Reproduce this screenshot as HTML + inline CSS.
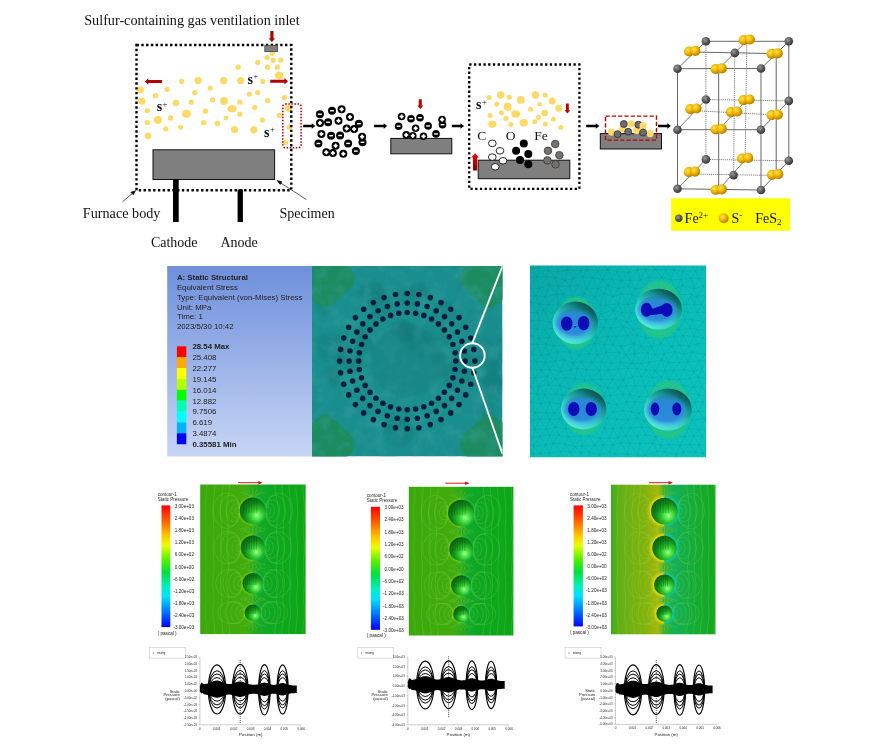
<!DOCTYPE html>
<html><head><meta charset="utf-8"><title>Figure</title>
<style>
html,body{margin:0;padding:0;background:#fff;}
body{width:876px;height:749px;overflow:hidden;position:relative;}
svg{position:absolute;left:0;top:0;display:block;}
.se{font-family:"Liberation Serif",serif;fill:#111;}
.sa{font-family:"Liberation Sans",sans-serif;fill:#222;}
</style></head><body>
<svg width="876" height="749" viewBox="0 0 876 749">
<defs>
<marker id="m" viewBox="0 0 10 10" refX="9" refY="5" markerWidth="7" markerHeight="7" orient="auto"><path d="M0,1.5 L10,5 L0,8.5 z" fill="#111"/></marker>
<radialGradient id="gy" cx="0.38" cy="0.35" r="0.7"><stop offset="0" stop-color="#ffe65a"/><stop offset="0.45" stop-color="#f5b800"/><stop offset="1" stop-color="#a87400"/></radialGradient>
<radialGradient id="gg" cx="0.38" cy="0.35" r="0.7"><stop offset="0" stop-color="#9a9a9a"/><stop offset="0.5" stop-color="#5e5e5e"/><stop offset="1" stop-color="#2e2e2e"/></radialGradient>
<linearGradient id="rup" x1="0" y1="0" x2="0" y2="1"><stop offset="0" stop-color="#ff0000"/><stop offset="1" stop-color="#8a0000"/></linearGradient>
<linearGradient id="pan" x1="0" y1="0" x2="0" y2="1"><stop offset="0" stop-color="#6f8fdc"/><stop offset="1" stop-color="#c7d5f4"/></linearGradient>
<linearGradient id="rb" x1="0" y1="0" x2="0" y2="1">
<stop offset="0" stop-color="#ff0000"/><stop offset="0.12" stop-color="#ff5a00"/><stop offset="0.25" stop-color="#ffc800"/><stop offset="0.33" stop-color="#e6ff00"/><stop offset="0.45" stop-color="#50f000"/><stop offset="0.55" stop-color="#00e040"/><stop offset="0.67" stop-color="#00f0c0"/><stop offset="0.75" stop-color="#00e0ff"/><stop offset="0.88" stop-color="#0070ff"/><stop offset="1" stop-color="#0000ff"/></linearGradient>
<filter id="b1" x="-5%" y="-5%" width="110%" height="110%"><feGaussianBlur stdDeviation="0.45"/></filter>
<filter id="b2" x="-5%" y="-5%" width="110%" height="110%"><feGaussianBlur stdDeviation="0.6"/></filter>
<filter id="b4" x="-30%" y="-30%" width="160%" height="160%"><feGaussianBlur stdDeviation="0.9"/></filter>
<filter id="b3" x="-20%" y="-20%" width="140%" height="140%"><feGaussianBlur stdDeviation="1.2"/></filter>
</defs>
<rect width="876" height="749" fill="#fff"/>

<g id="furnace">
<text class="se" x="84.2" y="25" font-size="14.2" textLength="215.4" lengthAdjust="spacingAndGlyphs">Sulfur-containing gas ventilation inlet</text>
<ellipse cx="140.2" cy="90" rx="3.6" ry="3.6" fill="#FFD966"/>
<ellipse cx="141.8" cy="101.2" rx="3.6" ry="3.6" fill="#FFD966"/>
<ellipse cx="167" cy="89.4" rx="2.6" ry="2.6" fill="#FFD966"/>
<ellipse cx="155.6" cy="95.7" rx="2.6" ry="2.6" fill="#FFD966"/>
<ellipse cx="181.7" cy="81.4" rx="2.6" ry="2.6" fill="#FFD966"/>
<ellipse cx="198.1" cy="80.6" rx="3.6" ry="3.6" fill="#FFD966"/>
<ellipse cx="223.6" cy="80.6" rx="3.6" ry="3.6" fill="#FFD966"/>
<ellipse cx="210.3" cy="88" rx="2.6" ry="2.6" fill="#FFD966"/>
<ellipse cx="194.9" cy="92.7" rx="2.6" ry="2.6" fill="#FFD966"/>
<ellipse cx="175.9" cy="103" rx="3.2" ry="3.2" fill="#FFD966"/>
<ellipse cx="191.3" cy="102.2" rx="2.6" ry="2.6" fill="#FFD966"/>
<ellipse cx="212.6" cy="99.8" rx="2.6" ry="2.6" fill="#FFD966"/>
<ellipse cx="224" cy="101" rx="4" ry="4" fill="#FFD966"/>
<ellipse cx="147.4" cy="110.7" rx="2.7" ry="2.4" fill="#FFD966"/>
<ellipse cx="186.5" cy="113.8" rx="4.5" ry="4" fill="#FFD966"/>
<ellipse cx="205.5" cy="111.2" rx="2.6" ry="2.6" fill="#FFD966"/>
<ellipse cx="230" cy="108.9" rx="2.6" ry="2.6" fill="#FFD966"/>
<ellipse cx="147.4" cy="122.5" rx="2.6" ry="2.6" fill="#FFD966"/>
<ellipse cx="157.9" cy="120.1" rx="4" ry="4" fill="#FFD966"/>
<ellipse cx="170.5" cy="117.9" rx="2.6" ry="2.6" fill="#FFD966"/>
<ellipse cx="165.7" cy="128.9" rx="2.6" ry="2.6" fill="#FFD966"/>
<ellipse cx="180.4" cy="127.2" rx="2.5" ry="2.5" fill="#FFD966"/>
<ellipse cx="203.7" cy="122.5" rx="2.6" ry="2.6" fill="#FFD966"/>
<ellipse cx="217.4" cy="123.5" rx="2.8" ry="2.8" fill="#FFD966"/>
<ellipse cx="225.9" cy="117.9" rx="2.4" ry="2.4" fill="#FFD966"/>
<ellipse cx="148" cy="135.8" rx="3.4" ry="3.4" fill="#FFD966"/>
<ellipse cx="272.3" cy="53.3" rx="2.6" ry="2.6" fill="#FFD966"/>
<ellipse cx="267" cy="57.5" rx="2.6" ry="2.6" fill="#FFD966"/>
<ellipse cx="273.2" cy="60.2" rx="2.6" ry="2.6" fill="#FFD966"/>
<ellipse cx="280.7" cy="60.1" rx="2.6" ry="2.6" fill="#FFD966"/>
<ellipse cx="257.7" cy="62.4" rx="2.6" ry="2.6" fill="#FFD966"/>
<ellipse cx="238.2" cy="67.2" rx="2.6" ry="2.6" fill="#FFD966"/>
<ellipse cx="267.6" cy="67.2" rx="2.6" ry="2.6" fill="#FFD966"/>
<ellipse cx="277.3" cy="67.2" rx="2.6" ry="2.6" fill="#FFD966"/>
<ellipse cx="279.2" cy="75.6" rx="4.4" ry="3.8" fill="#FFD966"/>
<ellipse cx="240.7" cy="80.7" rx="3.6" ry="3.6" fill="#FFD966"/>
<ellipse cx="262.8" cy="81.4" rx="2.6" ry="2.6" fill="#FFD966"/>
<ellipse cx="249.4" cy="94" rx="2.6" ry="2.6" fill="#FFD966"/>
<ellipse cx="257.7" cy="92.7" rx="2.6" ry="2.6" fill="#FFD966"/>
<ellipse cx="284.4" cy="97.5" rx="2.6" ry="2.6" fill="#FFD966"/>
<ellipse cx="267.6" cy="100.5" rx="2.6" ry="2.6" fill="#FFD966"/>
<ellipse cx="239.9" cy="102.2" rx="2.6" ry="2.6" fill="#FFD966"/>
<ellipse cx="232.3" cy="108.7" rx="4.5" ry="3.8" fill="#FFD966"/>
<ellipse cx="254.7" cy="107.6" rx="2.6" ry="2.6" fill="#FFD966"/>
<ellipse cx="288.6" cy="108.3" rx="3.6" ry="3.6" fill="#FFD966"/>
<ellipse cx="239.9" cy="114.1" rx="2.6" ry="2.6" fill="#FFD966"/>
<ellipse cx="279.5" cy="115.3" rx="2.6" ry="2.6" fill="#FFD966"/>
<ellipse cx="262.4" cy="120.1" rx="2.6" ry="2.6" fill="#FFD966"/>
<ellipse cx="234.5" cy="129.6" rx="3.6" ry="3.6" fill="#FFD966"/>
<ellipse cx="253.7" cy="129.8" rx="3.6" ry="3.6" fill="#FFD966"/>
<ellipse cx="289.5" cy="127.2" rx="2.6" ry="2.6" fill="#FFD966"/>
<ellipse cx="285.7" cy="142.5" rx="2.6" ry="2.6" fill="#FFD966"/>
<rect x="136.5" y="45" width="154.8" height="145.3" fill="none" stroke="#000" stroke-width="2.4" stroke-dasharray="2.4 2.39"/>
<rect x="264.8" y="45.4" width="12.8" height="6.2" fill="#808080" stroke="#444" stroke-width="0.8"/>
<polygon points="270.3,31.0 270.3,38.4 268.7,38.4 271.9,42.0 275.1,38.4 273.5,38.4 273.5,31.0" fill="#B00000"/>
<polygon points="162.0,80.0 148.4,80.0 148.4,78.3 144.8,81.5 148.4,84.7 148.4,83.0 162.0,83.0" fill="#B00000"/>
<polygon points="270.3,82.8 284.4,82.8 284.4,84.5 288.0,81.3 284.4,78.1 284.4,79.8 270.3,79.8" fill="#B00000"/>
<text class="se" x="159.4" y="111.4" font-size="14" font-weight="bold" text-anchor="middle">s</text>
<text class="se" x="165.0" y="106.9" font-size="8.5" text-anchor="middle">+</text>
<text class="se" x="250.2" y="83.8" font-size="14" font-weight="bold" text-anchor="middle">s</text>
<text class="se" x="255.79999999999998" y="79.3" font-size="8.5" text-anchor="middle">+</text>
<text class="se" x="266.7" y="136.6" font-size="14" font-weight="bold" text-anchor="middle">s</text>
<text class="se" x="272.3" y="132.1" font-size="8.5" text-anchor="middle">+</text>
<rect x="153" y="149.8" width="121.6" height="29.7" fill="#7F7F7F" stroke="#111" stroke-width="1"/>
<rect x="173" y="179.5" width="5.7" height="42.5" fill="#000"/>
<rect x="237.6" y="189.5" width="5.3" height="32.5" fill="#000"/>
<rect x="282.8" y="104" width="18.3" height="43.7" rx="2.5" fill="none" stroke="#C00000" stroke-width="1.6" stroke-dasharray="1.5 1.55"/>
<line x1="122.6" y1="201.7" x2="133" y2="192.9" stroke="#111" stroke-width="0.7"/><polygon points="136.2,190.2 133.3,195.2 130.4,191.9" fill="#111"/>
<line x1="306.3" y1="199.5" x2="280" y2="182.5" stroke="#111" stroke-width="0.7"/><polygon points="276.3,180.1 282.4,181.6 280.2,185.1" fill="#111"/>
<text class="se" x="82.8" y="217.7" font-size="14.2">Furnace body</text>
<text class="se" x="279.5" y="218" font-size="14">Specimen</text>
<text class="se" x="150.9" y="247.4" font-size="14">Cathode</text>
<text class="se" x="220.5" y="247.4" font-size="14">Anode</text>
</g>
<polygon points="303.2,127.2 311.8,127.2 311.8,128.8 315.4,126.0 311.8,123.2 311.8,124.8 303.2,124.8" fill="#000"/>
<polygon points="374.1,127.2 383.7,127.2 383.7,128.8 387.3,126.0 383.7,123.2 383.7,124.8 374.1,124.8" fill="#000"/>
<polygon points="451.8,127.2 460.5,127.2 460.5,128.8 464.1,126.0 460.5,123.2 460.5,124.8 451.8,124.8" fill="#000"/>
<polygon points="586.2,127.2 595.8,127.2 595.8,128.8 599.4,126.0 595.8,123.2 595.8,124.8 586.2,124.8" fill="#000"/>
<polygon points="657.9,127.2 667.3,127.2 667.3,128.8 670.9,126.0 667.3,123.2 667.3,124.8 657.9,124.8" fill="#000"/>
<g id="cluster">
<circle cx="319.9" cy="114.2" r="4" fill="#000"/><rect x="318.0" y="113.5" width="3.8" height="1.4" fill="#fff"/>
<circle cx="332" cy="110.7" r="4" fill="#000"/><rect x="330.1" y="110.0" width="3.8" height="1.4" fill="#fff"/>
<circle cx="328.1" cy="122.3" r="4" fill="#000"/><rect x="326.2" y="121.6" width="3.8" height="1.4" fill="#fff"/>
<circle cx="358.9" cy="123.7" r="4" fill="#000"/><rect x="357.0" y="123.0" width="3.8" height="1.4" fill="#fff"/>
<circle cx="331.1" cy="135.7" r="4" fill="#000"/><rect x="329.2" y="135.0" width="3.8" height="1.4" fill="#fff"/>
<circle cx="340.1" cy="135.5" r="4" fill="#000"/><rect x="338.2" y="134.8" width="3.8" height="1.4" fill="#fff"/>
<circle cx="318.4" cy="143.5" r="4" fill="#000"/><rect x="316.5" y="142.8" width="3.8" height="1.4" fill="#fff"/>
<circle cx="348.1" cy="143.4" r="4" fill="#000"/><rect x="346.2" y="142.7" width="3.8" height="1.4" fill="#fff"/>
<circle cx="362.5" cy="142.3" r="4" fill="#000"/><rect x="360.6" y="141.6" width="3.8" height="1.4" fill="#fff"/>
<circle cx="355.9" cy="151.1" r="4" fill="#000"/><rect x="354.0" y="150.4" width="3.8" height="1.4" fill="#fff"/>
<circle cx="341.6" cy="109.3" r="4" fill="#000"/><circle cx="341.6" cy="109.3" r="1.5" fill="#fff"/><rect x="339.5" y="108.5" width="4.2" height="1.5" fill="#fff"/><rect x="340.9" y="107.2" width="1.5" height="4.2" fill="#fff"/>
<circle cx="350" cy="117" r="4" fill="#000"/><circle cx="350" cy="117" r="1.5" fill="#fff"/><rect x="347.9" y="116.2" width="4.2" height="1.5" fill="#fff"/><rect x="349.2" y="114.9" width="1.5" height="4.2" fill="#fff"/>
<circle cx="320" cy="122.9" r="4" fill="#000"/><circle cx="320" cy="122.9" r="1.5" fill="#fff"/><rect x="317.9" y="122.2" width="4.2" height="1.5" fill="#fff"/><rect x="319.2" y="120.8" width="1.5" height="4.2" fill="#fff"/>
<circle cx="338.5" cy="120.7" r="4" fill="#000"/><circle cx="338.5" cy="120.7" r="1.5" fill="#fff"/><rect x="336.4" y="120.0" width="4.2" height="1.5" fill="#fff"/><rect x="337.8" y="118.6" width="1.5" height="4.2" fill="#fff"/>
<circle cx="346.7" cy="128.5" r="4" fill="#000"/><circle cx="346.7" cy="128.5" r="1.5" fill="#fff"/><rect x="344.6" y="127.8" width="4.2" height="1.5" fill="#fff"/><rect x="345.9" y="126.4" width="1.5" height="4.2" fill="#fff"/>
<circle cx="354.1" cy="129.1" r="4" fill="#000"/><circle cx="354.1" cy="129.1" r="1.5" fill="#fff"/><rect x="352.0" y="128.3" width="4.2" height="1.5" fill="#fff"/><rect x="353.4" y="127.0" width="1.5" height="4.2" fill="#fff"/>
<circle cx="321.4" cy="133.9" r="4" fill="#000"/><circle cx="321.4" cy="133.9" r="1.5" fill="#fff"/><rect x="319.3" y="133.2" width="4.2" height="1.5" fill="#fff"/><rect x="320.6" y="131.8" width="1.5" height="4.2" fill="#fff"/>
<circle cx="362.1" cy="136.7" r="4" fill="#000"/><circle cx="362.1" cy="136.7" r="1.5" fill="#fff"/><rect x="360.0" y="135.9" width="4.2" height="1.5" fill="#fff"/><rect x="361.4" y="134.6" width="1.5" height="4.2" fill="#fff"/>
<circle cx="335.6" cy="145.7" r="4" fill="#000"/><circle cx="335.6" cy="145.7" r="1.5" fill="#fff"/><rect x="333.5" y="144.9" width="4.2" height="1.5" fill="#fff"/><rect x="334.9" y="143.6" width="1.5" height="4.2" fill="#fff"/>
<circle cx="326.3" cy="152.3" r="4" fill="#000"/><circle cx="326.3" cy="152.3" r="1.5" fill="#fff"/><rect x="324.2" y="151.6" width="4.2" height="1.5" fill="#fff"/><rect x="325.6" y="150.2" width="1.5" height="4.2" fill="#fff"/>
<circle cx="332.9" cy="153.1" r="4" fill="#000"/><circle cx="332.9" cy="153.1" r="1.5" fill="#fff"/><rect x="330.8" y="152.3" width="4.2" height="1.5" fill="#fff"/><rect x="332.1" y="151.0" width="1.5" height="4.2" fill="#fff"/>
<circle cx="343.3" cy="153.8" r="4" fill="#000"/><circle cx="343.3" cy="153.8" r="1.5" fill="#fff"/><rect x="341.2" y="153.1" width="4.2" height="1.5" fill="#fff"/><rect x="342.6" y="151.7" width="1.5" height="4.2" fill="#fff"/>
</g>
<g id="deposit">
<rect x="390.8" y="138.4" width="61" height="15.4" fill="#7F7F7F" stroke="#111" stroke-width="1"/>
<polygon points="418.8,99.2 418.8,105.4 417.2,105.4 420.3,109.0 423.4,105.4 421.8,105.4 421.8,99.2" fill="#C00000"/>
<circle cx="411" cy="118.7" r="3.8" fill="#000"/><rect x="409.1" y="118.0" width="3.8" height="1.4" fill="#fff"/>
<circle cx="420" cy="117.7" r="3.8" fill="#000"/><rect x="418.1" y="117.0" width="3.8" height="1.4" fill="#fff"/>
<circle cx="398.6" cy="126.2" r="3.8" fill="#000"/><rect x="396.7" y="125.5" width="3.8" height="1.4" fill="#fff"/>
<circle cx="428.1" cy="125.9" r="3.8" fill="#000"/><rect x="426.2" y="125.2" width="3.8" height="1.4" fill="#fff"/>
<circle cx="442.5" cy="124.7" r="3.8" fill="#000"/><rect x="440.6" y="124.0" width="3.8" height="1.4" fill="#fff"/>
<circle cx="436" cy="133.9" r="3.8" fill="#000"/><rect x="434.1" y="133.2" width="3.8" height="1.4" fill="#fff"/>
<circle cx="401.6" cy="116.5" r="3.8" fill="#000"/><circle cx="401.6" cy="116.5" r="1.5" fill="#fff"/><rect x="399.5" y="115.8" width="4.2" height="1.5" fill="#fff"/><rect x="400.9" y="114.4" width="1.5" height="4.2" fill="#fff"/>
<circle cx="442.1" cy="119.5" r="3.8" fill="#000"/><circle cx="442.1" cy="119.5" r="1.5" fill="#fff"/><rect x="440.0" y="118.8" width="4.2" height="1.5" fill="#fff"/><rect x="441.4" y="117.4" width="1.5" height="4.2" fill="#fff"/>
<circle cx="415.6" cy="128.3" r="3.8" fill="#000"/><circle cx="415.6" cy="128.3" r="1.5" fill="#fff"/><rect x="413.5" y="127.6" width="4.2" height="1.5" fill="#fff"/><rect x="414.9" y="126.2" width="1.5" height="4.2" fill="#fff"/>
<circle cx="406.2" cy="134.9" r="3.8" fill="#000"/><circle cx="406.2" cy="134.9" r="1.5" fill="#fff"/><rect x="404.1" y="134.2" width="4.2" height="1.5" fill="#fff"/><rect x="405.4" y="132.8" width="1.5" height="4.2" fill="#fff"/>
<circle cx="412.8" cy="135.7" r="3.8" fill="#000"/><circle cx="412.8" cy="135.7" r="1.5" fill="#fff"/><rect x="410.7" y="134.9" width="4.2" height="1.5" fill="#fff"/><rect x="412.1" y="133.6" width="1.5" height="4.2" fill="#fff"/>
<circle cx="423.5" cy="136.3" r="3.8" fill="#000"/><circle cx="423.5" cy="136.3" r="1.5" fill="#fff"/><rect x="421.4" y="135.6" width="4.2" height="1.5" fill="#fff"/><rect x="422.8" y="134.2" width="1.5" height="4.2" fill="#fff"/>
</g>
<g id="box2">
<rect x="469.2" y="64.5" width="110.2" height="124.4" fill="none" stroke="#000" stroke-width="2.3" stroke-dasharray="2.3 2.44"/>
<ellipse cx="489" cy="97.6" rx="2.5" ry="2.5" fill="#FFD966"/>
<ellipse cx="500.6" cy="95" rx="3.7" ry="3.7" fill="#FFD966"/>
<ellipse cx="509.3" cy="97.2" rx="2.5" ry="2.5" fill="#FFD966"/>
<ellipse cx="520.9" cy="99.9" rx="3.9" ry="3.9" fill="#FFD966"/>
<ellipse cx="535.5" cy="95" rx="3.7" ry="3.7" fill="#FFD966"/>
<ellipse cx="545.3" cy="95.2" rx="2.5" ry="2.5" fill="#FFD966"/>
<ellipse cx="552.3" cy="101" rx="3.5" ry="3.5" fill="#FFD966"/>
<ellipse cx="558.7" cy="108.2" rx="3.5" ry="3.5" fill="#FFD966"/>
<ellipse cx="496.8" cy="103.9" rx="2.5" ry="2.5" fill="#FFD966"/>
<ellipse cx="507.6" cy="106.8" rx="4" ry="4" fill="#FFD966"/>
<ellipse cx="539.7" cy="104.3" rx="2.3" ry="2.3" fill="#FFD966"/>
<ellipse cx="530.6" cy="109.2" rx="2.5" ry="2.5" fill="#FFD966"/>
<ellipse cx="544.7" cy="113" rx="3.3" ry="3.3" fill="#FFD966"/>
<ellipse cx="490" cy="115.4" rx="2.5" ry="2.5" fill="#FFD966"/>
<ellipse cx="501.4" cy="112.7" rx="2.5" ry="2.5" fill="#FFD966"/>
<ellipse cx="515.7" cy="114" rx="4.4" ry="3.7" fill="#FFD966"/>
<ellipse cx="506" cy="118.5" rx="2.5" ry="2.5" fill="#FFD966"/>
<ellipse cx="538.4" cy="117.3" rx="2.5" ry="2.5" fill="#FFD966"/>
<ellipse cx="553.4" cy="119.2" rx="2.5" ry="2.5" fill="#FFD966"/>
<ellipse cx="492.3" cy="124.1" rx="4.2" ry="3.7" fill="#FFD966"/>
<ellipse cx="510.9" cy="124.6" rx="2.5" ry="2.5" fill="#FFD966"/>
<ellipse cx="523.8" cy="122.7" rx="4.2" ry="3.7" fill="#FFD966"/>
<ellipse cx="534.7" cy="121.7" rx="2.5" ry="2.5" fill="#FFD966"/>
<ellipse cx="545.3" cy="124.1" rx="2.5" ry="2.5" fill="#FFD966"/>
<ellipse cx="560.8" cy="127.5" rx="2.5" ry="2.5" fill="#FFD966"/>
<text class="se" x="478.8" y="109" font-size="14" font-weight="bold" text-anchor="middle">s</text>
<text class="se" x="484.40000000000003" y="104.5" font-size="8.5" text-anchor="middle">+</text>
<text class="se" x="477.2" y="139.6" font-size="13.5">C</text>
<text class="se" x="505.8" y="139.6" font-size="13.5">O</text>
<text class="se" x="534.3" y="139.6" font-size="13.5">Fe</text>
<rect x="478.2" y="160.2" width="91.6" height="18.5" fill="#7F7F7F" stroke="#111" stroke-width="1"/>
<ellipse cx="492.3" cy="143.4" rx="3.9" ry="3.3" fill="#fff" stroke="#111" stroke-width="0.9"/>
<ellipse cx="500" cy="150.8" rx="3.9" ry="3.3" fill="#fff" stroke="#111" stroke-width="0.9"/>
<ellipse cx="492.3" cy="157.1" rx="3.9" ry="3.3" fill="#fff" stroke="#111" stroke-width="0.9"/>
<ellipse cx="503" cy="160.8" rx="3.9" ry="3.3" fill="#fff" stroke="#111" stroke-width="0.9"/>
<ellipse cx="495.2" cy="166.8" rx="3.9" ry="3.3" fill="#fff" stroke="#111" stroke-width="0.9"/>
<circle cx="523.8" cy="143.4" r="4" fill="#000"/>
<circle cx="516.1" cy="150.8" r="4" fill="#000"/>
<circle cx="528.3" cy="154.1" r="4" fill="#000"/>
<circle cx="520" cy="160.1" r="4" fill="#000"/>
<circle cx="528.3" cy="164.3" r="4" fill="#000"/>
<circle cx="555.2" cy="144" r="3.8" fill="#767171" stroke="#3a3a3a" stroke-width="0.8"/>
<circle cx="548" cy="150.8" r="3.8" fill="#767171" stroke="#3a3a3a" stroke-width="0.8"/>
<circle cx="559.4" cy="155.2" r="3.8" fill="#767171" stroke="#3a3a3a" stroke-width="0.8"/>
<circle cx="547.4" cy="160.4" r="3.8" fill="#767171" stroke="#3a3a3a" stroke-width="0.8"/>
<circle cx="555.6" cy="164.3" r="3.8" fill="#767171" stroke="#3a3a3a" stroke-width="0.8"/>
<polygon points="477.2,170.6 477.2,157.4 479.0,157.4 475.1,153.2 471.2,157.4 473.0,157.4 473.0,170.6" fill="url(#rup)"/>
<polygon points="566.0,103.4 566.0,110.2 564.5,110.2 567.4,113.6 570.3,110.2 568.8,110.2 568.8,103.4" fill="#C00000"/>
</g>
<g id="small">
<rect x="600.3" y="133.6" width="61.2" height="15.4" fill="#7F7F7F" stroke="#111" stroke-width="1"/>
<circle cx="611.7" cy="132.2" r="3.6" fill="#FFD966"/>
<circle cx="622.7" cy="128.8" r="3.6" fill="#FFD966"/>
<circle cx="636.6" cy="130.7" r="3.6" fill="#FFD966"/>
<circle cx="650.1" cy="133.6" r="3.6" fill="#FFD966"/>
<circle cx="623.9" cy="124" r="3.5" fill="#6e6a6a" stroke="#2e2e2e" stroke-width="0.8"/>
<circle cx="617.5" cy="134.2" r="3.5" fill="#6e6a6a" stroke="#2e2e2e" stroke-width="0.8"/>
<circle cx="628.2" cy="131.8" r="3.5" fill="#6e6a6a" stroke="#2e2e2e" stroke-width="0.8"/>
<circle cx="631.2" cy="123.8" r="3.6" fill="#FFD966"/>
<circle cx="638.4" cy="124.7" r="3.5" fill="#6e6a6a" stroke="#2e2e2e" stroke-width="0.8"/>
<circle cx="643.1" cy="125.9" r="3.6" fill="#FFD966"/>
<circle cx="643.1" cy="132.5" r="3.5" fill="#6e6a6a" stroke="#2e2e2e" stroke-width="0.8"/>
<rect x="605.5" y="116.1" width="51" height="24" fill="none" stroke="#C00000" stroke-width="1.4" stroke-dasharray="4.2 2.1"/>
</g>
<g id="crystal">
<line x1="705.9" y1="41.3" x2="705.9" y2="159.4" stroke="#222" stroke-width="0.6" stroke-dasharray="1.2 0.9"/>
<line x1="734.8" y1="52.9" x2="733.6" y2="175.1" stroke="#222" stroke-width="0.6" stroke-dasharray="1.2 0.9"/>
<line x1="746.8" y1="41" x2="745.1" y2="160" stroke="#222" stroke-width="0.6" stroke-dasharray="1.2 0.9"/>
<line x1="705.9" y1="99.5" x2="788.8" y2="100.9" stroke="#222" stroke-width="0.6" stroke-dasharray="1.2 0.9"/>
<line x1="693.4" y1="110.6" x2="774.7" y2="114.9" stroke="#222" stroke-width="0.6" stroke-dasharray="1.2 0.9"/>
<line x1="705.9" y1="159.4" x2="788.8" y2="160.8" stroke="#222" stroke-width="0.6" stroke-dasharray="1.2 0.9"/>
<line x1="692" y1="174" x2="775.1" y2="175.5" stroke="#222" stroke-width="0.6" stroke-dasharray="1.2 0.9"/>
<line x1="677.5" y1="68.7" x2="761" y2="68.5" stroke="#666" stroke-width="1.0"/>
<line x1="761" y1="68.5" x2="788.8" y2="41.3" stroke="#666" stroke-width="1.0"/>
<line x1="677.5" y1="68.7" x2="705.9" y2="41.3" stroke="#666" stroke-width="0.9"/>
<line x1="718.7" y1="68.7" x2="746.8" y2="41" stroke="#666" stroke-width="0.9"/>
<line x1="677.5" y1="129.7" x2="760.9" y2="129.7" stroke="#666" stroke-width="1.0"/>
<line x1="760.9" y1="129.7" x2="788.8" y2="100.9" stroke="#666" stroke-width="1.0"/>
<line x1="677.5" y1="129.7" x2="705.9" y2="99.5" stroke="#666" stroke-width="0.9"/>
<line x1="718.7" y1="129.5" x2="746.5" y2="100.3" stroke="#666" stroke-width="0.9"/>
<line x1="677.5" y1="188.8" x2="761" y2="190" stroke="#666" stroke-width="1.0"/>
<line x1="761" y1="190" x2="788.8" y2="160.8" stroke="#666" stroke-width="1.0"/>
<line x1="677.5" y1="188.8" x2="705.9" y2="159.4" stroke="#666" stroke-width="0.9"/>
<line x1="718.7" y1="189.7" x2="745.1" y2="160" stroke="#666" stroke-width="0.9"/>
<line x1="705.9" y1="41.3" x2="788.8" y2="41.3" stroke="#666" stroke-width="1.0"/>
<line x1="692.2" y1="52" x2="774.7" y2="53.6" stroke="#666" stroke-width="1.0"/>
<line x1="677.5" y1="68.7" x2="677.5" y2="188.8" stroke="#666" stroke-width="1.0"/>
<line x1="761" y1="68.5" x2="761" y2="190" stroke="#666" stroke-width="1.0"/>
<line x1="788.8" y1="41.3" x2="788.8" y2="160.8" stroke="#666" stroke-width="1.0"/>
<line x1="718.7" y1="68.7" x2="718.7" y2="189.7" stroke="#666" stroke-width="1.0"/>
<line x1="776.2" y1="53.6" x2="776.2" y2="175.5" stroke="#666" stroke-width="1.0"/>
<circle cx="705.9" cy="159.4" r="4.3" fill="url(#gg)"/>
<circle cx="788.8" cy="160.8" r="4.3" fill="url(#gg)"/>
<circle cx="742.0" cy="158.5" r="5.1" fill="url(#gy)"/><circle cx="748.2" cy="157.89999999999998" r="5.1" fill="url(#gy)"/>
<circle cx="688.9" cy="172.20000000000002" r="5.1" fill="url(#gy)"/><circle cx="695.1" cy="171.6" r="5.1" fill="url(#gy)"/>
<circle cx="733.6" cy="175.1" r="4.3" fill="url(#gg)"/>
<circle cx="772.0" cy="174.8" r="5.1" fill="url(#gy)"/><circle cx="778.2" cy="174.2" r="5.1" fill="url(#gy)"/>
<circle cx="677.5" cy="188.8" r="4.3" fill="url(#gg)"/>
<circle cx="761" cy="190" r="4.3" fill="url(#gg)"/>
<circle cx="715.6" cy="190.0" r="5.1" fill="url(#gy)"/><circle cx="721.8000000000001" cy="189.39999999999998" r="5.1" fill="url(#gy)"/>
<circle cx="705.9" cy="99.5" r="4.3" fill="url(#gg)"/>
<circle cx="788.8" cy="100.9" r="4.3" fill="url(#gg)"/>
<circle cx="743.4" cy="100.1" r="5.1" fill="url(#gy)"/><circle cx="749.6" cy="99.5" r="5.1" fill="url(#gy)"/>
<circle cx="690.3" cy="109.1" r="5.1" fill="url(#gy)"/><circle cx="696.5" cy="108.5" r="5.1" fill="url(#gy)"/>
<circle cx="730.9" cy="112.1" r="5.1" fill="url(#gy)"/><circle cx="737.1" cy="111.5" r="5.1" fill="url(#gy)"/>
<circle cx="771.6" cy="115.2" r="5.1" fill="url(#gy)"/><circle cx="777.8000000000001" cy="114.60000000000001" r="5.1" fill="url(#gy)"/>
<circle cx="677.5" cy="129.7" r="4.3" fill="url(#gg)"/>
<circle cx="760.9" cy="129.7" r="4.3" fill="url(#gg)"/>
<circle cx="715.6" cy="129.5" r="5.1" fill="url(#gy)"/><circle cx="721.8000000000001" cy="128.89999999999998" r="5.1" fill="url(#gy)"/>
<circle cx="705.9" cy="41.3" r="4.3" fill="url(#gg)"/>
<circle cx="788.8" cy="41.3" r="4.3" fill="url(#gg)"/>
<circle cx="743.6999999999999" cy="40.099999999999994" r="5.1" fill="url(#gy)"/><circle cx="749.9" cy="39.5" r="5.1" fill="url(#gy)"/>
<circle cx="689.1" cy="51.5" r="5.1" fill="url(#gy)"/><circle cx="695.3000000000001" cy="50.900000000000006" r="5.1" fill="url(#gy)"/>
<circle cx="734.8" cy="52.9" r="4.3" fill="url(#gg)"/>
<circle cx="771.6" cy="53.9" r="5.1" fill="url(#gy)"/><circle cx="777.8000000000001" cy="53.300000000000004" r="5.1" fill="url(#gy)"/>
<circle cx="677.5" cy="68.7" r="4.3" fill="url(#gg)"/>
<circle cx="761" cy="68.5" r="4.3" fill="url(#gg)"/>
<circle cx="715.6" cy="69.0" r="5.1" fill="url(#gy)"/><circle cx="721.8000000000001" cy="68.4" r="5.1" fill="url(#gy)"/>
<rect x="671.1" y="198.3" width="119" height="32.5" fill="#FFFF00"/>
<circle cx="678.8" cy="218.3" r="3.7" fill="url(#gg)"/>
<circle cx="723.7" cy="218.3" r="5" fill="url(#gy)"/>
<text class="se" x="684.6" y="222.8" font-size="14">Fe<tspan font-size="9" dy="-5.2">2+</tspan></text>
<text class="se" x="731.4" y="222.8" font-size="14">S<tspan font-size="9" dy="-5.2">-</tspan></text>
<text class="se" x="755.3" y="222.8" font-size="14">FeS<tspan font-size="9" dy="2.6">2</tspan></text>
</g>
<g id="ansys" filter="url(#b1)">
<rect x="167.2" y="266" width="145" height="190.5" fill="url(#pan)"/>
<text class="sa" x="176.9" y="280.30" font-size="7.85" font-weight="bold" fill="#0a0a14">A: Static Structural</text>
<text class="sa" x="176.9" y="290.05" font-size="7.85" fill="#0a0a14">Equivalent Stress</text>
<text class="sa" x="176.9" y="299.80" font-size="7.85" fill="#0a0a14">Type: Equivalent (von-Mises) Stress</text>
<text class="sa" x="176.9" y="309.55" font-size="7.85" fill="#0a0a14">Unit: MPa</text>
<text class="sa" x="176.9" y="319.30" font-size="7.85" fill="#0a0a14">Time: 1</text>
<text class="sa" x="176.9" y="329.05" font-size="7.85" fill="#0a0a14">2023/5/30 10:42</text>
<rect x="176.9" y="346.30" width="9.4" height="10.95" fill="#FF0000"/>
<rect x="176.9" y="357.17" width="9.4" height="10.95" fill="#FFA800"/>
<rect x="176.9" y="368.04" width="9.4" height="10.95" fill="#FFFF00"/>
<rect x="176.9" y="378.91" width="9.4" height="10.95" fill="#B2FF00"/>
<rect x="176.9" y="389.78" width="9.4" height="10.95" fill="#00FF00"/>
<rect x="176.9" y="400.65" width="9.4" height="10.95" fill="#00FFB2"/>
<rect x="176.9" y="411.52" width="9.4" height="10.95" fill="#00FFFF"/>
<rect x="176.9" y="422.39" width="9.4" height="10.95" fill="#00B2FF"/>
<rect x="176.9" y="433.26" width="9.4" height="10.95" fill="#0000FF"/>
<text class="sa" x="192.4" y="349.20" font-size="7.85" font-weight="bold" fill="#0a0a14">28.54 Max</text>
<text class="sa" x="192.4" y="360.07" font-size="7.85" fill="#0a0a14">25.408</text>
<text class="sa" x="192.4" y="370.94" font-size="7.85" fill="#0a0a14">22.277</text>
<text class="sa" x="192.4" y="381.81" font-size="7.85" fill="#0a0a14">19.145</text>
<text class="sa" x="192.4" y="392.68" font-size="7.85" fill="#0a0a14">16.014</text>
<text class="sa" x="192.4" y="403.55" font-size="7.85" fill="#0a0a14">12.882</text>
<text class="sa" x="192.4" y="414.42" font-size="7.85" fill="#0a0a14">9.7506</text>
<text class="sa" x="192.4" y="425.29" font-size="7.85" fill="#0a0a14">6.619</text>
<text class="sa" x="192.4" y="436.16" font-size="7.85" fill="#0a0a14">3.4874</text>
<text class="sa" x="192.4" y="447.03" font-size="7.85" font-weight="bold" fill="#0a0a14">0.35581 Min</text>
</g>
<g id="teal">
<clipPath id="ct"><rect x="312" y="266" width="190.5" height="190.5"/></clipPath>
<g clip-path="url(#ct)">
<rect x="312" y="266" width="190.5" height="190.5" fill="#1a8e8e"/>
<circle cx="373.5" cy="294.7" r="12.5" fill="#137a7a" opacity="0.35" filter="url(#b3)"/>
<circle cx="468.0" cy="283.9" r="11.8" fill="#127676" opacity="0.35" filter="url(#b3)"/>
<circle cx="352.8" cy="282.3" r="10.2" fill="#1a9090" opacity="0.35" filter="url(#b3)"/>
<circle cx="329.2" cy="346.7" r="14.3" fill="#137a7a" opacity="0.35" filter="url(#b3)"/>
<circle cx="492.0" cy="385.8" r="11.8" fill="#137a7a" opacity="0.35" filter="url(#b3)"/>
<circle cx="421.6" cy="341.4" r="15.8" fill="#137a7a" opacity="0.35" filter="url(#b3)"/>
<circle cx="417.8" cy="291.3" r="10.2" fill="#127676" opacity="0.35" filter="url(#b3)"/>
<circle cx="334.4" cy="324.6" r="14.2" fill="#1a9090" opacity="0.35" filter="url(#b3)"/>
<circle cx="331.6" cy="374.5" r="7.9" fill="#137a7a" opacity="0.35" filter="url(#b3)"/>
<circle cx="416.1" cy="277.9" r="6.6" fill="#1a9090" opacity="0.35" filter="url(#b3)"/>
<circle cx="406.3" cy="367.0" r="13.8" fill="#1b8e8e" opacity="0.35" filter="url(#b3)"/>
<circle cx="423.3" cy="352.1" r="9.0" fill="#1a9090" opacity="0.35" filter="url(#b3)"/>
<circle cx="444.8" cy="312.4" r="11.7" fill="#127676" opacity="0.35" filter="url(#b3)"/>
<circle cx="406.1" cy="331.3" r="10.5" fill="#127676" opacity="0.35" filter="url(#b3)"/>
<circle cx="498.2" cy="288.4" r="10.2" fill="#157e7e" opacity="0.35" filter="url(#b3)"/>
<circle cx="340.9" cy="358.9" r="6.4" fill="#137a7a" opacity="0.35" filter="url(#b3)"/>
<circle cx="457.3" cy="374.9" r="14.8" fill="#157e7e" opacity="0.35" filter="url(#b3)"/>
<circle cx="376.6" cy="332.5" r="11.0" fill="#1b8e8e" opacity="0.35" filter="url(#b3)"/>
<circle cx="325.1" cy="283.8" r="8.7" fill="#137a7a" opacity="0.35" filter="url(#b3)"/>
<circle cx="323.5" cy="399.3" r="12.5" fill="#1b8e8e" opacity="0.35" filter="url(#b3)"/>
<circle cx="366.1" cy="339.3" r="12.7" fill="#137a7a" opacity="0.35" filter="url(#b3)"/>
<circle cx="490.7" cy="333.5" r="12.1" fill="#1b8e8e" opacity="0.35" filter="url(#b3)"/>
<circle cx="323.2" cy="412.0" r="7.3" fill="#1a9090" opacity="0.35" filter="url(#b3)"/>
<circle cx="387.6" cy="440.2" r="11.0" fill="#1a9090" opacity="0.35" filter="url(#b3)"/>
<circle cx="397.3" cy="370.4" r="14.8" fill="#1b8e8e" opacity="0.35" filter="url(#b3)"/>
<circle cx="476.2" cy="318.9" r="10.2" fill="#157e7e" opacity="0.35" filter="url(#b3)"/>
<circle cx="441.7" cy="338.3" r="8.3" fill="#137a7a" opacity="0.35" filter="url(#b3)"/>
<circle cx="345.5" cy="310.1" r="8.3" fill="#1b8e8e" opacity="0.35" filter="url(#b3)"/>
<circle cx="469.9" cy="300.6" r="8.8" fill="#1a9090" opacity="0.35" filter="url(#b3)"/>
<circle cx="391.6" cy="336.2" r="11.7" fill="#1a9090" opacity="0.35" filter="url(#b3)"/>
<circle cx="443.2" cy="363.9" r="12.2" fill="#137a7a" opacity="0.35" filter="url(#b3)"/>
<circle cx="398.8" cy="431.5" r="15.5" fill="#127676" opacity="0.35" filter="url(#b3)"/>
<circle cx="386.6" cy="341.8" r="7.0" fill="#1b8e8e" opacity="0.35" filter="url(#b3)"/>
<circle cx="323.8" cy="278.8" r="8.1" fill="#1a9090" opacity="0.35" filter="url(#b3)"/>
<circle cx="332.9" cy="380.1" r="7.0" fill="#127676" opacity="0.35" filter="url(#b3)"/>
<circle cx="340.7" cy="285.3" r="9.6" fill="#137a7a" opacity="0.35" filter="url(#b3)"/>
<circle cx="325.4" cy="305.5" r="9.8" fill="#157e7e" opacity="0.35" filter="url(#b3)"/>
<circle cx="493.5" cy="380.4" r="10.7" fill="#137a7a" opacity="0.35" filter="url(#b3)"/>
<circle cx="473.3" cy="454.7" r="10.7" fill="#1b8e8e" opacity="0.35" filter="url(#b3)"/>
<circle cx="371.3" cy="293.4" r="13.5" fill="#157e7e" opacity="0.35" filter="url(#b3)"/>
<circle cx="402.9" cy="397.5" r="11.2" fill="#1a9090" opacity="0.35" filter="url(#b3)"/>
<circle cx="492.7" cy="366.4" r="7.5" fill="#127676" opacity="0.35" filter="url(#b3)"/>
<circle cx="485.7" cy="410.0" r="9.0" fill="#137a7a" opacity="0.35" filter="url(#b3)"/>
<circle cx="444.3" cy="315.6" r="9.7" fill="#1a9090" opacity="0.35" filter="url(#b3)"/>
<circle cx="379.6" cy="308.3" r="11.4" fill="#127676" opacity="0.35" filter="url(#b3)"/>
<circle cx="374.6" cy="308.4" r="14.1" fill="#1a9090" opacity="0.35" filter="url(#b3)"/>
<circle cx="465.2" cy="421.5" r="13.4" fill="#1a9090" opacity="0.35" filter="url(#b3)"/>
<circle cx="350.0" cy="359.6" r="13.3" fill="#137a7a" opacity="0.35" filter="url(#b3)"/>
<circle cx="462.1" cy="355.7" r="7.9" fill="#127676" opacity="0.35" filter="url(#b3)"/>
<circle cx="493.7" cy="351.0" r="15.4" fill="#157e7e" opacity="0.35" filter="url(#b3)"/>
<circle cx="493.5" cy="335.3" r="8.2" fill="#1a9090" opacity="0.35" filter="url(#b3)"/>
<circle cx="401.3" cy="330.2" r="10.8" fill="#127676" opacity="0.35" filter="url(#b3)"/>
<circle cx="471.7" cy="357.1" r="12.5" fill="#137a7a" opacity="0.35" filter="url(#b3)"/>
<circle cx="470.6" cy="288.8" r="9.9" fill="#1a9090" opacity="0.35" filter="url(#b3)"/>
<circle cx="402.8" cy="299.9" r="13.9" fill="#157e7e" opacity="0.35" filter="url(#b3)"/>
<circle cx="328.5" cy="445.8" r="13.2" fill="#1b8e8e" opacity="0.35" filter="url(#b3)"/>
<circle cx="388.3" cy="445.9" r="13.2" fill="#1a9090" opacity="0.35" filter="url(#b3)"/>
<circle cx="500.7" cy="271.2" r="11.9" fill="#1b8e8e" opacity="0.35" filter="url(#b3)"/>
<circle cx="465.2" cy="293.8" r="14.3" fill="#1b8e8e" opacity="0.35" filter="url(#b3)"/>
<circle cx="436.9" cy="332.6" r="11.5" fill="#1a9090" opacity="0.35" filter="url(#b3)"/>
<filter id="noise" x="0" y="0" width="100%" height="100%"><feTurbulence type="fractalNoise" baseFrequency="0.07" numOctaves="3" seed="4"/><feColorMatrix type="matrix" values="0 0 0 0 0.05  0 0 0 0 0.36  0 0 0 0 0.37  0 0 0 2.4 -1.0"/></filter>
<g filter="url(#b2)">
<path d="M0,0 L35,0 Q42,3 42.5,12 Q42,18 38,22.5 L17,41.2 Q13,43.6 9,41 L0,33.5 Z" fill="#1d8c60" transform="translate(312,266)"/>
<path d="M0,0 L35,0 Q42,3 42.5,12 Q42,18 38,22.5 L17,41.2 Q13,43.6 9,41 L0,33.5 Z" fill="#1d8c60" transform="translate(502.5,266) scale(-1,1)"/>
<path d="M0,0 L35,0 Q42,3 42.5,12 Q42,18 38,22.5 L17,41.2 Q13,43.6 9,41 L0,33.5 Z" fill="#1d8c60" transform="translate(312,456.5) scale(1,-1)"/>
<path d="M0,0 L35,0 Q42,3 42.5,12 Q42,18 38,22.5 L17,41.2 Q13,43.6 9,41 L0,33.5 Z" fill="#1d8c60" transform="translate(502.5,456.5) scale(-1,-1)"/>
</g>
<rect x="312" y="266" width="190.5" height="190.5" filter="url(#noise)" opacity="0.42"/>
<circle cx="407.2" cy="361.1" r="36" fill="#137b7b" opacity="0.35" filter="url(#b3)"/>
<g filter="url(#b1)">
<circle cx="455.8" cy="361.1" r="2.8" fill="#031c24" opacity="0.92"/><circle cx="455.8" cy="361.1" r="1.25" fill="#0c0c78"/>
<circle cx="455.1" cy="369.5" r="2.8" fill="#031c24" opacity="0.92"/><circle cx="455.1" cy="369.5" r="1.25" fill="#0c0c78"/>
<circle cx="452.9" cy="377.7" r="2.8" fill="#031c24" opacity="0.92"/><circle cx="452.9" cy="377.7" r="1.25" fill="#0c0c78"/>
<circle cx="449.3" cy="385.4" r="2.8" fill="#031c24" opacity="0.92"/><circle cx="449.3" cy="385.4" r="1.25" fill="#0c0c78"/>
<circle cx="444.4" cy="392.3" r="2.8" fill="#031c24" opacity="0.92"/><circle cx="444.4" cy="392.3" r="1.25" fill="#0c0c78"/>
<circle cx="438.4" cy="398.3" r="2.8" fill="#031c24" opacity="0.92"/><circle cx="438.4" cy="398.3" r="1.25" fill="#0c0c78"/>
<circle cx="431.5" cy="403.2" r="2.8" fill="#031c24" opacity="0.92"/><circle cx="431.5" cy="403.2" r="1.25" fill="#0c0c78"/>
<circle cx="423.8" cy="406.8" r="2.8" fill="#031c24" opacity="0.92"/><circle cx="423.8" cy="406.8" r="1.25" fill="#0c0c78"/>
<circle cx="415.6" cy="409.0" r="2.8" fill="#031c24" opacity="0.92"/><circle cx="415.6" cy="409.0" r="1.25" fill="#0c0c78"/>
<circle cx="407.2" cy="409.7" r="2.8" fill="#031c24" opacity="0.92"/><circle cx="407.2" cy="409.7" r="1.25" fill="#0c0c78"/>
<circle cx="398.8" cy="409.0" r="2.8" fill="#031c24" opacity="0.92"/><circle cx="398.8" cy="409.0" r="1.25" fill="#0c0c78"/>
<circle cx="390.6" cy="406.8" r="2.8" fill="#031c24" opacity="0.92"/><circle cx="390.6" cy="406.8" r="1.25" fill="#0c0c78"/>
<circle cx="382.9" cy="403.2" r="2.8" fill="#031c24" opacity="0.92"/><circle cx="382.9" cy="403.2" r="1.25" fill="#0c0c78"/>
<circle cx="376.0" cy="398.3" r="2.8" fill="#031c24" opacity="0.92"/><circle cx="376.0" cy="398.3" r="1.25" fill="#0c0c78"/>
<circle cx="370.0" cy="392.3" r="2.8" fill="#031c24" opacity="0.92"/><circle cx="370.0" cy="392.3" r="1.25" fill="#0c0c78"/>
<circle cx="365.1" cy="385.4" r="2.8" fill="#031c24" opacity="0.92"/><circle cx="365.1" cy="385.4" r="1.25" fill="#0c0c78"/>
<circle cx="361.5" cy="377.7" r="2.8" fill="#031c24" opacity="0.92"/><circle cx="361.5" cy="377.7" r="1.25" fill="#0c0c78"/>
<circle cx="359.3" cy="369.5" r="2.8" fill="#031c24" opacity="0.92"/><circle cx="359.3" cy="369.5" r="1.25" fill="#0c0c78"/>
<circle cx="358.6" cy="361.1" r="2.8" fill="#031c24" opacity="0.92"/><circle cx="358.6" cy="361.1" r="1.25" fill="#0c0c78"/>
<circle cx="359.3" cy="352.7" r="2.8" fill="#031c24" opacity="0.92"/><circle cx="359.3" cy="352.7" r="1.25" fill="#0c0c78"/>
<circle cx="361.5" cy="344.5" r="2.8" fill="#031c24" opacity="0.92"/><circle cx="361.5" cy="344.5" r="1.25" fill="#0c0c78"/>
<circle cx="365.1" cy="336.8" r="2.8" fill="#031c24" opacity="0.92"/><circle cx="365.1" cy="336.8" r="1.25" fill="#0c0c78"/>
<circle cx="370.0" cy="329.9" r="2.8" fill="#031c24" opacity="0.92"/><circle cx="370.0" cy="329.9" r="1.25" fill="#0c0c78"/>
<circle cx="376.0" cy="323.9" r="2.8" fill="#031c24" opacity="0.92"/><circle cx="376.0" cy="323.9" r="1.25" fill="#0c0c78"/>
<circle cx="382.9" cy="319.0" r="2.8" fill="#031c24" opacity="0.92"/><circle cx="382.9" cy="319.0" r="1.25" fill="#0c0c78"/>
<circle cx="390.6" cy="315.4" r="2.8" fill="#031c24" opacity="0.92"/><circle cx="390.6" cy="315.4" r="1.25" fill="#0c0c78"/>
<circle cx="398.8" cy="313.2" r="2.8" fill="#031c24" opacity="0.92"/><circle cx="398.8" cy="313.2" r="1.25" fill="#0c0c78"/>
<circle cx="407.2" cy="312.5" r="2.8" fill="#031c24" opacity="0.92"/><circle cx="407.2" cy="312.5" r="1.25" fill="#0c0c78"/>
<circle cx="415.6" cy="313.2" r="2.8" fill="#031c24" opacity="0.92"/><circle cx="415.6" cy="313.2" r="1.25" fill="#0c0c78"/>
<circle cx="423.8" cy="315.4" r="2.8" fill="#031c24" opacity="0.92"/><circle cx="423.8" cy="315.4" r="1.25" fill="#0c0c78"/>
<circle cx="431.5" cy="319.0" r="2.8" fill="#031c24" opacity="0.92"/><circle cx="431.5" cy="319.0" r="1.25" fill="#0c0c78"/>
<circle cx="438.4" cy="323.9" r="2.8" fill="#031c24" opacity="0.92"/><circle cx="438.4" cy="323.9" r="1.25" fill="#0c0c78"/>
<circle cx="444.4" cy="329.9" r="2.8" fill="#031c24" opacity="0.92"/><circle cx="444.4" cy="329.9" r="1.25" fill="#0c0c78"/>
<circle cx="449.3" cy="336.8" r="2.8" fill="#031c24" opacity="0.92"/><circle cx="449.3" cy="336.8" r="1.25" fill="#0c0c78"/>
<circle cx="452.9" cy="344.5" r="2.8" fill="#031c24" opacity="0.92"/><circle cx="452.9" cy="344.5" r="1.25" fill="#0c0c78"/>
<circle cx="455.1" cy="352.7" r="2.8" fill="#031c24" opacity="0.92"/><circle cx="455.1" cy="352.7" r="1.25" fill="#0c0c78"/>
<circle cx="465.3" cy="361.1" r="2.8" fill="#031c24" opacity="0.92"/><circle cx="465.3" cy="361.1" r="1.25" fill="#0c0c78"/>
<circle cx="464.4" cy="371.2" r="2.8" fill="#031c24" opacity="0.92"/><circle cx="464.4" cy="371.2" r="1.25" fill="#0c0c78"/>
<circle cx="461.8" cy="381.0" r="2.8" fill="#031c24" opacity="0.92"/><circle cx="461.8" cy="381.0" r="1.25" fill="#0c0c78"/>
<circle cx="457.5" cy="390.2" r="2.8" fill="#031c24" opacity="0.92"/><circle cx="457.5" cy="390.2" r="1.25" fill="#0c0c78"/>
<circle cx="451.7" cy="398.4" r="2.8" fill="#031c24" opacity="0.92"/><circle cx="451.7" cy="398.4" r="1.25" fill="#0c0c78"/>
<circle cx="444.5" cy="405.6" r="2.8" fill="#031c24" opacity="0.92"/><circle cx="444.5" cy="405.6" r="1.25" fill="#0c0c78"/>
<circle cx="436.2" cy="411.4" r="2.8" fill="#031c24" opacity="0.92"/><circle cx="436.2" cy="411.4" r="1.25" fill="#0c0c78"/>
<circle cx="427.1" cy="415.7" r="2.8" fill="#031c24" opacity="0.92"/><circle cx="427.1" cy="415.7" r="1.25" fill="#0c0c78"/>
<circle cx="417.3" cy="418.3" r="2.8" fill="#031c24" opacity="0.92"/><circle cx="417.3" cy="418.3" r="1.25" fill="#0c0c78"/>
<circle cx="407.2" cy="419.2" r="2.8" fill="#031c24" opacity="0.92"/><circle cx="407.2" cy="419.2" r="1.25" fill="#0c0c78"/>
<circle cx="397.1" cy="418.3" r="2.8" fill="#031c24" opacity="0.92"/><circle cx="397.1" cy="418.3" r="1.25" fill="#0c0c78"/>
<circle cx="387.3" cy="415.7" r="2.8" fill="#031c24" opacity="0.92"/><circle cx="387.3" cy="415.7" r="1.25" fill="#0c0c78"/>
<circle cx="378.1" cy="411.4" r="2.8" fill="#031c24" opacity="0.92"/><circle cx="378.1" cy="411.4" r="1.25" fill="#0c0c78"/>
<circle cx="369.9" cy="405.6" r="2.8" fill="#031c24" opacity="0.92"/><circle cx="369.9" cy="405.6" r="1.25" fill="#0c0c78"/>
<circle cx="362.7" cy="398.4" r="2.8" fill="#031c24" opacity="0.92"/><circle cx="362.7" cy="398.4" r="1.25" fill="#0c0c78"/>
<circle cx="356.9" cy="390.2" r="2.8" fill="#031c24" opacity="0.92"/><circle cx="356.9" cy="390.2" r="1.25" fill="#0c0c78"/>
<circle cx="352.6" cy="381.0" r="2.8" fill="#031c24" opacity="0.92"/><circle cx="352.6" cy="381.0" r="1.25" fill="#0c0c78"/>
<circle cx="350.0" cy="371.2" r="2.8" fill="#031c24" opacity="0.92"/><circle cx="350.0" cy="371.2" r="1.25" fill="#0c0c78"/>
<circle cx="349.1" cy="361.1" r="2.8" fill="#031c24" opacity="0.92"/><circle cx="349.1" cy="361.1" r="1.25" fill="#0c0c78"/>
<circle cx="350.0" cy="351.0" r="2.8" fill="#031c24" opacity="0.92"/><circle cx="350.0" cy="351.0" r="1.25" fill="#0c0c78"/>
<circle cx="352.6" cy="341.2" r="2.8" fill="#031c24" opacity="0.92"/><circle cx="352.6" cy="341.2" r="1.25" fill="#0c0c78"/>
<circle cx="356.9" cy="332.1" r="2.8" fill="#031c24" opacity="0.92"/><circle cx="356.9" cy="332.1" r="1.25" fill="#0c0c78"/>
<circle cx="362.7" cy="323.8" r="2.8" fill="#031c24" opacity="0.92"/><circle cx="362.7" cy="323.8" r="1.25" fill="#0c0c78"/>
<circle cx="369.9" cy="316.6" r="2.8" fill="#031c24" opacity="0.92"/><circle cx="369.9" cy="316.6" r="1.25" fill="#0c0c78"/>
<circle cx="378.1" cy="310.8" r="2.8" fill="#031c24" opacity="0.92"/><circle cx="378.1" cy="310.8" r="1.25" fill="#0c0c78"/>
<circle cx="387.3" cy="306.5" r="2.8" fill="#031c24" opacity="0.92"/><circle cx="387.3" cy="306.5" r="1.25" fill="#0c0c78"/>
<circle cx="397.1" cy="303.9" r="2.8" fill="#031c24" opacity="0.92"/><circle cx="397.1" cy="303.9" r="1.25" fill="#0c0c78"/>
<circle cx="407.2" cy="303.0" r="2.8" fill="#031c24" opacity="0.92"/><circle cx="407.2" cy="303.0" r="1.25" fill="#0c0c78"/>
<circle cx="417.3" cy="303.9" r="2.8" fill="#031c24" opacity="0.92"/><circle cx="417.3" cy="303.9" r="1.25" fill="#0c0c78"/>
<circle cx="427.1" cy="306.5" r="2.8" fill="#031c24" opacity="0.92"/><circle cx="427.1" cy="306.5" r="1.25" fill="#0c0c78"/>
<circle cx="436.2" cy="310.8" r="2.8" fill="#031c24" opacity="0.92"/><circle cx="436.2" cy="310.8" r="1.25" fill="#0c0c78"/>
<circle cx="444.5" cy="316.6" r="2.8" fill="#031c24" opacity="0.92"/><circle cx="444.5" cy="316.6" r="1.25" fill="#0c0c78"/>
<circle cx="451.7" cy="323.8" r="2.8" fill="#031c24" opacity="0.92"/><circle cx="451.7" cy="323.8" r="1.25" fill="#0c0c78"/>
<circle cx="457.5" cy="332.1" r="2.8" fill="#031c24" opacity="0.92"/><circle cx="457.5" cy="332.1" r="1.25" fill="#0c0c78"/>
<circle cx="461.8" cy="341.2" r="2.8" fill="#031c24" opacity="0.92"/><circle cx="461.8" cy="341.2" r="1.25" fill="#0c0c78"/>
<circle cx="464.4" cy="351.0" r="2.8" fill="#031c24" opacity="0.92"/><circle cx="464.4" cy="351.0" r="1.25" fill="#0c0c78"/>
<circle cx="474.8" cy="361.1" r="2.8" fill="#031c24" opacity="0.92"/><circle cx="474.8" cy="361.1" r="1.25" fill="#0c0c78"/>
<circle cx="473.8" cy="372.8" r="2.8" fill="#031c24" opacity="0.92"/><circle cx="473.8" cy="372.8" r="1.25" fill="#0c0c78"/>
<circle cx="470.7" cy="384.2" r="2.8" fill="#031c24" opacity="0.92"/><circle cx="470.7" cy="384.2" r="1.25" fill="#0c0c78"/>
<circle cx="465.7" cy="394.9" r="2.8" fill="#031c24" opacity="0.92"/><circle cx="465.7" cy="394.9" r="1.25" fill="#0c0c78"/>
<circle cx="459.0" cy="404.6" r="2.8" fill="#031c24" opacity="0.92"/><circle cx="459.0" cy="404.6" r="1.25" fill="#0c0c78"/>
<circle cx="450.7" cy="412.9" r="2.8" fill="#031c24" opacity="0.92"/><circle cx="450.7" cy="412.9" r="1.25" fill="#0c0c78"/>
<circle cx="441.0" cy="419.6" r="2.8" fill="#031c24" opacity="0.92"/><circle cx="441.0" cy="419.6" r="1.25" fill="#0c0c78"/>
<circle cx="430.3" cy="424.6" r="2.8" fill="#031c24" opacity="0.92"/><circle cx="430.3" cy="424.6" r="1.25" fill="#0c0c78"/>
<circle cx="418.9" cy="427.7" r="2.8" fill="#031c24" opacity="0.92"/><circle cx="418.9" cy="427.7" r="1.25" fill="#0c0c78"/>
<circle cx="407.2" cy="428.7" r="2.8" fill="#031c24" opacity="0.92"/><circle cx="407.2" cy="428.7" r="1.25" fill="#0c0c78"/>
<circle cx="395.5" cy="427.7" r="2.8" fill="#031c24" opacity="0.92"/><circle cx="395.5" cy="427.7" r="1.25" fill="#0c0c78"/>
<circle cx="384.1" cy="424.6" r="2.8" fill="#031c24" opacity="0.92"/><circle cx="384.1" cy="424.6" r="1.25" fill="#0c0c78"/>
<circle cx="373.4" cy="419.6" r="2.8" fill="#031c24" opacity="0.92"/><circle cx="373.4" cy="419.6" r="1.25" fill="#0c0c78"/>
<circle cx="363.7" cy="412.9" r="2.8" fill="#031c24" opacity="0.92"/><circle cx="363.7" cy="412.9" r="1.25" fill="#0c0c78"/>
<circle cx="355.4" cy="404.6" r="2.8" fill="#031c24" opacity="0.92"/><circle cx="355.4" cy="404.6" r="1.25" fill="#0c0c78"/>
<circle cx="348.7" cy="394.9" r="2.8" fill="#031c24" opacity="0.92"/><circle cx="348.7" cy="394.9" r="1.25" fill="#0c0c78"/>
<circle cx="343.7" cy="384.2" r="2.8" fill="#031c24" opacity="0.92"/><circle cx="343.7" cy="384.2" r="1.25" fill="#0c0c78"/>
<circle cx="340.6" cy="372.8" r="2.8" fill="#031c24" opacity="0.92"/><circle cx="340.6" cy="372.8" r="1.25" fill="#0c0c78"/>
<circle cx="339.6" cy="361.1" r="2.8" fill="#031c24" opacity="0.92"/><circle cx="339.6" cy="361.1" r="1.25" fill="#0c0c78"/>
<circle cx="340.6" cy="349.4" r="2.8" fill="#031c24" opacity="0.92"/><circle cx="340.6" cy="349.4" r="1.25" fill="#0c0c78"/>
<circle cx="343.7" cy="338.0" r="2.8" fill="#031c24" opacity="0.92"/><circle cx="343.7" cy="338.0" r="1.25" fill="#0c0c78"/>
<circle cx="348.7" cy="327.3" r="2.8" fill="#031c24" opacity="0.92"/><circle cx="348.7" cy="327.3" r="1.25" fill="#0c0c78"/>
<circle cx="355.4" cy="317.6" r="2.8" fill="#031c24" opacity="0.92"/><circle cx="355.4" cy="317.6" r="1.25" fill="#0c0c78"/>
<circle cx="363.7" cy="309.3" r="2.8" fill="#031c24" opacity="0.92"/><circle cx="363.7" cy="309.3" r="1.25" fill="#0c0c78"/>
<circle cx="373.4" cy="302.6" r="2.8" fill="#031c24" opacity="0.92"/><circle cx="373.4" cy="302.6" r="1.25" fill="#0c0c78"/>
<circle cx="384.1" cy="297.6" r="2.8" fill="#031c24" opacity="0.92"/><circle cx="384.1" cy="297.6" r="1.25" fill="#0c0c78"/>
<circle cx="395.5" cy="294.5" r="2.8" fill="#031c24" opacity="0.92"/><circle cx="395.5" cy="294.5" r="1.25" fill="#0c0c78"/>
<circle cx="407.2" cy="293.5" r="2.8" fill="#031c24" opacity="0.92"/><circle cx="407.2" cy="293.5" r="1.25" fill="#0c0c78"/>
<circle cx="418.9" cy="294.5" r="2.8" fill="#031c24" opacity="0.92"/><circle cx="418.9" cy="294.5" r="1.25" fill="#0c0c78"/>
<circle cx="430.3" cy="297.6" r="2.8" fill="#031c24" opacity="0.92"/><circle cx="430.3" cy="297.6" r="1.25" fill="#0c0c78"/>
<circle cx="441.0" cy="302.6" r="2.8" fill="#031c24" opacity="0.92"/><circle cx="441.0" cy="302.6" r="1.25" fill="#0c0c78"/>
<circle cx="450.7" cy="309.3" r="2.8" fill="#031c24" opacity="0.92"/><circle cx="450.7" cy="309.3" r="1.25" fill="#0c0c78"/>
<circle cx="459.0" cy="317.6" r="2.8" fill="#031c24" opacity="0.92"/><circle cx="459.0" cy="317.6" r="1.25" fill="#0c0c78"/>
<circle cx="465.7" cy="327.3" r="2.8" fill="#031c24" opacity="0.92"/><circle cx="465.7" cy="327.3" r="1.25" fill="#0c0c78"/>
<circle cx="470.7" cy="338.0" r="2.8" fill="#031c24" opacity="0.92"/><circle cx="470.7" cy="338.0" r="1.25" fill="#0c0c78"/>
<circle cx="473.8" cy="349.4" r="2.8" fill="#031c24" opacity="0.92"/><circle cx="473.8" cy="349.4" r="1.25" fill="#0c0c78"/>
</g>
<g filter="url(#b1)" stroke="#fff" fill="none">
<circle cx="472.4" cy="355.5" r="12.3" stroke-width="1.9"/>
<line x1="472.3" y1="343.2" x2="502.4" y2="266.4" stroke-width="1.8"/>
<line x1="472.4" y1="367.8" x2="502.4" y2="453.6" stroke-width="1.8"/>
</g>
</g></g>
<g id="zoomimg">
<clipPath id="cz"><rect x="530" y="265.3" width="176" height="192.2"/></clipPath>
<linearGradient id="zbg" x1="0" y1="0" x2="1" y2="1"><stop offset="0" stop-color="#0aa6a6"/><stop offset="0.3" stop-color="#09b6b2"/><stop offset="0.6" stop-color="#0abfba"/><stop offset="1" stop-color="#0cc2bc"/></linearGradient>
<radialGradient id="hole" cx="0.42" cy="0.6" r="0.62"><stop offset="0" stop-color="#2f9ad8"/><stop offset="0.55" stop-color="#2a9fd0"/><stop offset="0.75" stop-color="#2ad0d0"/><stop offset="0.9" stop-color="#138a8a"/><stop offset="1" stop-color="#0b5f5f"/></radialGradient>
<linearGradient id="rim" x1="0.15" y1="0.95" x2="0.8" y2="0.05"><stop offset="0" stop-color="#5aece0"/><stop offset="0.42" stop-color="#30ccc8"/><stop offset="0.72" stop-color="#159292"/><stop offset="1" stop-color="#064448"/></linearGradient>
<g clip-path="url(#cz)">
<rect x="530" y="265.3" width="176" height="192.2" fill="url(#zbg)"/>
<g stroke="#067078" stroke-width="0.45" opacity="0.3" fill="none">
<path d="M524.0,263.3 L536.6,260.3 L546.2,260.5 L556.8,260.7 L566.0,260.0 L572.8,262.0 L584.7,261.3 L593.4,263.4 L601.0,263.0 L614.1,262.7 L623.3,262.1 L633.0,263.6 L639.6,260.5 L650.8,263.6 L661.6,262.5 L671.2,260.5 L678.1,262.5 L687.6,260.2 L699.6,262.1 L708.3,263.2 M524.0,263.3 L532.4,268.5 M536.6,260.3 L532.4,268.5 M536.6,260.3 L539.1,268.4 M546.2,260.5 L539.1,268.4 M546.2,260.5 L548.3,270.1 M556.8,260.7 L548.3,270.1 M556.8,260.7 L557.6,272.0 M566.0,260.0 L557.6,272.0 M566.0,260.0 L567.4,269.6 M572.8,262.0 L567.4,269.6 M572.8,262.0 L580.8,270.8 M584.7,261.3 L580.8,270.8 M584.7,261.3 L587.1,269.4 M593.4,263.4 L587.1,269.4 M593.4,263.4 L598.0,271.6 M601.0,263.0 L598.0,271.6 M601.0,263.0 L607.6,269.3 M614.1,262.7 L607.6,269.3 M614.1,262.7 L617.3,271.9 M623.3,262.1 L617.3,271.9 M623.3,262.1 L628.6,272.1 M633.0,263.6 L628.6,272.1 M633.0,263.6 L638.0,269.1 M639.6,260.5 L638.0,269.1 M639.6,260.5 L645.8,270.0 M650.8,263.6 L645.8,270.0 M650.8,263.6 L655.1,269.5 M661.6,262.5 L655.1,269.5 M661.6,262.5 L665.9,270.0 M671.2,260.5 L665.9,270.0 M671.2,260.5 L673.6,269.5 M678.1,262.5 L673.6,269.5 M678.1,262.5 L682.8,271.5 M687.6,260.2 L682.8,271.5 M687.6,260.2 L695.8,270.9 M699.6,262.1 L695.8,270.9 M699.6,262.1 L703.0,269.3 M708.3,263.2 L703.0,269.3 M532.4,268.5 L539.1,268.4 L548.3,270.1 L557.6,272.0 L567.4,269.6 L580.8,270.8 L587.1,269.4 L598.0,271.6 L607.6,269.3 L617.3,271.9 L628.6,272.1 L638.0,269.1 L645.8,270.0 L655.1,269.5 L665.9,270.0 L673.6,269.5 L682.8,271.5 L695.8,270.9 L703.0,269.3 M532.4,268.5 L524.5,278.5 M532.4,268.5 L536.6,276.9 M539.1,268.4 L536.6,276.9 M539.1,268.4 L546.8,277.2 M548.3,270.1 L546.8,277.2 M548.3,270.1 L555.5,277.5 M557.6,272.0 L555.5,277.5 M557.6,272.0 L565.3,280.7 M567.4,269.6 L565.3,280.7 M567.4,269.6 L573.6,278.3 M580.8,270.8 L573.6,278.3 M580.8,270.8 L583.0,276.9 M587.1,269.4 L583.0,276.9 M587.1,269.4 L592.6,277.9 M598.0,271.6 L592.6,277.9 M598.0,271.6 L602.6,279.5 M607.6,269.3 L602.6,279.5 M607.6,269.3 L611.9,278.7 M617.3,271.9 L611.9,278.7 M617.3,271.9 L621.1,280.6 M628.6,272.1 L621.1,280.6 M628.6,272.1 L630.0,280.4 M638.0,269.1 L630.0,280.4 M638.0,269.1 L640.1,280.2 M645.8,270.0 L640.1,280.2 M645.8,270.0 L649.1,277.7 M655.1,269.5 L649.1,277.7 M655.1,269.5 L662.1,277.3 M665.9,270.0 L662.1,277.3 M665.9,270.0 L671.1,280.0 M673.6,269.5 L671.1,280.0 M673.6,269.5 L681.1,279.4 M682.8,271.5 L681.1,279.4 M682.8,271.5 L691.1,278.2 M695.8,270.9 L691.1,278.2 M695.8,270.9 L699.0,278.7 M703.0,269.3 L699.0,278.7 M703.0,269.3 L708.4,277.9 M524.5,278.5 L536.6,276.9 L546.8,277.2 L555.5,277.5 L565.3,280.7 L573.6,278.3 L583.0,276.9 L592.6,277.9 L602.6,279.5 L611.9,278.7 L621.1,280.6 L630.0,280.4 L640.1,280.2 L649.1,277.7 L662.1,277.3 L671.1,280.0 L681.1,279.4 L691.1,278.2 L699.0,278.7 L708.4,277.9 M524.5,278.5 L529.9,288.2 M536.6,276.9 L529.9,288.2 M536.6,276.9 L539.1,288.6 M546.8,277.2 L539.1,288.6 M546.8,277.2 L549.0,284.9 M555.5,277.5 L549.0,284.9 M555.5,277.5 L557.9,285.9 M565.3,280.7 L557.9,285.9 M565.3,280.7 L569.7,285.8 M573.6,278.3 L569.7,285.8 M573.6,278.3 L577.8,285.4 M583.0,276.9 L577.8,285.4 M583.0,276.9 L586.3,289.0 M592.6,277.9 L586.3,289.0 M592.6,277.9 L597.7,288.7 M602.6,279.5 L597.7,288.7 M602.6,279.5 L608.1,285.0 M611.9,278.7 L608.1,285.0 M611.9,278.7 L618.1,288.8 M621.1,280.6 L618.1,288.8 M621.1,280.6 L628.8,285.9 M630.0,280.4 L628.8,285.9 M630.0,280.4 L635.1,288.8 M640.1,280.2 L635.1,288.8 M640.1,280.2 L646.5,287.1 M649.1,277.7 L646.5,287.1 M649.1,277.7 L654.4,286.7 M662.1,277.3 L654.4,286.7 M662.1,277.3 L665.9,286.0 M671.1,280.0 L665.9,286.0 M671.1,280.0 L676.1,289.0 M681.1,279.4 L676.1,289.0 M681.1,279.4 L682.5,284.9 M691.1,278.2 L682.5,284.9 M691.1,278.2 L694.0,288.9 M699.0,278.7 L694.0,288.9 M699.0,278.7 L703.7,285.9 M708.4,277.9 L703.7,285.9 M529.9,288.2 L539.1,288.6 L549.0,284.9 L557.9,285.9 L569.7,285.8 L577.8,285.4 L586.3,289.0 L597.7,288.7 L608.1,285.0 L618.1,288.8 L628.8,285.9 L635.1,288.8 L646.5,287.1 L654.4,286.7 L665.9,286.0 L676.1,289.0 L682.5,284.9 L694.0,288.9 L703.7,285.9 M529.9,288.2 L525.8,295.9 M529.9,288.2 L536.2,295.9 M539.1,288.6 L536.2,295.9 M539.1,288.6 L545.4,296.9 M549.0,284.9 L545.4,296.9 M549.0,284.9 L556.8,294.4 M557.9,285.9 L556.8,294.4 M557.9,285.9 L563.2,294.1 M569.7,285.8 L563.2,294.1 M569.7,285.8 L572.7,296.9 M577.8,285.4 L572.7,296.9 M577.8,285.4 L584.6,293.7 M586.3,289.0 L584.6,293.7 M586.3,289.0 L595.3,297.3 M597.7,288.7 L595.3,297.3 M597.7,288.7 L604.2,293.2 M608.1,285.0 L604.2,293.2 M608.1,285.0 L612.9,296.8 M618.1,288.8 L612.9,296.8 M618.1,288.8 L621.7,293.4 M628.8,285.9 L621.7,293.4 M628.8,285.9 L632.3,294.8 M635.1,288.8 L632.3,294.8 M635.1,288.8 L641.2,297.2 M646.5,287.1 L641.2,297.2 M646.5,287.1 L651.2,296.1 M654.4,286.7 L651.2,296.1 M654.4,286.7 L658.5,293.9 M665.9,286.0 L658.5,293.9 M665.9,286.0 L669.0,293.2 M676.1,289.0 L669.0,293.2 M676.1,289.0 L679.0,294.5 M682.5,284.9 L679.0,294.5 M682.5,284.9 L691.2,294.5 M694.0,288.9 L691.2,294.5 M694.0,288.9 L696.8,296.9 M703.7,285.9 L696.8,296.9 M703.7,285.9 L707.2,293.9 M525.8,295.9 L536.2,295.9 L545.4,296.9 L556.8,294.4 L563.2,294.1 L572.7,296.9 L584.6,293.7 L595.3,297.3 L604.2,293.2 L612.9,296.8 L621.7,293.4 L632.3,294.8 L641.2,297.2 L651.2,296.1 L658.5,293.9 L669.0,293.2 L679.0,294.5 L691.2,294.5 L696.8,296.9 L707.2,293.9 M525.8,295.9 L530.1,301.8 M536.2,295.9 L530.1,301.8 M536.2,295.9 L539.5,304.2 M545.4,296.9 L539.5,304.2 M545.4,296.9 L548.9,304.7 M556.8,294.4 L548.9,304.7 M556.8,294.4 L557.9,304.9 M563.2,294.1 L557.9,304.9 M563.2,294.1 L567.7,303.9 M572.7,296.9 L567.7,303.9 M572.7,296.9 L578.4,302.7 M584.6,293.7 L578.4,302.7 M584.6,293.7 L588.9,301.8 M595.3,297.3 L588.9,301.8 M595.3,297.3 L599.9,305.1 M604.2,293.2 L599.9,305.1 M604.2,293.2 L606.2,305.2 M612.9,296.8 L606.2,305.2 M612.9,296.8 L618.4,304.0 M621.7,293.4 L618.4,304.0 M621.7,293.4 L627.9,304.5 M632.3,294.8 L627.9,304.5 M632.3,294.8 L636.4,302.7 M641.2,297.2 L636.4,302.7 M641.2,297.2 L646.5,302.1 M651.2,296.1 L646.5,302.1 M651.2,296.1 L657.0,304.5 M658.5,293.9 L657.0,304.5 M658.5,293.9 L665.3,303.3 M669.0,293.2 L665.3,303.3 M669.0,293.2 L675.6,303.6 M679.0,294.5 L675.6,303.6 M679.0,294.5 L686.1,304.6 M691.2,294.5 L686.1,304.6 M691.2,294.5 L694.3,304.9 M696.8,296.9 L694.3,304.9 M696.8,296.9 L701.6,304.4 M707.2,293.9 L701.6,304.4 M530.1,301.8 L539.5,304.2 L548.9,304.7 L557.9,304.9 L567.7,303.9 L578.4,302.7 L588.9,301.8 L599.9,305.1 L606.2,305.2 L618.4,304.0 L627.9,304.5 L636.4,302.7 L646.5,302.1 L657.0,304.5 L665.3,303.3 L675.6,303.6 L686.1,304.6 L694.3,304.9 L701.6,304.4 M530.1,301.8 L527.3,312.8 M530.1,301.8 L537.5,312.5 M539.5,304.2 L537.5,312.5 M539.5,304.2 L543.5,310.0 M548.9,304.7 L543.5,310.0 M548.9,304.7 L555.4,313.8 M557.9,304.9 L555.4,313.8 M557.9,304.9 L563.9,311.7 M567.7,303.9 L563.9,311.7 M567.7,303.9 L572.1,309.9 M578.4,302.7 L572.1,309.9 M578.4,302.7 L583.7,310.8 M588.9,301.8 L583.7,310.8 M588.9,301.8 L592.2,311.7 M599.9,305.1 L592.2,311.7 M599.9,305.1 L601.0,313.7 M606.2,305.2 L601.0,313.7 M606.2,305.2 L614.1,310.2 M618.4,304.0 L614.1,310.2 M618.4,304.0 L622.1,312.9 M627.9,304.5 L622.1,312.9 M627.9,304.5 L631.5,313.2 M636.4,302.7 L631.5,313.2 M636.4,302.7 L642.7,310.8 M646.5,302.1 L642.7,310.8 M646.5,302.1 L651.9,310.8 M657.0,304.5 L651.9,310.8 M657.0,304.5 L661.0,311.7 M665.3,303.3 L661.0,311.7 M665.3,303.3 L671.5,310.1 M675.6,303.6 L671.5,310.1 M675.6,303.6 L681.3,311.0 M686.1,304.6 L681.3,311.0 M686.1,304.6 L687.3,312.4 M694.3,304.9 L687.3,312.4 M694.3,304.9 L697.5,312.3 M701.6,304.4 L697.5,312.3 M701.6,304.4 L707.7,312.5 M527.3,312.8 L537.5,312.5 L543.5,310.0 L555.4,313.8 L563.9,311.7 L572.1,309.9 L583.7,310.8 L592.2,311.7 L601.0,313.7 L614.1,310.2 L622.1,312.9 L631.5,313.2 L642.7,310.8 L651.9,310.8 L661.0,311.7 L671.5,310.1 L681.3,311.0 L687.3,312.4 L697.5,312.3 L707.7,312.5 M527.3,312.8 L531.6,320.7 M537.5,312.5 L531.6,320.7 M537.5,312.5 L538.9,320.1 M543.5,310.0 L538.9,320.1 M543.5,310.0 L549.9,322.2 M555.4,313.8 L549.9,322.2 M555.4,313.8 L557.9,319.0 M563.9,311.7 L557.9,319.0 M563.9,311.7 L569.2,321.1 M572.1,309.9 L569.2,321.1 M572.1,309.9 L577.9,320.1 M583.7,310.8 L577.9,320.1 M583.7,310.8 L589.5,322.3 M592.2,311.7 L589.5,322.3 M592.2,311.7 L598.2,319.4 M601.0,313.7 L598.2,319.4 M601.0,313.7 L605.9,320.1 M614.1,310.2 L605.9,320.1 M614.1,310.2 L616.3,318.4 M622.1,312.9 L616.3,318.4 M622.1,312.9 L626.8,322.3 M631.5,313.2 L626.8,322.3 M631.5,313.2 L638.5,319.7 M642.7,310.8 L638.5,319.7 M642.7,310.8 L647.7,322.0 M651.9,310.8 L647.7,322.0 M651.9,310.8 L653.8,318.5 M661.0,311.7 L653.8,318.5 M661.0,311.7 L666.2,319.2 M671.5,310.1 L666.2,319.2 M671.5,310.1 L674.2,320.6 M681.3,311.0 L674.2,320.6 M681.3,311.0 L685.0,319.3 M687.3,312.4 L685.0,319.3 M687.3,312.4 L692.4,319.6 M697.5,312.3 L692.4,319.6 M697.5,312.3 L703.6,321.8 M707.7,312.5 L703.6,321.8 M531.6,320.7 L538.9,320.1 L549.9,322.2 L557.9,319.0 L569.2,321.1 L577.9,320.1 L589.5,322.3 L598.2,319.4 L605.9,320.1 L616.3,318.4 L626.8,322.3 L638.5,319.7 L647.7,322.0 L653.8,318.5 L666.2,319.2 L674.2,320.6 L685.0,319.3 L692.4,319.6 L703.6,321.8 M531.6,320.7 L525.6,327.1 M531.6,320.7 L537.5,329.3 M538.9,320.1 L537.5,329.3 M538.9,320.1 L544.8,329.5 M549.9,322.2 L544.8,329.5 M549.9,322.2 L554.4,328.0 M557.9,319.0 L554.4,328.0 M557.9,319.0 L562.8,327.8 M569.2,321.1 L562.8,327.8 M569.2,321.1 L573.3,327.8 M577.9,320.1 L573.3,327.8 M577.9,320.1 L583.2,330.4 M589.5,322.3 L583.2,330.4 M589.5,322.3 L591.9,326.5 M598.2,319.4 L591.9,326.5 M598.2,319.4 L603.8,327.5 M605.9,320.1 L603.8,327.5 M605.9,320.1 L610.6,328.0 M616.3,318.4 L610.6,328.0 M616.3,318.4 L623.6,326.7 M626.8,322.3 L623.6,326.7 M626.8,322.3 L633.4,329.6 M638.5,319.7 L633.4,329.6 M638.5,319.7 L642.7,327.6 M647.7,322.0 L642.7,327.6 M647.7,322.0 L648.9,329.2 M653.8,318.5 L648.9,329.2 M653.8,318.5 L661.0,327.0 M666.2,319.2 L661.0,327.0 M666.2,319.2 L672.0,328.2 M674.2,320.6 L672.0,328.2 M674.2,320.6 L678.8,329.7 M685.0,319.3 L678.8,329.7 M685.0,319.3 L690.4,328.2 M692.4,319.6 L690.4,328.2 M692.4,319.6 L696.8,329.6 M703.6,321.8 L696.8,329.6 M703.6,321.8 L708.0,330.1 M525.6,327.1 L537.5,329.3 L544.8,329.5 L554.4,328.0 L562.8,327.8 L573.3,327.8 L583.2,330.4 L591.9,326.5 L603.8,327.5 L610.6,328.0 L623.6,326.7 L633.4,329.6 L642.7,327.6 L648.9,329.2 L661.0,327.0 L672.0,328.2 L678.8,329.7 L690.4,328.2 L696.8,329.6 L708.0,330.1 M525.6,327.1 L531.0,335.6 M537.5,329.3 L531.0,335.6 M537.5,329.3 L538.6,338.6 M544.8,329.5 L538.6,338.6 M544.8,329.5 L549.6,337.3 M554.4,328.0 L549.6,337.3 M554.4,328.0 L558.1,338.4 M562.8,327.8 L558.1,338.4 M562.8,327.8 L569.1,338.6 M573.3,327.8 L569.1,338.6 M573.3,327.8 L579.0,335.4 M583.2,330.4 L579.0,335.4 M583.2,330.4 L588.0,335.9 M591.9,326.5 L588.0,335.9 M591.9,326.5 L597.0,337.8 M603.8,327.5 L597.0,337.8 M603.8,327.5 L608.2,336.4 M610.6,328.0 L608.2,336.4 M610.6,328.0 L616.1,336.8 M623.6,326.7 L616.1,336.8 M623.6,326.7 L627.5,335.2 M633.4,329.6 L627.5,335.2 M633.4,329.6 L637.0,335.0 M642.7,327.6 L637.0,335.0 M642.7,327.6 L646.0,338.1 M648.9,329.2 L646.0,338.1 M648.9,329.2 L655.8,336.6 M661.0,327.0 L655.8,336.6 M661.0,327.0 L664.5,337.9 M672.0,328.2 L664.5,337.9 M672.0,328.2 L674.5,337.0 M678.8,329.7 L674.5,337.0 M678.8,329.7 L683.3,335.5 M690.4,328.2 L683.3,335.5 M690.4,328.2 L694.2,336.1 M696.8,329.6 L694.2,336.1 M696.8,329.6 L703.0,338.1 M708.0,330.1 L703.0,338.1 M531.0,335.6 L538.6,338.6 L549.6,337.3 L558.1,338.4 L569.1,338.6 L579.0,335.4 L588.0,335.9 L597.0,337.8 L608.2,336.4 L616.1,336.8 L627.5,335.2 L637.0,335.0 L646.0,338.1 L655.8,336.6 L664.5,337.9 L674.5,337.0 L683.3,335.5 L694.2,336.1 L703.0,338.1 M531.0,335.6 L524.7,343.1 M531.0,335.6 L537.2,344.6 M538.6,338.6 L537.2,344.6 M538.6,338.6 L546.2,343.9 M549.6,337.3 L546.2,343.9 M549.6,337.3 L553.8,346.2 M558.1,338.4 L553.8,346.2 M558.1,338.4 L564.4,345.4 M569.1,338.6 L564.4,345.4 M569.1,338.6 L573.4,345.9 M579.0,335.4 L573.4,345.9 M579.0,335.4 L583.7,346.4 M588.0,335.9 L583.7,346.4 M588.0,335.9 L594.7,343.4 M597.0,337.8 L594.7,343.4 M597.0,337.8 L604.5,344.7 M608.2,336.4 L604.5,344.7 M608.2,336.4 L613.0,344.8 M616.1,336.8 L613.0,344.8 M616.1,336.8 L621.2,346.5 M627.5,335.2 L621.2,346.5 M627.5,335.2 L633.6,343.6 M637.0,335.0 L633.6,343.6 M637.0,335.0 L640.9,346.2 M646.0,338.1 L640.9,346.2 M646.0,338.1 L652.1,347.1 M655.8,336.6 L652.1,347.1 M655.8,336.6 L660.4,343.3 M664.5,337.9 L660.4,343.3 M664.5,337.9 L671.8,346.9 M674.5,337.0 L671.8,346.9 M674.5,337.0 L679.7,345.0 M683.3,335.5 L679.7,345.0 M683.3,335.5 L689.0,346.3 M694.2,336.1 L689.0,346.3 M694.2,336.1 L697.6,343.7 M703.0,338.1 L697.6,343.7 M703.0,338.1 L710.4,343.5 M524.7,343.1 L537.2,344.6 L546.2,343.9 L553.8,346.2 L564.4,345.4 L573.4,345.9 L583.7,346.4 L594.7,343.4 L604.5,344.7 L613.0,344.8 L621.2,346.5 L633.6,343.6 L640.9,346.2 L652.1,347.1 L660.4,343.3 L671.8,346.9 L679.7,345.0 L689.0,346.3 L697.6,343.7 L710.4,343.5 M524.7,343.1 L532.2,354.3 M537.2,344.6 L532.2,354.3 M537.2,344.6 L541.9,355.1 M546.2,343.9 L541.9,355.1 M546.2,343.9 L548.3,354.6 M553.8,346.2 L548.3,354.6 M553.8,346.2 L557.5,351.9 M564.4,345.4 L557.5,351.9 M564.4,345.4 L569.5,351.5 M573.4,345.9 L569.5,351.5 M573.4,345.9 L579.7,355.4 M583.7,346.4 L579.7,355.4 M583.7,346.4 L588.9,353.6 M594.7,343.4 L588.9,353.6 M594.7,343.4 L597.7,354.6 M604.5,344.7 L597.7,354.6 M604.5,344.7 L605.9,352.6 M613.0,344.8 L605.9,352.6 M613.0,344.8 L619.1,352.2 M621.2,346.5 L619.1,352.2 M621.2,346.5 L625.8,354.7 M633.6,343.6 L625.8,354.7 M633.6,343.6 L634.3,353.6 M640.9,346.2 L634.3,353.6 M640.9,346.2 L648.1,352.5 M652.1,347.1 L648.1,352.5 M652.1,347.1 L654.8,354.9 M660.4,343.3 L654.8,354.9 M660.4,343.3 L664.1,353.6 M671.8,346.9 L664.1,353.6 M671.8,346.9 L675.0,351.5 M679.7,345.0 L675.0,351.5 M679.7,345.0 L684.0,354.1 M689.0,346.3 L684.0,354.1 M689.0,346.3 L692.1,352.2 M697.6,343.7 L692.1,352.2 M697.6,343.7 L705.2,354.1 M710.4,343.5 L705.2,354.1 M532.2,354.3 L541.9,355.1 L548.3,354.6 L557.5,351.9 L569.5,351.5 L579.7,355.4 L588.9,353.6 L597.7,354.6 L605.9,352.6 L619.1,352.2 L625.8,354.7 L634.3,353.6 L648.1,352.5 L654.8,354.9 L664.1,353.6 L675.0,351.5 L684.0,354.1 L692.1,352.2 L705.2,354.1 M532.2,354.3 L524.2,360.6 M532.2,354.3 L535.3,361.2 M541.9,355.1 L535.3,361.2 M541.9,355.1 L545.2,362.6 M548.3,354.6 L545.2,362.6 M548.3,354.6 L555.7,361.2 M557.5,351.9 L555.7,361.2 M557.5,351.9 L564.0,359.7 M569.5,351.5 L564.0,359.7 M569.5,351.5 L573.1,363.2 M579.7,355.4 L573.1,363.2 M579.7,355.4 L581.8,361.7 M588.9,353.6 L581.8,361.7 M588.9,353.6 L591.9,362.9 M597.7,354.6 L591.9,362.9 M597.7,354.6 L601.5,361.6 M605.9,352.6 L601.5,361.6 M605.9,352.6 L611.4,363.4 M619.1,352.2 L611.4,363.4 M619.1,352.2 L620.4,362.3 M625.8,354.7 L620.4,362.3 M625.8,354.7 L632.1,363.4 M634.3,353.6 L632.1,363.4 M634.3,353.6 L641.1,363.5 M648.1,352.5 L641.1,363.5 M648.1,352.5 L648.9,362.2 M654.8,354.9 L648.9,362.2 M654.8,354.9 L662.2,359.9 M664.1,353.6 L662.2,359.9 M664.1,353.6 L668.0,362.2 M675.0,351.5 L668.0,362.2 M675.0,351.5 L679.2,362.6 M684.0,354.1 L679.2,362.6 M684.0,354.1 L687.9,361.6 M692.1,352.2 L687.9,361.6 M692.1,352.2 L699.7,361.0 M705.2,354.1 L699.7,361.0 M705.2,354.1 L706.8,360.0 M524.2,360.6 L535.3,361.2 L545.2,362.6 L555.7,361.2 L564.0,359.7 L573.1,363.2 L581.8,361.7 L591.9,362.9 L601.5,361.6 L611.4,363.4 L620.4,362.3 L632.1,363.4 L641.1,363.5 L648.9,362.2 L662.2,359.9 L668.0,362.2 L679.2,362.6 L687.9,361.6 L699.7,361.0 L706.8,360.0 M524.2,360.6 L529.4,368.8 M535.3,361.2 L529.4,368.8 M535.3,361.2 L541.0,370.2 M545.2,362.6 L541.0,370.2 M545.2,362.6 L549.9,369.3 M555.7,361.2 L549.9,369.3 M555.7,361.2 L560.5,371.5 M564.0,359.7 L560.5,371.5 M564.0,359.7 L571.2,369.8 M573.1,363.2 L571.2,369.8 M573.1,363.2 L577.2,368.3 M581.8,361.7 L577.2,368.3 M581.8,361.7 L586.6,369.7 M591.9,362.9 L586.6,369.7 M591.9,362.9 L599.6,370.3 M601.5,361.6 L599.6,370.3 M601.5,361.6 L608.7,369.6 M611.4,363.4 L608.7,369.6 M611.4,363.4 L618.3,369.3 M620.4,362.3 L618.3,369.3 M620.4,362.3 L628.1,368.3 M632.1,363.4 L628.1,368.3 M632.1,363.4 L637.3,368.8 M641.1,363.5 L637.3,368.8 M641.1,363.5 L646.2,369.9 M648.9,362.2 L646.2,369.9 M648.9,362.2 L654.9,371.1 M662.2,359.9 L654.9,371.1 M662.2,359.9 L665.1,370.6 M668.0,362.2 L665.1,370.6 M668.0,362.2 L673.7,370.6 M679.2,362.6 L673.7,370.6 M679.2,362.6 L684.0,369.6 M687.9,361.6 L684.0,369.6 M687.9,361.6 L693.8,371.4 M699.7,361.0 L693.8,371.4 M699.7,361.0 L701.8,368.8 M706.8,360.0 L701.8,368.8 M529.4,368.8 L541.0,370.2 L549.9,369.3 L560.5,371.5 L571.2,369.8 L577.2,368.3 L586.6,369.7 L599.6,370.3 L608.7,369.6 L618.3,369.3 L628.1,368.3 L637.3,368.8 L646.2,369.9 L654.9,371.1 L665.1,370.6 L673.7,370.6 L684.0,369.6 L693.8,371.4 L701.8,368.8 M529.4,368.8 L524.2,378.8 M529.4,368.8 L535.0,377.7 M541.0,370.2 L535.0,377.7 M541.0,370.2 L547.1,376.5 M549.9,369.3 L547.1,376.5 M549.9,369.3 L555.8,379.2 M560.5,371.5 L555.8,379.2 M560.5,371.5 L566.2,377.5 M571.2,369.8 L566.2,377.5 M571.2,369.8 L574.9,378.8 M577.2,368.3 L574.9,378.8 M577.2,368.3 L584.9,380.3 M586.6,369.7 L584.9,380.3 M586.6,369.7 L591.4,379.8 M599.6,370.3 L591.4,379.8 M599.6,370.3 L601.2,379.3 M608.7,369.6 L601.2,379.3 M608.7,369.6 L612.3,379.6 M618.3,369.3 L612.3,379.6 M618.3,369.3 L623.2,380.1 M628.1,368.3 L623.2,380.1 M628.1,368.3 L632.9,376.8 M637.3,368.8 L632.9,376.8 M637.3,368.8 L641.2,376.3 M646.2,369.9 L641.2,376.3 M646.2,369.9 L652.6,377.6 M654.9,371.1 L652.6,377.6 M654.9,371.1 L661.2,376.9 M665.1,370.6 L661.2,376.9 M665.1,370.6 L668.9,379.9 M673.7,370.6 L668.9,379.9 M673.7,370.6 L679.4,379.6 M684.0,369.6 L679.4,379.6 M684.0,369.6 L689.6,378.4 M693.8,371.4 L689.6,378.4 M693.8,371.4 L698.3,377.0 M701.8,368.8 L698.3,377.0 M701.8,368.8 L708.0,379.0 M524.2,378.8 L535.0,377.7 L547.1,376.5 L555.8,379.2 L566.2,377.5 L574.9,378.8 L584.9,380.3 L591.4,379.8 L601.2,379.3 L612.3,379.6 L623.2,380.1 L632.9,376.8 L641.2,376.3 L652.6,377.6 L661.2,376.9 L668.9,379.9 L679.4,379.6 L689.6,378.4 L698.3,377.0 L708.0,379.0 M524.2,378.8 L530.7,386.9 M535.0,377.7 L530.7,386.9 M535.0,377.7 L539.0,386.4 M547.1,376.5 L539.0,386.4 M547.1,376.5 L548.3,384.9 M555.8,379.2 L548.3,384.9 M555.8,379.2 L560.1,385.5 M566.2,377.5 L560.1,385.5 M566.2,377.5 L568.9,388.8 M574.9,378.8 L568.9,388.8 M574.9,378.8 L580.8,385.3 M584.9,380.3 L580.8,385.3 M584.9,380.3 L586.9,386.5 M591.4,379.8 L586.9,386.5 M591.4,379.8 L599.6,385.6 M601.2,379.3 L599.6,385.6 M601.2,379.3 L607.8,387.9 M612.3,379.6 L607.8,387.9 M612.3,379.6 L618.3,387.9 M623.2,380.1 L618.3,387.9 M623.2,380.1 L625.9,385.8 M632.9,376.8 L625.9,385.8 M632.9,376.8 L635.4,385.7 M641.2,376.3 L635.4,385.7 M641.2,376.3 L645.0,386.4 M652.6,377.6 L645.0,386.4 M652.6,377.6 L654.3,385.6 M661.2,376.9 L654.3,385.6 M661.2,376.9 L664.3,388.4 M668.9,379.9 L664.3,388.4 M668.9,379.9 L673.5,384.9 M679.4,379.6 L673.5,384.9 M679.4,379.6 L683.4,385.6 M689.6,378.4 L683.4,385.6 M689.6,378.4 L694.1,387.3 M698.3,377.0 L694.1,387.3 M698.3,377.0 L701.9,386.6 M708.0,379.0 L701.9,386.6 M530.7,386.9 L539.0,386.4 L548.3,384.9 L560.1,385.5 L568.9,388.8 L580.8,385.3 L586.9,386.5 L599.6,385.6 L607.8,387.9 L618.3,387.9 L625.9,385.8 L635.4,385.7 L645.0,386.4 L654.3,385.6 L664.3,388.4 L673.5,384.9 L683.4,385.6 L694.1,387.3 L701.9,386.6 M530.7,386.9 L524.1,392.9 M530.7,386.9 L537.2,393.9 M539.0,386.4 L537.2,393.9 M539.0,386.4 L545.0,394.5 M548.3,384.9 L545.0,394.5 M548.3,384.9 L556.4,393.9 M560.1,385.5 L556.4,393.9 M560.1,385.5 L562.5,395.4 M568.9,388.8 L562.5,395.4 M568.9,388.8 L575.4,393.7 M580.8,385.3 L575.4,393.7 M580.8,385.3 L581.8,395.1 M586.9,386.5 L581.8,395.1 M586.9,386.5 L591.8,395.5 M599.6,385.6 L591.8,395.5 M599.6,385.6 L604.0,395.7 M607.8,387.9 L604.0,395.7 M607.8,387.9 L610.3,395.6 M618.3,387.9 L610.3,395.6 M618.3,387.9 L622.9,394.4 M625.9,385.8 L622.9,394.4 M625.9,385.8 L629.7,394.3 M635.4,385.7 L629.7,394.3 M635.4,385.7 L639.3,397.1 M645.0,386.4 L639.3,397.1 M645.0,386.4 L648.9,396.0 M654.3,385.6 L648.9,396.0 M654.3,385.6 L662.1,396.3 M664.3,388.4 L662.1,396.3 M664.3,388.4 L671.3,394.6 M673.5,384.9 L671.3,394.6 M673.5,384.9 L679.1,395.5 M683.4,385.6 L679.1,395.5 M683.4,385.6 L687.4,393.0 M694.1,387.3 L687.4,393.0 M694.1,387.3 L698.8,394.9 M701.9,386.6 L698.8,394.9 M701.9,386.6 L708.0,396.3 M524.1,392.9 L537.2,393.9 L545.0,394.5 L556.4,393.9 L562.5,395.4 L575.4,393.7 L581.8,395.1 L591.8,395.5 L604.0,395.7 L610.3,395.6 L622.9,394.4 L629.7,394.3 L639.3,397.1 L648.9,396.0 L662.1,396.3 L671.3,394.6 L679.1,395.5 L687.4,393.0 L698.8,394.9 L708.0,396.3 M524.1,392.9 L531.5,401.9 M537.2,393.9 L531.5,401.9 M537.2,393.9 L540.5,404.0 M545.0,394.5 L540.5,404.0 M545.0,394.5 L549.6,402.4 M556.4,393.9 L549.6,402.4 M556.4,393.9 L561.7,404.0 M562.5,395.4 L561.7,404.0 M562.5,395.4 L568.9,401.4 M575.4,393.7 L568.9,401.4 M575.4,393.7 L579.8,404.9 M581.8,395.1 L579.8,404.9 M581.8,395.1 L588.0,401.3 M591.8,395.5 L588.0,401.3 M591.8,395.5 L599.1,404.6 M604.0,395.7 L599.1,404.6 M604.0,395.7 L608.2,402.9 M610.3,395.6 L608.2,402.9 M610.3,395.6 L616.8,405.2 M622.9,394.4 L616.8,405.2 M622.9,394.4 L626.5,401.9 M629.7,394.3 L626.5,401.9 M629.7,394.3 L634.8,401.6 M639.3,397.1 L634.8,401.6 M639.3,397.1 L646.3,402.8 M648.9,396.0 L646.3,402.8 M648.9,396.0 L656.7,401.8 M662.1,396.3 L656.7,401.8 M662.1,396.3 L663.3,401.8 M671.3,394.6 L663.3,401.8 M671.3,394.6 L676.1,402.9 M679.1,395.5 L676.1,402.9 M679.1,395.5 L684.7,405.1 M687.4,393.0 L684.7,405.1 M687.4,393.0 L695.0,402.0 M698.8,394.9 L695.0,402.0 M698.8,394.9 L703.0,401.9 M708.0,396.3 L703.0,401.9 M531.5,401.9 L540.5,404.0 L549.6,402.4 L561.7,404.0 L568.9,401.4 L579.8,404.9 L588.0,401.3 L599.1,404.6 L608.2,402.9 L616.8,405.2 L626.5,401.9 L634.8,401.6 L646.3,402.8 L656.7,401.8 L663.3,401.8 L676.1,402.9 L684.7,405.1 L695.0,402.0 L703.0,401.9 M531.5,401.9 L524.6,409.8 M531.5,401.9 L535.1,412.7 M540.5,404.0 L535.1,412.7 M540.5,404.0 L546.4,412.9 M549.6,402.4 L546.4,412.9 M549.6,402.4 L554.0,413.1 M561.7,404.0 L554.0,413.1 M561.7,404.0 L562.5,413.4 M568.9,401.4 L562.5,413.4 M568.9,401.4 L573.2,412.1 M579.8,404.9 L573.2,412.1 M579.8,404.9 L584.2,409.9 M588.0,401.3 L584.2,409.9 M588.0,401.3 L594.1,412.4 M599.1,404.6 L594.1,412.4 M599.1,404.6 L604.4,412.2 M608.2,402.9 L604.4,412.2 M608.2,402.9 L613.9,412.2 M616.8,405.2 L613.9,412.2 M616.8,405.2 L622.5,410.4 M626.5,401.9 L622.5,410.4 M626.5,401.9 L631.5,411.9 M634.8,401.6 L631.5,411.9 M634.8,401.6 L639.3,413.5 M646.3,402.8 L639.3,413.5 M646.3,402.8 L649.4,411.1 M656.7,401.8 L649.4,411.1 M656.7,401.8 L658.9,413.6 M663.3,401.8 L658.9,413.6 M663.3,401.8 L671.3,410.4 M676.1,402.9 L671.3,410.4 M676.1,402.9 L681.2,413.1 M684.7,405.1 L681.2,413.1 M684.7,405.1 L689.9,412.3 M695.0,402.0 L689.9,412.3 M695.0,402.0 L698.1,411.2 M703.0,401.9 L698.1,411.2 M703.0,401.9 L708.2,413.1 M524.6,409.8 L535.1,412.7 L546.4,412.9 L554.0,413.1 L562.5,413.4 L573.2,412.1 L584.2,409.9 L594.1,412.4 L604.4,412.2 L613.9,412.2 L622.5,410.4 L631.5,411.9 L639.3,413.5 L649.4,411.1 L658.9,413.6 L671.3,410.4 L681.2,413.1 L689.9,412.3 L698.1,411.2 L708.2,413.1 M524.6,409.8 L532.0,420.6 M535.1,412.7 L532.0,420.6 M535.1,412.7 L539.6,418.9 M546.4,412.9 L539.6,418.9 M546.4,412.9 L549.5,419.4 M554.0,413.1 L549.5,419.4 M554.0,413.1 L559.6,418.6 M562.5,413.4 L559.6,418.6 M562.5,413.4 L567.1,422.0 M573.2,412.1 L567.1,422.0 M573.2,412.1 L578.7,419.7 M584.2,409.9 L578.7,419.7 M584.2,409.9 L588.9,421.3 M594.1,412.4 L588.9,421.3 M594.1,412.4 L599.4,421.3 M604.4,412.2 L599.4,421.3 M604.4,412.2 L607.2,418.1 M613.9,412.2 L607.2,418.1 M613.9,412.2 L616.6,419.4 M622.5,410.4 L616.6,419.4 M622.5,410.4 L628.1,420.0 M631.5,411.9 L628.1,420.0 M631.5,411.9 L637.1,418.0 M639.3,413.5 L637.1,418.0 M639.3,413.5 L644.4,421.7 M649.4,411.1 L644.4,421.7 M649.4,411.1 L654.8,420.9 M658.9,413.6 L654.8,420.9 M658.9,413.6 L663.4,421.0 M671.3,410.4 L663.4,421.0 M671.3,410.4 L676.5,420.6 M681.2,413.1 L676.5,420.6 M681.2,413.1 L685.6,418.0 M689.9,412.3 L685.6,418.0 M689.9,412.3 L692.2,420.4 M698.1,411.2 L692.2,420.4 M698.1,411.2 L704.4,418.3 M708.2,413.1 L704.4,418.3 M532.0,420.6 L539.6,418.9 L549.5,419.4 L559.6,418.6 L567.1,422.0 L578.7,419.7 L588.9,421.3 L599.4,421.3 L607.2,418.1 L616.6,419.4 L628.1,420.0 L637.1,418.0 L644.4,421.7 L654.8,420.9 L663.4,421.0 L676.5,420.6 L685.6,418.0 L692.2,420.4 L704.4,418.3 M532.0,420.6 L524.5,429.9 M532.0,420.6 L534.7,429.6 M539.6,418.9 L534.7,429.6 M539.6,418.9 L546.4,429.1 M549.5,419.4 L546.4,429.1 M549.5,419.4 L555.7,427.1 M559.6,418.6 L555.7,427.1 M559.6,418.6 L565.8,428.7 M567.1,422.0 L565.8,428.7 M567.1,422.0 L573.0,427.5 M578.7,419.7 L573.0,427.5 M578.7,419.7 L584.1,430.0 M588.9,421.3 L584.1,430.0 M588.9,421.3 L593.0,427.2 M599.4,421.3 L593.0,427.2 M599.4,421.3 L604.8,428.2 M607.2,418.1 L604.8,428.2 M607.2,418.1 L612.8,428.8 M616.6,419.4 L612.8,428.8 M616.6,419.4 L620.9,427.7 M628.1,420.0 L620.9,427.7 M628.1,420.0 L630.3,427.9 M637.1,418.0 L630.3,427.9 M637.1,418.0 L641.8,427.3 M644.4,421.7 L641.8,427.3 M644.4,421.7 L650.1,427.8 M654.8,420.9 L650.1,427.8 M654.8,420.9 L661.6,427.3 M663.4,421.0 L661.6,427.3 M663.4,421.0 L671.1,426.4 M676.5,420.6 L671.1,426.4 M676.5,420.6 L681.1,430.2 M685.6,418.0 L681.1,430.2 M685.6,418.0 L689.0,428.4 M692.2,420.4 L689.0,428.4 M692.2,420.4 L699.6,429.9 M704.4,418.3 L699.6,429.9 M704.4,418.3 L707.4,428.4 M524.5,429.9 L534.7,429.6 L546.4,429.1 L555.7,427.1 L565.8,428.7 L573.0,427.5 L584.1,430.0 L593.0,427.2 L604.8,428.2 L612.8,428.8 L620.9,427.7 L630.3,427.9 L641.8,427.3 L650.1,427.8 L661.6,427.3 L671.1,426.4 L681.1,430.2 L689.0,428.4 L699.6,429.9 L707.4,428.4 M524.5,429.9 L532.3,437.6 M534.7,429.6 L532.3,437.6 M534.7,429.6 L539.9,436.1 M546.4,429.1 L539.9,436.1 M546.4,429.1 L549.4,435.1 M555.7,427.1 L549.4,435.1 M555.7,427.1 L558.9,434.8 M565.8,428.7 L558.9,434.8 M565.8,428.7 L568.1,437.1 M573.0,427.5 L568.1,437.1 M573.0,427.5 L580.7,435.7 M584.1,430.0 L580.7,435.7 M584.1,430.0 L588.5,435.8 M593.0,427.2 L588.5,435.8 M593.0,427.2 L600.0,438.1 M604.8,428.2 L600.0,438.1 M604.8,428.2 L609.4,438.2 M612.8,428.8 L609.4,438.2 M612.8,428.8 L618.2,437.6 M620.9,427.7 L618.2,437.6 M620.9,427.7 L625.6,435.7 M630.3,427.9 L625.6,435.7 M630.3,427.9 L636.9,436.2 M641.8,427.3 L636.9,436.2 M641.8,427.3 L645.4,434.7 M650.1,427.8 L645.4,434.7 M650.1,427.8 L655.6,437.1 M661.6,427.3 L655.6,437.1 M661.6,427.3 L663.3,434.7 M671.1,426.4 L663.3,434.7 M671.1,426.4 L675.1,435.8 M681.1,430.2 L675.1,435.8 M681.1,430.2 L684.5,436.7 M689.0,428.4 L684.5,436.7 M689.0,428.4 L693.6,435.8 M699.6,429.9 L693.6,435.8 M699.6,429.9 L702.1,436.0 M707.4,428.4 L702.1,436.0 M532.3,437.6 L539.9,436.1 L549.4,435.1 L558.9,434.8 L568.1,437.1 L580.7,435.7 L588.5,435.8 L600.0,438.1 L609.4,438.2 L618.2,437.6 L625.6,435.7 L636.9,436.2 L645.4,434.7 L655.6,437.1 L663.3,434.7 L675.1,435.8 L684.5,436.7 L693.6,435.8 L702.1,436.0 M532.3,437.6 L527.4,443.5 M532.3,437.6 L533.6,446.2 M539.9,436.1 L533.6,446.2 M539.9,436.1 L546.1,444.7 M549.4,435.1 L546.1,444.7 M549.4,435.1 L553.0,443.4 M558.9,434.8 L553.0,443.4 M558.9,434.8 L565.1,443.9 M568.1,437.1 L565.1,443.9 M568.1,437.1 L575.3,446.9 M580.7,435.7 L575.3,446.9 M580.7,435.7 L581.7,446.2 M588.5,435.8 L581.7,446.2 M588.5,435.8 L594.8,445.3 M600.0,438.1 L594.8,445.3 M600.0,438.1 L603.1,445.3 M609.4,438.2 L603.1,445.3 M609.4,438.2 L612.5,444.9 M618.2,437.6 L612.5,444.9 M618.2,437.6 L620.6,442.8 M625.6,435.7 L620.6,442.8 M625.6,435.7 L629.8,442.9 M636.9,436.2 L629.8,442.9 M636.9,436.2 L639.9,443.5 M645.4,434.7 L639.9,443.5 M645.4,434.7 L652.5,443.2 M655.6,437.1 L652.5,443.2 M655.6,437.1 L660.9,445.6 M663.3,434.7 L660.9,445.6 M663.3,434.7 L668.7,444.5 M675.1,435.8 L668.7,444.5 M675.1,435.8 L679.7,445.5 M684.5,436.7 L679.7,445.5 M684.5,436.7 L689.8,444.5 M693.6,435.8 L689.8,444.5 M693.6,435.8 L699.3,444.9 M702.1,436.0 L699.3,444.9 M702.1,436.0 L706.6,445.4 M527.4,443.5 L533.6,446.2 L546.1,444.7 L553.0,443.4 L565.1,443.9 L575.3,446.9 L581.7,446.2 L594.8,445.3 L603.1,445.3 L612.5,444.9 L620.6,442.8 L629.8,442.9 L639.9,443.5 L652.5,443.2 L660.9,445.6 L668.7,444.5 L679.7,445.5 L689.8,444.5 L699.3,444.9 L706.6,445.4 M527.4,443.5 L532.9,454.2 M533.6,446.2 L532.9,454.2 M533.6,446.2 L540.3,453.4 M546.1,444.7 L540.3,453.4 M546.1,444.7 L549.5,452.9 M553.0,443.4 L549.5,452.9 M553.0,443.4 L561.3,451.5 M565.1,443.9 L561.3,451.5 M565.1,443.9 L569.9,451.8 M575.3,446.9 L569.9,451.8 M575.3,446.9 L580.9,452.2 M581.7,446.2 L580.9,452.2 M581.7,446.2 L589.0,451.6 M594.8,445.3 L589.0,451.6 M594.8,445.3 L599.6,455.0 M603.1,445.3 L599.6,455.0 M603.1,445.3 L609.5,452.2 M612.5,444.9 L609.5,452.2 M612.5,444.9 L615.3,453.8 M620.6,442.8 L615.3,453.8 M620.6,442.8 L627.6,454.0 M629.8,442.9 L627.6,454.0 M629.8,442.9 L638.2,455.2 M639.9,443.5 L638.2,455.2 M639.9,443.5 L645.1,455.0 M652.5,443.2 L645.1,455.0 M652.5,443.2 L657.3,451.5 M660.9,445.6 L657.3,451.5 M660.9,445.6 L665.2,451.8 M668.7,444.5 L665.2,451.8 M668.7,444.5 L676.5,454.6 M679.7,445.5 L676.5,454.6 M679.7,445.5 L683.2,451.8 M689.8,444.5 L683.2,451.8 M689.8,444.5 L695.7,451.9 M699.3,444.9 L695.7,451.9 M699.3,444.9 L703.1,453.6 M706.6,445.4 L703.1,453.6 M532.9,454.2 L540.3,453.4 L549.5,452.9 L561.3,451.5 L569.9,451.8 L580.9,452.2 L589.0,451.6 L599.6,455.0 L609.5,452.2 L615.3,453.8 L627.6,454.0 L638.2,455.2 L645.1,455.0 L657.3,451.5 L665.2,451.8 L676.5,454.6 L683.2,451.8 L695.7,451.9 L703.1,453.6 M532.9,454.2 L525.5,463.0 M532.9,454.2 L537.4,463.5 M540.3,453.4 L537.4,463.5 M540.3,453.4 L546.6,461.7 M549.5,452.9 L546.6,461.7 M549.5,452.9 L554.7,461.7 M561.3,451.5 L554.7,461.7 M561.3,451.5 L562.3,459.5 M569.9,451.8 L562.3,459.5 M569.9,451.8 L575.9,460.4 M580.9,452.2 L575.9,460.4 M580.9,452.2 L585.2,462.7 M589.0,451.6 L585.2,462.7 M589.0,451.6 L592.7,461.9 M599.6,455.0 L592.7,461.9 M599.6,455.0 L603.1,460.1 M609.5,452.2 L603.1,460.1 M609.5,452.2 L610.4,459.9 M615.3,453.8 L610.4,459.9 M615.3,453.8 L622.5,460.1 M627.6,454.0 L622.5,460.1 M627.6,454.0 L633.6,462.4 M638.2,455.2 L633.6,462.4 M638.2,455.2 L639.2,460.0 M645.1,455.0 L639.2,460.0 M645.1,455.0 L651.4,459.6 M657.3,451.5 L651.4,459.6 M657.3,451.5 L658.6,459.6 M665.2,451.8 L658.6,459.6 M665.2,451.8 L671.5,462.6 M676.5,454.6 L671.5,462.6 M676.5,454.6 L678.3,463.4 M683.2,451.8 L678.3,463.4 M683.2,451.8 L689.3,462.2 M695.7,451.9 L689.3,462.2 M695.7,451.9 L700.4,462.6 M703.1,453.6 L700.4,462.6 M703.1,453.6 L709.3,461.0 M525.5,463.0 L537.4,463.5 L546.6,461.7 L554.7,461.7 L562.3,459.5 L575.9,460.4 L585.2,462.7 L592.7,461.9 L603.1,460.1 L610.4,459.9 L622.5,460.1 L633.6,462.4 L639.2,460.0 L651.4,459.6 L658.6,459.6 L671.5,462.6 L678.3,463.4 L689.3,462.2 L700.4,462.6 L709.3,461.0"/>
</g>
<linearGradient id="floor" x1="0.7" y1="0" x2="0.3" y2="1"><stop offset="0" stop-color="#1a8098"/><stop offset="0.3" stop-color="#2a94c4"/><stop offset="0.7" stop-color="#3aaae0"/><stop offset="1" stop-color="#48cce0"/></linearGradient>
<g filter="url(#b1)">
<ellipse cx="576.1" cy="323.1" rx="19.5" ry="26.4" fill="#24c688" opacity="0.9" filter="url(#b4)"/>
<ellipse cx="575.3" cy="322.8" rx="22.7" ry="21.2" fill="url(#rim)"/>
<ellipse cx="573.7" cy="324.2" rx="18.7" ry="15.2" fill="url(#floor)" filter="url(#b4)"/>
<ellipse cx="573.9" cy="323.7" rx="16.1" ry="12.2" fill="#2c88d8" opacity="0.9" filter="url(#b4)"/>
<ellipse cx="566.7" cy="323.6" rx="5.8" ry="7.2" fill="#0a0ab8"/><ellipse cx="583.6" cy="323.2" rx="5.8" ry="7.2" fill="#0a0ab8"/><ellipse cx="575.0" cy="326.8" rx="1.3" ry="0.7" fill="#0a0ab8"/>
<ellipse cx="659.3" cy="309.5" rx="22.3" ry="29" fill="#24c688" opacity="0.9" filter="url(#b4)"/>
<ellipse cx="658.5" cy="309.2" rx="23.5" ry="20.4" fill="url(#rim)"/>
<ellipse cx="656.9" cy="310.6" rx="19.5" ry="14.4" fill="url(#floor)" filter="url(#b4)"/>
<ellipse cx="657.1" cy="310.1" rx="16.9" ry="11.4" fill="#2c88d8" opacity="0.9" filter="url(#b4)"/>
<ellipse cx="646.5" cy="309.7" rx="5.6" ry="7" fill="#0a0ab8"/><ellipse cx="666.7" cy="309.9" rx="5.8" ry="7" fill="#0a0ab8"/><path d="M650.5,308.2 L653.5,308.6 L663.5,304.8 L664.5,313.4 L650.5,315.2Z" fill="#0a0ab8"/>
<ellipse cx="584.4" cy="409.3" rx="20.3" ry="25.8" fill="#24c688" opacity="0.9" filter="url(#b4)"/>
<ellipse cx="583.6" cy="409" rx="22.7" ry="20.4" fill="url(#rim)"/>
<ellipse cx="582.0" cy="410.4" rx="18.7" ry="14.4" fill="url(#floor)" filter="url(#b4)"/>
<ellipse cx="582.2" cy="409.9" rx="16.1" ry="11.4" fill="#2c88d8" opacity="0.9" filter="url(#b4)"/>
<ellipse cx="573.8" cy="409.0" rx="5.7" ry="7" fill="#0a0ab8"/><ellipse cx="591.2" cy="409.0" rx="5.7" ry="7" fill="#0a0ab8"/>
<ellipse cx="668.7" cy="409.8" rx="22.3" ry="29.2" fill="#24c688" opacity="0.9" filter="url(#b4)"/>
<ellipse cx="667.9" cy="409.5" rx="23.9" ry="21.1" fill="url(#rim)"/>
<ellipse cx="666.3" cy="410.9" rx="19.9" ry="15.1" fill="url(#floor)" filter="url(#b4)"/>
<ellipse cx="666.5" cy="410.4" rx="17.3" ry="12.1" fill="#2c88d8" opacity="0.9" filter="url(#b4)"/>
<ellipse cx="655.0" cy="409.0" rx="4.3" ry="6.4" fill="#0a0ab8"/><ellipse cx="676.8" cy="409.0" rx="4.5" ry="6.4" fill="#0a0ab8"/>
</g>
</g></g>
<g id="p1" filter="url(#b2)">
<linearGradient id="gb1" x1="0" y1="0" x2="1" y2="0"><stop offset="0" stop-color="#3aa80e"/><stop offset="0.42" stop-color="#42ac10"/><stop offset="0.5" stop-color="#2caa18"/><stop offset="0.58" stop-color="#12a828"/><stop offset="1" stop-color="#0ca616"/></linearGradient>
<clipPath id="cp1"><rect x="200.2" y="484.5" width="105.4" height="149.6"/></clipPath>
<rect x="200.2" y="484.5" width="105.4" height="149.6" fill="url(#gb1)"/>
<g clip-path="url(#cp1)" fill="none" stroke="#a0e860" stroke-width="0.45" opacity="0.42">
<path d="M206.8,484.5 L206.5,490.7 L206.0,497.0 L205.5,503.2 L205.2,509.4 L205.3,515.7 L205.7,521.9 L206.1,528.1 L205.9,534.4 L205.5,540.6 L205.2,546.8 L205.4,553.1 L205.9,559.3 L206.2,565.5 L206.0,571.8 L205.4,578.0 L205.2,584.2 L205.6,590.5 L206.2,596.7 L206.0,602.9 L205.3,609.2 L205.3,615.4 L206.1,621.6 L206.6,627.9 L206.8,634.1"/>
<path d="M214.8,484.5 L214.4,490.7 L213.9,497.0 L213.2,503.2 L212.8,509.4 L213.0,515.7 L213.5,521.9 L213.9,528.1 L213.7,534.4 L213.2,540.6 L212.8,546.8 L213.1,553.1 L213.7,559.3 L214.1,565.5 L213.9,571.8 L213.2,578.0 L212.8,584.2 L213.3,590.5 L214.0,596.7 L213.9,602.9 L213.0,609.2 L213.0,615.4 L213.9,621.6 L214.6,627.9 L214.8,634.1"/>
<path d="M222.8,484.5 L222.3,490.7 L221.6,497.0 L220.8,503.2 L220.3,509.4 L220.5,515.7 L221.2,521.9 L221.7,528.1 L221.5,534.4 L220.8,540.6 L220.3,546.8 L220.6,553.1 L221.4,559.3 L221.9,565.5 L221.6,571.8 L220.7,578.0 L220.3,584.2 L221.0,590.5 L221.8,596.7 L221.6,602.9 L220.6,609.2 L220.5,615.4 L221.7,621.6 L222.6,627.9 L222.8,634.1"/>
<path d="M229.8,484.5 L229.2,490.7 L228.3,497.0 L227.2,503.2 L226.6,509.4 L226.8,515.7 L227.7,521.9 L228.3,528.1 L228.0,534.4 L227.1,540.6 L226.5,546.8 L227.0,553.1 L228.0,559.3 L228.7,565.5 L228.2,571.8 L227.1,578.0 L226.5,584.2 L227.4,590.5 L228.5,596.7 L228.3,602.9 L226.9,609.2 L226.8,615.4 L228.4,621.6 L229.5,627.9 L229.8,634.1"/>
<path d="M274.8,484.5 L275.5,490.7 L276.4,497.0 L277.5,503.2 L278.2,509.4 L277.9,515.7 L277.0,521.9 L276.4,528.1 L276.6,534.4 L277.6,540.6 L278.2,546.8 L277.8,553.1 L276.7,559.3 L276.0,565.5 L276.4,571.8 L277.6,578.0 L278.2,584.2 L277.3,590.5 L276.2,596.7 L276.4,602.9 L277.8,609.2 L278.0,615.4 L276.3,621.6 L275.1,627.9 L274.8,634.1"/>
<path d="M281.8,484.5 L282.3,490.7 L283.0,497.0 L283.9,503.2 L284.4,509.4 L284.2,515.7 L283.5,521.9 L283.0,528.1 L283.2,534.4 L283.9,540.6 L284.4,546.8 L284.1,553.1 L283.2,559.3 L282.7,565.5 L283.0,571.8 L284.0,578.0 L284.4,584.2 L283.7,590.5 L282.8,596.7 L283.0,602.9 L284.1,609.2 L284.2,615.4 L282.9,621.6 L282.0,627.9 L281.8,634.1"/>
<path d="M288.8,484.5 L289.2,490.7 L289.8,497.0 L290.5,503.2 L290.9,509.4 L290.7,515.7 L290.1,521.9 L289.8,528.1 L289.9,534.4 L290.5,540.6 L290.9,546.8 L290.6,553.1 L289.9,559.3 L289.5,565.5 L289.8,571.8 L290.5,578.0 L290.9,584.2 L290.3,590.5 L289.6,596.7 L289.8,602.9 L290.7,609.2 L290.7,615.4 L289.7,621.6 L289.0,627.9 L288.8,634.1"/>
<path d="M295.8,484.5 L296.1,490.7 L296.6,497.0 L297.2,503.2 L297.5,509.4 L297.4,515.7 L296.9,521.9 L296.6,528.1 L296.7,534.4 L297.2,540.6 L297.5,546.8 L297.3,553.1 L296.8,559.3 L296.4,565.5 L296.6,571.8 L297.3,578.0 L297.5,584.2 L297.1,590.5 L296.5,596.7 L296.6,602.9 L297.4,609.2 L297.4,615.4 L296.6,621.6 L296.0,627.9 L295.8,634.1"/>
<path d="M302.8,484.5 L303.1,490.7 L303.5,497.0 L304.0,503.2 L304.3,509.4 L304.2,515.7 L303.8,521.9 L303.5,528.1 L303.6,534.4 L304.0,540.6 L304.3,546.8 L304.1,553.1 L303.6,559.3 L303.3,565.5 L303.5,571.8 L304.1,578.0 L304.3,584.2 L303.9,590.5 L303.4,596.7 L303.5,602.9 L304.1,609.2 L304.2,615.4 L303.5,621.6 L302.9,627.9 L302.8,634.1"/>
<ellipse cx="237.6" cy="510.7" rx="2.5" ry="3.9"/><ellipse cx="268.0" cy="510.7" rx="2.5" ry="3.9"/>
<ellipse cx="235.6" cy="510.7" rx="4.5" ry="7.0"/><ellipse cx="270.0" cy="510.7" rx="4.5" ry="7.0"/>
<ellipse cx="233.1" cy="510.7" rx="7" ry="10.8"/><ellipse cx="272.5" cy="510.7" rx="7" ry="10.8"/>
<ellipse cx="230.1" cy="510.7" rx="10" ry="15.5"/><ellipse cx="275.5" cy="510.7" rx="10" ry="15.5"/>
<ellipse cx="226.6" cy="510.7" rx="13.5" ry="17.7"/><ellipse cx="279.0" cy="510.7" rx="13.5" ry="17.7"/>
<path d="M250.4,497.6 Q248.0,493.6 240.2,492.5"/>
<path d="M250.4,523.8 Q248.0,527.8 240.2,528.9"/>
<path d="M251.2,497.6 Q249.6,493.6 244.4,491.2"/>
<path d="M251.2,523.8 Q249.6,527.8 244.4,530.2"/>
<path d="M252.0,497.6 Q251.2,493.6 248.6,489.9"/>
<path d="M252.0,523.8 Q251.2,527.8 248.6,531.5"/>
<path d="M252.8,497.6 Q252.8,493.6 252.8,488.6"/>
<path d="M252.8,523.8 Q252.8,527.8 252.8,532.8"/>
<path d="M253.6,497.6 Q254.4,493.6 257.0,489.9"/>
<path d="M253.6,523.8 Q254.4,527.8 257.0,531.5"/>
<path d="M254.4,497.6 Q256.0,493.6 261.2,491.2"/>
<path d="M254.4,523.8 Q256.0,527.8 261.2,530.2"/>
<path d="M255.2,497.6 Q257.6,493.6 265.4,492.5"/>
<path d="M255.2,523.8 Q257.6,527.8 265.4,528.9"/>
<ellipse cx="238.6" cy="547.6" rx="2.5" ry="3.9"/><ellipse cx="267.0" cy="547.6" rx="2.5" ry="3.9"/>
<ellipse cx="236.6" cy="547.6" rx="4.5" ry="7.0"/><ellipse cx="269.0" cy="547.6" rx="4.5" ry="7.0"/>
<ellipse cx="234.1" cy="547.6" rx="7" ry="10.8"/><ellipse cx="271.5" cy="547.6" rx="7" ry="10.8"/>
<ellipse cx="231.1" cy="547.6" rx="10" ry="15.5"/><ellipse cx="274.5" cy="547.6" rx="10" ry="15.5"/>
<ellipse cx="227.6" cy="547.6" rx="13.5" ry="16.3"/><ellipse cx="278.0" cy="547.6" rx="13.5" ry="16.3"/>
<path d="M250.4,535.5 Q248.0,531.5 240.2,530.4"/>
<path d="M250.4,559.7 Q248.0,563.7 240.2,564.8"/>
<path d="M251.2,535.5 Q249.6,531.5 244.4,529.1"/>
<path d="M251.2,559.7 Q249.6,563.7 244.4,566.1"/>
<path d="M252.0,535.5 Q251.2,531.5 248.6,527.8"/>
<path d="M252.0,559.7 Q251.2,563.7 248.6,567.4"/>
<path d="M252.8,535.5 Q252.8,531.5 252.8,526.5"/>
<path d="M252.8,559.7 Q252.8,563.7 252.8,568.7"/>
<path d="M253.6,535.5 Q254.4,531.5 257.0,527.8"/>
<path d="M253.6,559.7 Q254.4,563.7 257.0,567.4"/>
<path d="M254.4,535.5 Q256.0,531.5 261.2,529.1"/>
<path d="M254.4,559.7 Q256.0,563.7 261.2,566.1"/>
<path d="M255.2,535.5 Q257.6,531.5 265.4,530.4"/>
<path d="M255.2,559.7 Q257.6,563.7 265.4,564.8"/>
<ellipse cx="240.2" cy="583.5" rx="2.5" ry="3.9"/><ellipse cx="265.4" cy="583.5" rx="2.5" ry="3.9"/>
<ellipse cx="238.2" cy="583.5" rx="4.5" ry="7.0"/><ellipse cx="267.4" cy="583.5" rx="4.5" ry="7.0"/>
<ellipse cx="235.7" cy="583.5" rx="7" ry="10.8"/><ellipse cx="269.9" cy="583.5" rx="7" ry="10.8"/>
<ellipse cx="232.7" cy="583.5" rx="10" ry="14.0"/><ellipse cx="272.9" cy="583.5" rx="10" ry="14.0"/>
<ellipse cx="229.2" cy="583.5" rx="13.5" ry="14.0"/><ellipse cx="276.4" cy="583.5" rx="13.5" ry="14.0"/>
<path d="M250.4,573.1 Q248.0,569.1 240.2,568.0"/>
<path d="M250.4,593.9 Q248.0,597.9 240.2,599.0"/>
<path d="M251.2,573.1 Q249.6,569.1 244.4,566.7"/>
<path d="M251.2,593.9 Q249.6,597.9 244.4,600.3"/>
<path d="M252.0,573.1 Q251.2,569.1 248.6,565.4"/>
<path d="M252.0,593.9 Q251.2,597.9 248.6,601.6"/>
<path d="M252.8,573.1 Q252.8,569.1 252.8,564.1"/>
<path d="M252.8,593.9 Q252.8,597.9 252.8,602.9"/>
<path d="M253.6,573.1 Q254.4,569.1 257.0,565.4"/>
<path d="M253.6,593.9 Q254.4,597.9 257.0,601.6"/>
<path d="M254.4,573.1 Q256.0,569.1 261.2,566.7"/>
<path d="M254.4,593.9 Q256.0,597.9 261.2,600.3"/>
<path d="M255.2,573.1 Q257.6,569.1 265.4,568.0"/>
<path d="M255.2,593.9 Q257.6,597.9 265.4,599.0"/>
<ellipse cx="242.3" cy="612.7" rx="2.5" ry="3.9"/><ellipse cx="263.3" cy="612.7" rx="2.5" ry="3.9"/>
<ellipse cx="240.3" cy="612.7" rx="4.5" ry="7.0"/><ellipse cx="265.3" cy="612.7" rx="4.5" ry="7.0"/>
<ellipse cx="237.8" cy="612.7" rx="7" ry="10.8"/><ellipse cx="267.8" cy="612.7" rx="7" ry="10.8"/>
<ellipse cx="234.8" cy="612.7" rx="10" ry="11.1"/><ellipse cx="270.8" cy="612.7" rx="10" ry="11.1"/>
<ellipse cx="231.3" cy="612.7" rx="13.5" ry="11.1"/><ellipse cx="274.3" cy="612.7" rx="13.5" ry="11.1"/>
<path d="M250.4,604.5 Q248.0,600.5 240.2,599.4"/>
<path d="M250.4,620.9 Q248.0,624.9 240.2,626.0"/>
<path d="M251.2,604.5 Q249.6,600.5 244.4,598.1"/>
<path d="M251.2,620.9 Q249.6,624.9 244.4,627.3"/>
<path d="M252.0,604.5 Q251.2,600.5 248.6,596.8"/>
<path d="M252.0,620.9 Q251.2,624.9 248.6,628.6"/>
<path d="M252.8,604.5 Q252.8,600.5 252.8,595.5"/>
<path d="M252.8,620.9 Q252.8,624.9 252.8,629.9"/>
<path d="M253.6,604.5 Q254.4,600.5 257.0,596.8"/>
<path d="M253.6,620.9 Q254.4,624.9 257.0,628.6"/>
<path d="M254.4,604.5 Q256.0,600.5 261.2,598.1"/>
<path d="M254.4,620.9 Q256.0,624.9 261.2,627.3"/>
<path d="M255.2,604.5 Q257.6,600.5 265.4,599.4"/>
<path d="M255.2,620.9 Q257.6,624.9 265.4,626.0"/>
</g>
<radialGradient id="sp1" cx="0.65" cy="0.68" r="0.82"><stop offset="0" stop-color="#b4ffac"/><stop offset="0.12" stop-color="#64f05a"/><stop offset="0.32" stop-color="#2cc42c"/><stop offset="0.58" stop-color="#128a1a"/><stop offset="1" stop-color="#04540c"/></radialGradient>
<clipPath id="cl1510"><rect x="235.7" y="494.6" width="17.1" height="32.2"/></clipPath><clipPath id="cr1510"><rect x="252.8" y="494.6" width="17.1" height="32.2"/></clipPath>
<circle cx="252.8" cy="510.7" r="14.3" fill="#98e010" opacity="0.55" clip-path="url(#cl1510)" filter="url(#b4)"/>
<circle cx="252.8" cy="510.7" r="14.3" fill="#18c868" opacity="0.55" clip-path="url(#cr1510)" filter="url(#b4)"/>
<circle cx="252.8" cy="510.7" r="13.1" fill="url(#sp1)"/>
<clipPath id="cs1510"><circle cx="252.8" cy="510.7" r="12.7"/></clipPath><g clip-path="url(#cs1510)" stroke="#04480c" stroke-width="1.1" opacity="0.28"><line x1="243.6" y1="497.6" x2="243.6" y2="512.7"/><line x1="246.3" y1="497.6" x2="246.3" y2="512.7"/><line x1="248.9" y1="497.6" x2="248.9" y2="512.7"/><line x1="251.5" y1="497.6" x2="251.5" y2="512.7"/><line x1="254.1" y1="497.6" x2="254.1" y2="512.7"/><line x1="256.7" y1="497.6" x2="256.7" y2="512.7"/></g>
<clipPath id="cl1547"><rect x="236.7" y="532.5" width="16.1" height="30.2"/></clipPath><clipPath id="cr1547"><rect x="252.8" y="532.5" width="16.1" height="30.2"/></clipPath>
<circle cx="252.8" cy="547.6" r="13.3" fill="#98e010" opacity="0.55" clip-path="url(#cl1547)" filter="url(#b4)"/>
<circle cx="252.8" cy="547.6" r="13.3" fill="#18c868" opacity="0.55" clip-path="url(#cr1547)" filter="url(#b4)"/>
<circle cx="252.8" cy="547.6" r="12.1" fill="url(#sp1)"/>
<clipPath id="cs1547"><circle cx="252.8" cy="547.6" r="11.7"/></clipPath><g clip-path="url(#cs1547)" stroke="#04480c" stroke-width="1.1" opacity="0.28"><line x1="244.3" y1="535.5" x2="244.3" y2="549.4"/><line x1="246.8" y1="535.5" x2="246.8" y2="549.4"/><line x1="249.2" y1="535.5" x2="249.2" y2="549.4"/><line x1="251.6" y1="535.5" x2="251.6" y2="549.4"/><line x1="254.0" y1="535.5" x2="254.0" y2="549.4"/><line x1="256.4" y1="535.5" x2="256.4" y2="549.4"/></g>
<clipPath id="cl1583"><rect x="238.4" y="570.1" width="14.4" height="26.8"/></clipPath><clipPath id="cr1583"><rect x="252.8" y="570.1" width="14.4" height="26.8"/></clipPath>
<circle cx="252.8" cy="583.5" r="11.6" fill="#98e010" opacity="0.55" clip-path="url(#cl1583)" filter="url(#b4)"/>
<circle cx="252.8" cy="583.5" r="11.6" fill="#18c868" opacity="0.55" clip-path="url(#cr1583)" filter="url(#b4)"/>
<circle cx="252.8" cy="583.5" r="10.4" fill="url(#sp1)"/>
<clipPath id="cs1583"><circle cx="252.8" cy="583.5" r="10.0"/></clipPath><g clip-path="url(#cs1583)" stroke="#04480c" stroke-width="1.1" opacity="0.28"><line x1="245.5" y1="573.1" x2="245.5" y2="585.1"/><line x1="247.6" y1="573.1" x2="247.6" y2="585.1"/><line x1="249.7" y1="573.1" x2="249.7" y2="585.1"/><line x1="251.8" y1="573.1" x2="251.8" y2="585.1"/><line x1="253.8" y1="573.1" x2="253.8" y2="585.1"/><line x1="255.9" y1="573.1" x2="255.9" y2="585.1"/></g>
<clipPath id="cl1612"><rect x="240.6" y="601.5" width="12.2" height="22.4"/></clipPath><clipPath id="cr1612"><rect x="252.8" y="601.5" width="12.2" height="22.4"/></clipPath>
<circle cx="252.8" cy="612.7" r="9.4" fill="#98e010" opacity="0.55" clip-path="url(#cl1612)" filter="url(#b4)"/>
<circle cx="252.8" cy="612.7" r="9.4" fill="#18c868" opacity="0.55" clip-path="url(#cr1612)" filter="url(#b4)"/>
<circle cx="252.8" cy="612.7" r="8.2" fill="url(#sp1)"/>
<clipPath id="cs1612"><circle cx="252.8" cy="612.7" r="7.8"/></clipPath><g clip-path="url(#cs1612)" stroke="#04480c" stroke-width="1.1" opacity="0.28"><line x1="247.1" y1="604.5" x2="247.1" y2="613.9"/><line x1="248.7" y1="604.5" x2="248.7" y2="613.9"/><line x1="250.3" y1="604.5" x2="250.3" y2="613.9"/><line x1="252.0" y1="604.5" x2="252.0" y2="613.9"/><line x1="253.6" y1="604.5" x2="253.6" y2="613.9"/><line x1="255.3" y1="604.5" x2="255.3" y2="613.9"/></g>
<line x1="238.2" y1="482.7" x2="260.8" y2="482.7" stroke="#d01818" stroke-width="1"/><polygon points="262.8,482.7 258.3,481.0 258.3,484.4" fill="#d01818"/>
<rect x="161.5" y="505.4" width="8.8" height="121.7" fill="url(#rb)"/>
<text class="sa" x="157.7" y="495.7" font-size="4.5" fill="#444">contour-1</text>
<text class="sa" x="157.7" y="500.5" font-size="4.5" fill="#444">Static Pressure</text>
<text class="sa" x="174.7" y="507.7" font-size="4.6" fill="#333">3.00e+03</text>
<text class="sa" x="174.7" y="519.9" font-size="4.6" fill="#333">2.40e+03</text>
<text class="sa" x="174.7" y="532.0" font-size="4.6" fill="#333">1.80e+03</text>
<text class="sa" x="174.7" y="544.2" font-size="4.6" fill="#333">1.20e+03</text>
<text class="sa" x="174.7" y="556.4" font-size="4.6" fill="#333">6.00e+02</text>
<text class="sa" x="174.7" y="568.5" font-size="4.6" fill="#333">0.00e+00</text>
<text class="sa" x="173.4" y="580.7" font-size="4.6" fill="#333">-6.00e+02</text>
<text class="sa" x="173.4" y="592.9" font-size="4.6" fill="#333">-1.20e+03</text>
<text class="sa" x="173.4" y="605.1" font-size="4.6" fill="#333">-1.80e+03</text>
<text class="sa" x="173.4" y="617.2" font-size="4.6" fill="#333">-2.40e+03</text>
<text class="sa" x="173.4" y="629.4" font-size="4.6" fill="#333">-3.00e+03</text>
<text class="sa" x="157.7" y="634.7" font-size="4.6" fill="#333">( pascal )</text>
<rect x="149.5" y="647.4" width="35.9" height="10.7" fill="#fff" stroke="#c8c8c8" stroke-width="0.6"/>
<circle cx="153.3" cy="653" r="0.5" fill="#333"/><text class="sa" x="157.1" y="654" font-size="2.9" fill="#333">mixing</text>
<path d="M199.9,657.1 L199.9,724.8 L301.2,724.8" fill="none" stroke="#999" stroke-width="0.5"/>
<text class="sa" x="196.9" y="658.1" font-size="2.9" text-anchor="end" fill="#333">2.50e+03</text>
<line x1="198.4" y1="657.1" x2="199.9" y2="657.1" stroke="#999" stroke-width="0.4"/>
<text class="sa" x="196.9" y="664.9" font-size="2.9" text-anchor="end" fill="#333">2.00e+03</text>
<line x1="198.4" y1="663.9" x2="199.9" y2="663.9" stroke="#999" stroke-width="0.4"/>
<text class="sa" x="196.9" y="671.6" font-size="2.9" text-anchor="end" fill="#333">1.50e+03</text>
<line x1="198.4" y1="670.6" x2="199.9" y2="670.6" stroke="#999" stroke-width="0.4"/>
<text class="sa" x="196.9" y="678.4" font-size="2.9" text-anchor="end" fill="#333">1.00e+03</text>
<line x1="198.4" y1="677.4" x2="199.9" y2="677.4" stroke="#999" stroke-width="0.4"/>
<text class="sa" x="196.9" y="685.2" font-size="2.9" text-anchor="end" fill="#333">5.00e+02</text>
<line x1="198.4" y1="684.2" x2="199.9" y2="684.2" stroke="#999" stroke-width="0.4"/>
<text class="sa" x="196.9" y="692.0" font-size="2.9" text-anchor="end" fill="#333">0.00e+00</text>
<line x1="198.4" y1="691.0" x2="199.9" y2="691.0" stroke="#999" stroke-width="0.4"/>
<text class="sa" x="196.9" y="698.7" font-size="2.9" text-anchor="end" fill="#333">-5.00e+02</text>
<line x1="198.4" y1="697.7" x2="199.9" y2="697.7" stroke="#999" stroke-width="0.4"/>
<text class="sa" x="196.9" y="705.5" font-size="2.9" text-anchor="end" fill="#333">-1.00e+03</text>
<line x1="198.4" y1="704.5" x2="199.9" y2="704.5" stroke="#999" stroke-width="0.4"/>
<text class="sa" x="196.9" y="712.3" font-size="2.9" text-anchor="end" fill="#333">-1.50e+03</text>
<line x1="198.4" y1="711.3" x2="199.9" y2="711.3" stroke="#999" stroke-width="0.4"/>
<text class="sa" x="196.9" y="719.0" font-size="2.9" text-anchor="end" fill="#333">-2.00e+03</text>
<line x1="198.4" y1="718.0" x2="199.9" y2="718.0" stroke="#999" stroke-width="0.4"/>
<text class="sa" x="196.9" y="725.8" font-size="2.9" text-anchor="end" fill="#333">-2.50e+03</text>
<line x1="198.4" y1="724.8" x2="199.9" y2="724.8" stroke="#999" stroke-width="0.4"/>
<text class="sa" x="199.9" y="729.8" font-size="3" text-anchor="middle" fill="#333">0</text>
<text class="sa" x="216.8" y="729.8" font-size="3" text-anchor="middle" fill="#333">0.001</text>
<text class="sa" x="233.7" y="729.8" font-size="3" text-anchor="middle" fill="#333">0.002</text>
<text class="sa" x="250.6" y="729.8" font-size="3" text-anchor="middle" fill="#333">0.003</text>
<text class="sa" x="267.4" y="729.8" font-size="3" text-anchor="middle" fill="#333">0.004</text>
<text class="sa" x="284.3" y="729.8" font-size="3" text-anchor="middle" fill="#333">0.005</text>
<text class="sa" x="301.2" y="729.8" font-size="3" text-anchor="middle" fill="#333">0.006</text>
<text class="sa" x="250.8" y="736.0" font-size="4.4" text-anchor="middle" fill="#222">Position (m)</text>
<text class="sa" x="179.9" y="692.5" font-size="4.1" text-anchor="end" fill="#222">Static</text>
<text class="sa" x="179.9" y="696.2" font-size="4.1" text-anchor="end" fill="#222">Pressure</text>
<text class="sa" x="179.9" y="699.9" font-size="4.1" text-anchor="end" fill="#222">(pascal)</text>
<path d="M199.9,686.2 L201.2,682.6 L202.6,683.2 L203.9,684.2 L205.3,684.0 L206.6,683.8 L208.0,683.4 L209.3,682.9 L210.7,682.4 L212.0,681.8 L213.4,681.3 L214.7,680.9 L216.1,680.6 L217.4,680.6 L218.8,680.8 L220.1,681.2 L221.4,681.7 L222.8,682.2 L224.1,682.8 L225.5,683.3 L226.8,683.7 L228.2,683.9 L229.5,684.0 L230.9,683.9 L232.2,683.6 L233.6,683.2 L234.9,682.7 L236.3,682.2 L237.6,681.8 L238.9,681.5 L240.3,681.4 L241.6,681.6 L243.0,681.9 L244.3,682.4 L245.7,682.9 L247.0,683.5 L248.4,684.0 L249.7,684.3 L251.1,684.6 L252.4,684.8 L253.8,684.8 L255.1,684.8 L256.5,684.6 L257.8,684.4 L259.1,683.9 L260.5,683.5 L261.8,683.0 L263.2,682.7 L264.5,682.6 L265.9,682.7 L267.2,683.1 L268.6,683.6 L269.9,684.1 L271.3,684.5 L272.6,684.8 L274.0,684.9 L275.3,684.8 L276.6,684.5 L278.0,684.1 L279.3,683.7 L280.7,683.3 L282.0,683.1 L283.4,683.1 L284.7,683.4 L286.1,683.8 L287.4,684.3 L288.8,684.7 L290.1,685.0 L291.5,685.2 L292.8,685.4 L294.2,685.4 L295.5,685.5 L296.8,685.5 L296.8,693.1 L295.5,693.1 L294.2,693.2 L292.8,693.2 L291.5,693.3 L290.1,693.6 L288.8,693.9 L287.4,694.3 L286.1,694.7 L284.7,695.1 L283.4,695.4 L282.0,695.4 L280.7,695.2 L279.3,694.9 L278.0,694.4 L276.6,694.1 L275.3,693.8 L274.0,693.7 L272.6,693.8 L271.3,694.0 L269.9,694.4 L268.6,694.9 L267.2,695.4 L265.9,695.7 L264.5,695.9 L263.2,695.8 L261.8,695.5 L260.5,695.0 L259.1,694.6 L257.8,694.2 L256.5,693.9 L255.1,693.8 L253.8,693.7 L252.4,693.8 L251.1,694.0 L249.7,694.2 L248.4,694.6 L247.0,695.0 L245.7,695.5 L244.3,696.1 L243.0,696.5 L241.6,696.8 L240.3,697.0 L238.9,696.9 L237.6,696.6 L236.3,696.2 L234.9,695.7 L233.6,695.3 L232.2,694.9 L230.9,694.7 L229.5,694.6 L228.2,694.6 L226.8,694.8 L225.5,695.2 L224.1,695.7 L222.8,696.2 L221.4,696.7 L220.1,697.2 L218.8,697.6 L217.4,697.8 L216.1,697.7 L214.7,697.5 L213.4,697.1 L212.0,696.6 L210.7,696.1 L209.3,695.6 L208.0,695.1 L206.6,694.8 L205.3,694.5 L203.9,694.3 L202.6,693.1 L201.2,693.5 L199.9,691.3Z" fill="#000"/>
<ellipse cx="217" cy="689.4" rx="8.7" ry="24.6" fill="none" stroke="#000" stroke-width="1.15"/>
<ellipse cx="217" cy="689.4" rx="8.3" ry="18.7" fill="none" stroke="#000" stroke-width="1.0"/>
<ellipse cx="217" cy="689.4" rx="8.1" ry="15.5" fill="none" stroke="#000" stroke-width="1.0"/>
<ellipse cx="217" cy="689.4" rx="7.8" ry="11.8" fill="none" stroke="#000" stroke-width="1.0"/>
<ellipse cx="240.2" cy="689.2" rx="7.8" ry="24.8" fill="none" stroke="#000" stroke-width="1.15"/>
<ellipse cx="240.2" cy="689.2" rx="7.4" ry="18.8" fill="none" stroke="#000" stroke-width="1.0"/>
<ellipse cx="240.2" cy="689.2" rx="7.2" ry="15.6" fill="none" stroke="#000" stroke-width="1.0"/>
<ellipse cx="240.2" cy="689.2" rx="7.0" ry="11.9" fill="none" stroke="#000" stroke-width="1.0"/>
<line x1="240.2" y1="660.0" x2="240.2" y2="723.0" stroke="#000" stroke-width="0.7" stroke-dasharray="1 1"/>
<ellipse cx="264.4" cy="689.8" rx="5.8" ry="25.2" fill="none" stroke="#000" stroke-width="1.15"/>
<ellipse cx="264.4" cy="689.8" rx="5.5" ry="19.2" fill="none" stroke="#000" stroke-width="1.0"/>
<ellipse cx="264.4" cy="689.8" rx="5.4" ry="15.9" fill="none" stroke="#000" stroke-width="1.0"/>
<ellipse cx="264.4" cy="689.8" rx="5.2" ry="12.1" fill="none" stroke="#000" stroke-width="1.0"/>
<ellipse cx="282.6" cy="689.4" rx="5.6" ry="24.6" fill="none" stroke="#000" stroke-width="1.15"/>
<ellipse cx="282.6" cy="689.4" rx="5.3" ry="18.7" fill="none" stroke="#000" stroke-width="1.0"/>
<ellipse cx="282.6" cy="689.4" rx="5.2" ry="15.5" fill="none" stroke="#000" stroke-width="1.0"/>
<ellipse cx="282.6" cy="689.4" rx="5.0" ry="11.8" fill="none" stroke="#000" stroke-width="1.0"/>
</g>
<g id="p2" filter="url(#b2)">
<linearGradient id="gb2" x1="0" y1="0" x2="1" y2="0"><stop offset="0" stop-color="#3aa80e"/><stop offset="0.42" stop-color="#42ac10"/><stop offset="0.5" stop-color="#2caa18"/><stop offset="0.58" stop-color="#12a828"/><stop offset="1" stop-color="#0ca616"/></linearGradient>
<clipPath id="cp2"><rect x="408.8" y="486.8" width="104.6" height="148.7"/></clipPath>
<rect x="408.8" y="486.8" width="104.6" height="148.7" fill="url(#gb2)"/>
<g clip-path="url(#cp2)" fill="none" stroke="#a0e860" stroke-width="0.45" opacity="0.42">
<path d="M415.2,486.8 L414.9,493.0 L414.4,499.2 L413.9,505.4 L413.6,511.6 L413.7,517.8 L414.1,524.0 L414.4,530.2 L414.3,536.4 L413.8,542.6 L413.6,548.8 L413.8,555.0 L414.4,561.1 L414.7,567.3 L414.5,573.5 L413.9,579.7 L413.6,585.9 L414.0,592.1 L414.5,598.3 L414.5,604.5 L413.7,610.7 L413.7,616.9 L414.5,623.1 L415.1,629.3 L415.2,635.5"/>
<path d="M423.2,486.8 L422.8,493.0 L422.3,499.2 L421.6,505.4 L421.2,511.6 L421.4,517.8 L421.9,524.0 L422.3,530.2 L422.1,536.4 L421.6,542.6 L421.2,548.8 L421.5,555.0 L422.2,561.1 L422.6,567.3 L422.3,573.5 L421.6,579.7 L421.2,585.9 L421.7,592.1 L422.4,598.3 L422.3,604.5 L421.4,610.7 L421.4,616.9 L422.4,623.1 L423.0,629.3 L423.2,635.5"/>
<path d="M431.2,486.8 L430.7,493.0 L430.0,499.2 L429.2,505.4 L428.7,511.6 L428.9,517.8 L429.6,524.0 L430.0,530.2 L429.8,536.4 L429.1,542.6 L428.7,548.8 L429.1,555.0 L429.9,561.1 L430.4,567.3 L430.1,573.5 L429.2,579.7 L428.7,585.9 L429.3,592.1 L430.2,598.3 L430.1,604.5 L429.0,610.7 L428.9,616.9 L430.2,623.1 L431.0,629.3 L431.2,635.5"/>
<path d="M438.2,486.8 L437.5,493.0 L436.7,499.2 L435.6,505.4 L435.0,511.6 L435.2,517.8 L436.1,524.0 L436.7,530.2 L436.4,536.4 L435.5,542.6 L434.9,548.8 L435.4,555.0 L436.5,561.1 L437.2,567.3 L436.8,573.5 L435.6,579.7 L434.9,585.9 L435.8,592.1 L436.9,598.3 L436.7,604.5 L435.3,610.7 L435.2,616.9 L436.8,623.1 L437.9,629.3 L438.2,635.5"/>
<path d="M483.2,486.8 L483.9,493.0 L484.8,499.2 L485.9,505.4 L486.6,511.6 L486.3,517.8 L485.4,524.0 L484.8,530.2 L485.1,536.4 L486.0,542.6 L486.6,548.8 L486.1,555.0 L485.0,561.1 L484.3,567.3 L484.7,573.5 L486.0,579.7 L486.6,585.9 L485.8,592.1 L484.6,598.3 L484.8,604.5 L486.3,610.7 L486.3,616.9 L484.6,623.1 L483.5,629.3 L483.2,635.5"/>
<path d="M490.2,486.8 L490.7,493.0 L491.4,499.2 L492.3,505.4 L492.8,511.6 L492.6,517.8 L491.9,524.0 L491.4,530.2 L491.6,536.4 L492.4,542.6 L492.8,548.8 L492.4,555.0 L491.5,561.1 L491.0,567.3 L491.3,573.5 L492.3,579.7 L492.8,585.9 L492.1,592.1 L491.2,598.3 L491.4,604.5 L492.5,610.7 L492.6,616.9 L491.3,623.1 L490.4,629.3 L490.2,635.5"/>
<path d="M497.2,486.8 L497.6,493.0 L498.2,499.2 L498.9,505.4 L499.3,511.6 L499.1,517.8 L498.6,524.0 L498.2,530.2 L498.4,536.4 L498.9,542.6 L499.3,548.8 L499.0,555.0 L498.3,561.1 L497.8,567.3 L498.1,573.5 L498.9,579.7 L499.3,585.9 L498.8,592.1 L498.0,598.3 L498.2,604.5 L499.1,610.7 L499.1,616.9 L498.1,623.1 L497.4,629.3 L497.2,635.5"/>
<path d="M504.2,486.8 L504.6,493.0 L505.0,499.2 L505.6,505.4 L505.9,511.6 L505.8,517.8 L505.3,524.0 L505.0,530.2 L505.2,536.4 L505.7,542.6 L506.0,548.8 L505.7,555.0 L505.1,561.1 L504.7,567.3 L505.0,573.5 L505.6,579.7 L505.9,585.9 L505.5,592.1 L504.9,598.3 L505.0,604.5 L505.8,610.7 L505.8,616.9 L504.9,623.1 L504.3,629.3 L504.2,635.5"/>
<path d="M511.2,486.8 L511.5,493.0 L511.9,499.2 L512.4,505.4 L512.7,511.6 L512.6,517.8 L512.2,524.0 L511.9,530.2 L512.0,536.4 L512.5,542.6 L512.7,548.8 L512.5,555.0 L512.0,561.1 L511.7,567.3 L511.9,573.5 L512.4,579.7 L512.7,585.9 L512.3,592.1 L511.8,598.3 L511.9,604.5 L512.5,610.7 L512.6,616.9 L511.8,623.1 L511.3,629.3 L511.2,635.5"/>
<ellipse cx="445.9" cy="512.9" rx="2.5" ry="3.9"/><ellipse cx="476.5" cy="512.9" rx="2.5" ry="3.9"/>
<ellipse cx="443.9" cy="512.9" rx="4.5" ry="7.0"/><ellipse cx="478.5" cy="512.9" rx="4.5" ry="7.0"/>
<ellipse cx="441.4" cy="512.9" rx="7" ry="10.8"/><ellipse cx="481.0" cy="512.9" rx="7" ry="10.8"/>
<ellipse cx="438.4" cy="512.9" rx="10" ry="15.5"/><ellipse cx="484.0" cy="512.9" rx="10" ry="15.5"/>
<ellipse cx="434.9" cy="512.9" rx="13.5" ry="17.8"/><ellipse cx="487.5" cy="512.9" rx="13.5" ry="17.8"/>
<path d="M458.8,499.7 Q456.4,495.7 448.6,494.6"/>
<path d="M458.8,526.1 Q456.4,530.1 448.6,531.2"/>
<path d="M459.6,499.7 Q458.0,495.7 452.8,493.3"/>
<path d="M459.6,526.1 Q458.0,530.1 452.8,532.5"/>
<path d="M460.4,499.7 Q459.6,495.7 457.0,492.0"/>
<path d="M460.4,526.1 Q459.6,530.1 457.0,533.8"/>
<path d="M461.2,499.7 Q461.2,495.7 461.2,490.7"/>
<path d="M461.2,526.1 Q461.2,530.1 461.2,535.1"/>
<path d="M462.0,499.7 Q462.8,495.7 465.4,492.0"/>
<path d="M462.0,526.1 Q462.8,530.1 465.4,533.8"/>
<path d="M462.8,499.7 Q464.4,495.7 469.6,493.3"/>
<path d="M462.8,526.1 Q464.4,530.1 469.6,532.5"/>
<path d="M463.6,499.7 Q466.0,495.7 473.8,494.6"/>
<path d="M463.6,526.1 Q466.0,530.1 473.8,531.2"/>
<ellipse cx="447.2" cy="549.2" rx="2.5" ry="3.9"/><ellipse cx="475.2" cy="549.2" rx="2.5" ry="3.9"/>
<ellipse cx="445.2" cy="549.2" rx="4.5" ry="7.0"/><ellipse cx="477.2" cy="549.2" rx="4.5" ry="7.0"/>
<ellipse cx="442.7" cy="549.2" rx="7" ry="10.8"/><ellipse cx="479.7" cy="549.2" rx="7" ry="10.8"/>
<ellipse cx="439.7" cy="549.2" rx="10" ry="15.5"/><ellipse cx="482.7" cy="549.2" rx="10" ry="15.5"/>
<ellipse cx="436.2" cy="549.2" rx="13.5" ry="16.1"/><ellipse cx="486.2" cy="549.2" rx="13.5" ry="16.1"/>
<path d="M458.8,537.3 Q456.4,533.3 448.6,532.2"/>
<path d="M458.8,561.1 Q456.4,565.1 448.6,566.2"/>
<path d="M459.6,537.3 Q458.0,533.3 452.8,530.9"/>
<path d="M459.6,561.1 Q458.0,565.1 452.8,567.5"/>
<path d="M460.4,537.3 Q459.6,533.3 457.0,529.6"/>
<path d="M460.4,561.1 Q459.6,565.1 457.0,568.8"/>
<path d="M461.2,537.3 Q461.2,533.3 461.2,528.3"/>
<path d="M461.2,561.1 Q461.2,565.1 461.2,570.1"/>
<path d="M462.0,537.3 Q462.8,533.3 465.4,529.6"/>
<path d="M462.0,561.1 Q462.8,565.1 465.4,568.8"/>
<path d="M462.8,537.3 Q464.4,533.3 469.6,530.9"/>
<path d="M462.8,561.1 Q464.4,565.1 469.6,567.5"/>
<path d="M463.6,537.3 Q466.0,533.3 473.8,532.2"/>
<path d="M463.6,561.1 Q466.0,565.1 473.8,566.2"/>
<ellipse cx="448.8" cy="585.5" rx="2.5" ry="3.9"/><ellipse cx="473.6" cy="585.5" rx="2.5" ry="3.9"/>
<ellipse cx="446.8" cy="585.5" rx="4.5" ry="7.0"/><ellipse cx="475.6" cy="585.5" rx="4.5" ry="7.0"/>
<ellipse cx="444.3" cy="585.5" rx="7" ry="10.8"/><ellipse cx="478.1" cy="585.5" rx="7" ry="10.8"/>
<ellipse cx="441.3" cy="585.5" rx="10" ry="13.8"/><ellipse cx="481.1" cy="585.5" rx="10" ry="13.8"/>
<ellipse cx="437.8" cy="585.5" rx="13.5" ry="13.8"/><ellipse cx="484.6" cy="585.5" rx="13.5" ry="13.8"/>
<path d="M458.8,575.3 Q456.4,571.3 448.6,570.2"/>
<path d="M458.8,595.7 Q456.4,599.7 448.6,600.8"/>
<path d="M459.6,575.3 Q458.0,571.3 452.8,568.9"/>
<path d="M459.6,595.7 Q458.0,599.7 452.8,602.1"/>
<path d="M460.4,575.3 Q459.6,571.3 457.0,567.6"/>
<path d="M460.4,595.7 Q459.6,599.7 457.0,603.4"/>
<path d="M461.2,575.3 Q461.2,571.3 461.2,566.3"/>
<path d="M461.2,595.7 Q461.2,599.7 461.2,604.7"/>
<path d="M462.0,575.3 Q462.8,571.3 465.4,567.6"/>
<path d="M462.0,595.7 Q462.8,599.7 465.4,603.4"/>
<path d="M462.8,575.3 Q464.4,571.3 469.6,568.9"/>
<path d="M462.8,595.7 Q464.4,599.7 469.6,602.1"/>
<path d="M463.6,575.3 Q466.0,571.3 473.8,570.2"/>
<path d="M463.6,595.7 Q466.0,599.7 473.8,600.8"/>
<ellipse cx="450.9" cy="614.1" rx="2.5" ry="3.9"/><ellipse cx="471.5" cy="614.1" rx="2.5" ry="3.9"/>
<ellipse cx="448.9" cy="614.1" rx="4.5" ry="7.0"/><ellipse cx="473.5" cy="614.1" rx="4.5" ry="7.0"/>
<ellipse cx="446.4" cy="614.1" rx="7" ry="10.8"/><ellipse cx="476.0" cy="614.1" rx="7" ry="10.8"/>
<ellipse cx="443.4" cy="614.1" rx="10" ry="10.8"/><ellipse cx="479.0" cy="614.1" rx="10" ry="10.8"/>
<ellipse cx="439.9" cy="614.1" rx="13.5" ry="10.8"/><ellipse cx="482.5" cy="614.1" rx="13.5" ry="10.8"/>
<path d="M458.8,606.1 Q456.4,602.1 448.6,601.0"/>
<path d="M458.8,622.1 Q456.4,626.1 448.6,627.2"/>
<path d="M459.6,606.1 Q458.0,602.1 452.8,599.7"/>
<path d="M459.6,622.1 Q458.0,626.1 452.8,628.5"/>
<path d="M460.4,606.1 Q459.6,602.1 457.0,598.4"/>
<path d="M460.4,622.1 Q459.6,626.1 457.0,629.8"/>
<path d="M461.2,606.1 Q461.2,602.1 461.2,597.1"/>
<path d="M461.2,622.1 Q461.2,626.1 461.2,631.1"/>
<path d="M462.0,606.1 Q462.8,602.1 465.4,598.4"/>
<path d="M462.0,622.1 Q462.8,626.1 465.4,629.8"/>
<path d="M462.8,606.1 Q464.4,602.1 469.6,599.7"/>
<path d="M462.8,622.1 Q464.4,626.1 469.6,628.5"/>
<path d="M463.6,606.1 Q466.0,602.1 473.8,601.0"/>
<path d="M463.6,622.1 Q466.0,626.1 473.8,627.2"/>
</g>
<radialGradient id="sp2" cx="0.65" cy="0.68" r="0.82"><stop offset="0" stop-color="#b4ffac"/><stop offset="0.12" stop-color="#64f05a"/><stop offset="0.32" stop-color="#2cc42c"/><stop offset="0.58" stop-color="#128a1a"/><stop offset="1" stop-color="#04540c"/></radialGradient>
<clipPath id="cl2512"><rect x="444.0" y="496.7" width="17.2" height="32.4"/></clipPath><clipPath id="cr2512"><rect x="461.2" y="496.7" width="17.2" height="32.4"/></clipPath>
<circle cx="461.2" cy="512.9" r="14.4" fill="#98e010" opacity="0.55" clip-path="url(#cl2512)" filter="url(#b4)"/>
<circle cx="461.2" cy="512.9" r="14.4" fill="#18c868" opacity="0.55" clip-path="url(#cr2512)" filter="url(#b4)"/>
<circle cx="461.2" cy="512.9" r="13.2" fill="url(#sp2)"/>
<clipPath id="cs2512"><circle cx="461.2" cy="512.9" r="12.8"/></clipPath><g clip-path="url(#cs2512)" stroke="#04480c" stroke-width="1.1" opacity="0.28"><line x1="452.0" y1="499.7" x2="452.0" y2="514.9"/><line x1="454.6" y1="499.7" x2="454.6" y2="514.9"/><line x1="457.2" y1="499.7" x2="457.2" y2="514.9"/><line x1="459.9" y1="499.7" x2="459.9" y2="514.9"/><line x1="462.5" y1="499.7" x2="462.5" y2="514.9"/><line x1="465.2" y1="499.7" x2="465.2" y2="514.9"/></g>
<clipPath id="cl2549"><rect x="445.3" y="534.3" width="15.9" height="29.8"/></clipPath><clipPath id="cr2549"><rect x="461.2" y="534.3" width="15.9" height="29.8"/></clipPath>
<circle cx="461.2" cy="549.2" r="13.1" fill="#98e010" opacity="0.55" clip-path="url(#cl2549)" filter="url(#b4)"/>
<circle cx="461.2" cy="549.2" r="13.1" fill="#18c868" opacity="0.55" clip-path="url(#cr2549)" filter="url(#b4)"/>
<circle cx="461.2" cy="549.2" r="11.9" fill="url(#sp2)"/>
<clipPath id="cs2549"><circle cx="461.2" cy="549.2" r="11.5"/></clipPath><g clip-path="url(#cs2549)" stroke="#04480c" stroke-width="1.1" opacity="0.28"><line x1="452.9" y1="537.3" x2="452.9" y2="551.0"/><line x1="455.2" y1="537.3" x2="455.2" y2="551.0"/><line x1="457.6" y1="537.3" x2="457.6" y2="551.0"/><line x1="460.0" y1="537.3" x2="460.0" y2="551.0"/><line x1="462.4" y1="537.3" x2="462.4" y2="551.0"/><line x1="464.8" y1="537.3" x2="464.8" y2="551.0"/></g>
<clipPath id="cl2585"><rect x="447.0" y="572.3" width="14.2" height="26.4"/></clipPath><clipPath id="cr2585"><rect x="461.2" y="572.3" width="14.2" height="26.4"/></clipPath>
<circle cx="461.2" cy="585.5" r="11.4" fill="#98e010" opacity="0.55" clip-path="url(#cl2585)" filter="url(#b4)"/>
<circle cx="461.2" cy="585.5" r="11.4" fill="#18c868" opacity="0.55" clip-path="url(#cr2585)" filter="url(#b4)"/>
<circle cx="461.2" cy="585.5" r="10.2" fill="url(#sp2)"/>
<clipPath id="cs2585"><circle cx="461.2" cy="585.5" r="9.8"/></clipPath><g clip-path="url(#cs2585)" stroke="#04480c" stroke-width="1.1" opacity="0.28"><line x1="454.1" y1="575.3" x2="454.1" y2="587.0"/><line x1="456.1" y1="575.3" x2="456.1" y2="587.0"/><line x1="458.1" y1="575.3" x2="458.1" y2="587.0"/><line x1="460.2" y1="575.3" x2="460.2" y2="587.0"/><line x1="462.2" y1="575.3" x2="462.2" y2="587.0"/><line x1="464.3" y1="575.3" x2="464.3" y2="587.0"/></g>
<clipPath id="cl2614"><rect x="449.2" y="603.1" width="12.0" height="22.0"/></clipPath><clipPath id="cr2614"><rect x="461.2" y="603.1" width="12.0" height="22.0"/></clipPath>
<circle cx="461.2" cy="614.1" r="9.2" fill="#98e010" opacity="0.55" clip-path="url(#cl2614)" filter="url(#b4)"/>
<circle cx="461.2" cy="614.1" r="9.2" fill="#18c868" opacity="0.55" clip-path="url(#cr2614)" filter="url(#b4)"/>
<circle cx="461.2" cy="614.1" r="8" fill="url(#sp2)"/>
<clipPath id="cs2614"><circle cx="461.2" cy="614.1" r="7.6"/></clipPath><g clip-path="url(#cs2614)" stroke="#04480c" stroke-width="1.1" opacity="0.28"><line x1="455.6" y1="606.1" x2="455.6" y2="615.3"/><line x1="457.2" y1="606.1" x2="457.2" y2="615.3"/><line x1="458.8" y1="606.1" x2="458.8" y2="615.3"/><line x1="460.4" y1="606.1" x2="460.4" y2="615.3"/><line x1="462.0" y1="606.1" x2="462.0" y2="615.3"/><line x1="463.6" y1="606.1" x2="463.6" y2="615.3"/></g>
<line x1="445.3" y1="483.2" x2="467.6" y2="483.2" stroke="#d01818" stroke-width="1"/><polygon points="469.6,483.2 465.1,481.5 465.1,484.9" fill="#d01818"/>
<rect x="370.9" y="506.8" width="9.1" height="123.0" fill="url(#rb)"/>
<text class="sa" x="366.8" y="497.1" font-size="4.5" fill="#444">contour-1</text>
<text class="sa" x="366.8" y="501.9" font-size="4.5" fill="#444">Static Pressure</text>
<text class="sa" x="384.4" y="509.1" font-size="4.6" fill="#333">3.00e+03</text>
<text class="sa" x="384.4" y="521.4" font-size="4.6" fill="#333">2.40e+03</text>
<text class="sa" x="384.4" y="533.7" font-size="4.6" fill="#333">1.80e+03</text>
<text class="sa" x="384.4" y="546.0" font-size="4.6" fill="#333">1.20e+03</text>
<text class="sa" x="384.4" y="558.3" font-size="4.6" fill="#333">6.00e+02</text>
<text class="sa" x="384.4" y="570.6" font-size="4.6" fill="#333">0.00e+00</text>
<text class="sa" x="383.1" y="582.9" font-size="4.6" fill="#333">-6.00e+02</text>
<text class="sa" x="383.1" y="595.2" font-size="4.6" fill="#333">-1.20e+03</text>
<text class="sa" x="383.1" y="607.5" font-size="4.6" fill="#333">-1.80e+03</text>
<text class="sa" x="383.1" y="619.8" font-size="4.6" fill="#333">-2.40e+03</text>
<text class="sa" x="383.1" y="632.1" font-size="4.6" fill="#333">-3.00e+03</text>
<text class="sa" x="366.8" y="637.4" font-size="4.6" fill="#333">( pascal )</text>
<rect x="357.8" y="647.4" width="35.5" height="10.7" fill="#fff" stroke="#c8c8c8" stroke-width="0.6"/>
<circle cx="361.6" cy="653" r="0.5" fill="#333"/><text class="sa" x="365.4" y="654" font-size="2.9" fill="#333">mixing</text>
<path d="M407.8,657.1 L407.8,724.8 L509.1,724.8" fill="none" stroke="#999" stroke-width="0.5"/>
<text class="sa" x="404.8" y="658.1" font-size="2.9" text-anchor="end" fill="#333">3.00e+03</text>
<line x1="406.3" y1="657.1" x2="407.8" y2="657.1" stroke="#999" stroke-width="0.4"/>
<text class="sa" x="404.8" y="667.8" font-size="2.9" text-anchor="end" fill="#333">2.00e+03</text>
<line x1="406.3" y1="666.8" x2="407.8" y2="666.8" stroke="#999" stroke-width="0.4"/>
<text class="sa" x="404.8" y="677.4" font-size="2.9" text-anchor="end" fill="#333">1.00e+03</text>
<line x1="406.3" y1="676.4" x2="407.8" y2="676.4" stroke="#999" stroke-width="0.4"/>
<text class="sa" x="404.8" y="687.1" font-size="2.9" text-anchor="end" fill="#333">0.00e+00</text>
<line x1="406.3" y1="686.1" x2="407.8" y2="686.1" stroke="#999" stroke-width="0.4"/>
<text class="sa" x="404.8" y="696.8" font-size="2.9" text-anchor="end" fill="#333">-1.00e+03</text>
<line x1="406.3" y1="695.8" x2="407.8" y2="695.8" stroke="#999" stroke-width="0.4"/>
<text class="sa" x="404.8" y="706.5" font-size="2.9" text-anchor="end" fill="#333">-2.00e+03</text>
<line x1="406.3" y1="705.5" x2="407.8" y2="705.5" stroke="#999" stroke-width="0.4"/>
<text class="sa" x="404.8" y="716.1" font-size="2.9" text-anchor="end" fill="#333">-3.00e+03</text>
<line x1="406.3" y1="715.1" x2="407.8" y2="715.1" stroke="#999" stroke-width="0.4"/>
<text class="sa" x="404.8" y="725.8" font-size="2.9" text-anchor="end" fill="#333">-4.00e+03</text>
<line x1="406.3" y1="724.8" x2="407.8" y2="724.8" stroke="#999" stroke-width="0.4"/>
<text class="sa" x="407.8" y="729.8" font-size="3" text-anchor="middle" fill="#333">0</text>
<text class="sa" x="424.7" y="729.8" font-size="3" text-anchor="middle" fill="#333">0.001</text>
<text class="sa" x="441.6" y="729.8" font-size="3" text-anchor="middle" fill="#333">0.002</text>
<text class="sa" x="458.5" y="729.8" font-size="3" text-anchor="middle" fill="#333">0.003</text>
<text class="sa" x="475.3" y="729.8" font-size="3" text-anchor="middle" fill="#333">0.004</text>
<text class="sa" x="492.2" y="729.8" font-size="3" text-anchor="middle" fill="#333">0.005</text>
<text class="sa" x="509.1" y="729.8" font-size="3" text-anchor="middle" fill="#333">0.006</text>
<text class="sa" x="458.3" y="736.0" font-size="4.4" text-anchor="middle" fill="#222">Position (m)</text>
<text class="sa" x="387.8" y="692.5" font-size="4.1" text-anchor="end" fill="#222">Static</text>
<text class="sa" x="387.8" y="696.2" font-size="4.1" text-anchor="end" fill="#222">Pressure</text>
<text class="sa" x="387.8" y="699.9" font-size="4.1" text-anchor="end" fill="#222">(pascal)</text>
<path d="M407.8,681.8 L409.1,678.2 L410.5,678.8 L411.8,679.9 L413.2,679.7 L414.5,679.5 L415.9,679.1 L417.2,678.7 L418.6,678.1 L419.9,677.6 L421.3,677.0 L422.6,676.6 L424.0,676.3 L425.3,676.2 L426.7,676.3 L428.0,676.6 L429.3,677.1 L430.7,677.7 L432.0,678.3 L433.4,678.8 L434.7,679.2 L436.1,679.5 L437.4,679.6 L438.8,679.5 L440.1,679.3 L441.5,679.0 L442.8,678.5 L444.2,678.0 L445.5,677.5 L446.8,677.2 L448.2,677.0 L449.5,677.1 L450.9,677.4 L452.2,677.8 L453.6,678.3 L454.9,678.9 L456.3,679.4 L457.6,679.8 L459.0,680.1 L460.3,680.3 L461.7,680.4 L463.0,680.3 L464.4,680.2 L465.7,679.8 L467.0,679.4 L468.4,678.9 L469.7,678.5 L471.1,678.2 L472.4,678.2 L473.8,678.4 L475.1,678.9 L476.5,679.4 L477.8,679.9 L479.2,680.3 L480.5,680.5 L481.9,680.6 L483.2,680.5 L484.5,680.3 L485.9,679.9 L487.2,679.5 L488.6,679.0 L489.9,678.7 L491.3,678.7 L492.6,678.8 L494.0,679.2 L495.3,679.7 L496.7,680.1 L498.0,680.5 L499.4,680.8 L500.7,680.9 L502.1,681.0 L503.4,681.1 L504.7,681.1 L504.7,688.7 L503.4,688.7 L502.1,688.8 L500.7,688.9 L499.4,689.0 L498.0,689.3 L496.7,689.6 L495.3,690.1 L494.0,690.5 L492.6,690.9 L491.3,691.0 L489.9,690.9 L488.6,690.7 L487.2,690.3 L485.9,689.8 L484.5,689.5 L483.2,689.3 L481.9,689.2 L480.5,689.3 L479.2,689.5 L477.8,689.9 L476.5,690.3 L475.1,690.8 L473.8,691.2 L472.4,691.5 L471.1,691.5 L469.7,691.2 L468.4,690.8 L467.0,690.3 L465.7,689.9 L464.4,689.6 L463.0,689.4 L461.7,689.4 L460.3,689.5 L459.0,689.6 L457.6,689.9 L456.3,690.3 L454.9,690.8 L453.6,691.3 L452.2,691.8 L450.9,692.3 L449.5,692.5 L448.2,692.6 L446.8,692.4 L445.5,692.1 L444.2,691.6 L442.8,691.2 L441.5,690.7 L440.1,690.4 L438.8,690.2 L437.4,690.1 L436.1,690.3 L434.7,690.5 L433.4,690.9 L432.0,691.4 L430.7,692.0 L429.3,692.5 L428.0,693.0 L426.7,693.3 L425.3,693.4 L424.0,693.3 L422.6,693.0 L421.3,692.6 L419.9,692.1 L418.6,691.5 L417.2,691.0 L415.9,690.6 L414.5,690.3 L413.2,690.0 L411.8,689.9 L410.5,688.7 L409.1,689.1 L407.8,686.9Z" fill="#000"/>
<ellipse cx="425.3" cy="685.0" rx="8.7" ry="23.9" fill="none" stroke="#000" stroke-width="1.15"/>
<ellipse cx="425.3" cy="685.0" rx="8.3" ry="18.2" fill="none" stroke="#000" stroke-width="1.0"/>
<ellipse cx="425.3" cy="685.0" rx="8.1" ry="15.1" fill="none" stroke="#000" stroke-width="1.0"/>
<ellipse cx="425.3" cy="685.0" rx="7.8" ry="11.5" fill="none" stroke="#000" stroke-width="1.0"/>
<ellipse cx="448.6" cy="684.7" rx="7.8" ry="23.9" fill="none" stroke="#000" stroke-width="1.15"/>
<ellipse cx="448.6" cy="684.7" rx="7.4" ry="18.2" fill="none" stroke="#000" stroke-width="1.0"/>
<ellipse cx="448.6" cy="684.7" rx="7.2" ry="15.1" fill="none" stroke="#000" stroke-width="1.0"/>
<ellipse cx="448.6" cy="684.7" rx="7.0" ry="11.5" fill="none" stroke="#000" stroke-width="1.0"/>
<line x1="448.6" y1="656.3" x2="448.6" y2="717.6" stroke="#000" stroke-width="0.7" stroke-dasharray="1 1"/>
<ellipse cx="471.9" cy="685.2" rx="5.8" ry="24.4" fill="none" stroke="#000" stroke-width="1.15"/>
<ellipse cx="471.9" cy="685.2" rx="5.5" ry="18.5" fill="none" stroke="#000" stroke-width="1.0"/>
<ellipse cx="471.9" cy="685.2" rx="5.4" ry="15.4" fill="none" stroke="#000" stroke-width="1.0"/>
<ellipse cx="471.9" cy="685.2" rx="5.2" ry="11.7" fill="none" stroke="#000" stroke-width="1.0"/>
<ellipse cx="491.1" cy="684.9" rx="5.6" ry="23.7" fill="none" stroke="#000" stroke-width="1.15"/>
<ellipse cx="491.1" cy="684.9" rx="5.3" ry="18.0" fill="none" stroke="#000" stroke-width="1.0"/>
<ellipse cx="491.1" cy="684.9" rx="5.2" ry="14.9" fill="none" stroke="#000" stroke-width="1.0"/>
<ellipse cx="491.1" cy="684.9" rx="5.0" ry="11.4" fill="none" stroke="#000" stroke-width="1.0"/>
</g>
<g id="p3" filter="url(#b2)">
<linearGradient id="gb3" x1="0" y1="0" x2="1" y2="0"><stop offset="0" stop-color="#3cb020"/><stop offset="0.08" stop-color="#62b018"/><stop offset="0.3" stop-color="#7eb210"/><stop offset="0.45" stop-color="#a4b810"/><stop offset="0.51" stop-color="#40b030"/><stop offset="0.6" stop-color="#14b058"/><stop offset="0.78" stop-color="#14ac38"/><stop offset="1" stop-color="#1aa820"/></linearGradient>
<clipPath id="cp3"><rect x="611" y="484.7" width="104.5" height="149.6"/></clipPath>
<rect x="611" y="484.7" width="104.5" height="149.6" fill="url(#gb3)"/>
<g clip-path="url(#cp3)" fill="none" stroke="#a0e860" stroke-width="0.45" opacity="0.42">
<path d="M618.4,484.7 L618.1,490.9 L617.6,497.2 L617.1,503.4 L616.8,509.6 L616.9,515.9 L617.3,522.1 L617.6,528.3 L617.5,534.6 L617.1,540.8 L616.8,547.0 L617.0,553.3 L617.5,559.5 L617.9,565.7 L617.7,572.0 L617.1,578.2 L616.8,584.4 L617.1,590.7 L617.7,596.9 L617.7,603.1 L617.0,609.4 L616.8,615.6 L617.6,621.8 L618.2,628.1 L618.4,634.3"/>
<path d="M626.4,484.7 L626.0,490.9 L625.5,497.2 L624.8,503.4 L624.4,509.6 L624.6,515.9 L625.1,522.1 L625.5,528.3 L625.3,534.6 L624.8,540.8 L624.4,547.0 L624.7,553.3 L625.3,559.5 L625.8,565.7 L625.6,572.0 L624.9,578.2 L624.4,584.4 L624.8,590.7 L625.6,596.9 L625.6,603.1 L624.7,609.4 L624.5,615.6 L625.4,621.8 L626.2,628.1 L626.4,634.3"/>
<path d="M634.4,484.7 L633.9,490.9 L633.2,497.2 L632.4,503.4 L631.9,509.6 L632.1,515.9 L632.7,522.1 L633.2,528.3 L633.0,534.6 L632.4,540.8 L631.9,547.0 L632.2,553.3 L633.0,559.5 L633.6,565.7 L633.4,572.0 L632.5,578.2 L631.9,584.4 L632.4,590.7 L633.3,596.9 L633.3,603.1 L632.3,609.4 L632.0,615.6 L633.2,621.8 L634.1,628.1 L634.4,634.3"/>
<path d="M641.4,484.7 L640.7,490.9 L639.9,497.2 L638.8,503.4 L638.2,509.6 L638.4,515.9 L639.2,522.1 L639.9,528.3 L639.6,534.6 L638.7,540.8 L638.1,547.0 L638.5,553.3 L639.6,559.5 L640.3,565.7 L640.0,572.0 L638.9,578.2 L638.1,584.4 L638.8,590.7 L640.0,596.9 L640.0,603.1 L638.6,609.4 L638.3,615.6 L639.8,621.8 L641.0,628.1 L641.4,634.3"/>
<path d="M686.4,484.7 L687.1,490.9 L688.0,497.2 L689.1,503.4 L689.8,509.6 L689.5,515.9 L688.7,522.1 L688.0,528.3 L688.3,534.6 L689.2,540.8 L689.8,547.0 L689.4,553.3 L688.3,559.5 L687.5,565.7 L687.8,572.0 L689.0,578.2 L689.8,584.4 L689.1,590.7 L687.9,596.9 L687.8,603.1 L689.3,609.4 L689.7,615.6 L688.1,621.8 L686.8,628.1 L686.4,634.3"/>
<path d="M693.4,484.7 L693.9,490.9 L694.6,497.2 L695.5,503.4 L696.0,509.6 L695.8,515.9 L695.1,522.1 L694.6,528.3 L694.8,534.6 L695.5,540.8 L696.0,547.0 L695.7,553.3 L694.8,559.5 L694.2,565.7 L694.5,572.0 L695.4,578.2 L696.0,584.4 L695.5,590.7 L694.5,596.9 L694.5,603.1 L695.6,609.4 L695.9,615.6 L694.7,621.8 L693.7,628.1 L693.4,634.3"/>
<path d="M700.4,484.7 L700.8,490.9 L701.4,497.2 L702.1,503.4 L702.5,509.6 L702.3,515.9 L701.8,522.1 L701.4,528.3 L701.5,534.6 L702.1,540.8 L702.5,547.0 L702.2,553.3 L701.6,559.5 L701.1,565.7 L701.3,572.0 L702.0,578.2 L702.5,584.4 L702.1,590.7 L701.3,596.9 L701.3,603.1 L702.2,609.4 L702.4,615.6 L701.4,621.8 L700.6,628.1 L700.4,634.3"/>
<path d="M707.4,484.7 L707.8,490.9 L708.2,497.2 L708.8,503.4 L709.1,509.6 L709.0,515.9 L708.6,522.1 L708.2,528.3 L708.3,534.6 L708.8,540.8 L709.1,547.0 L708.9,553.3 L708.4,559.5 L708.0,565.7 L708.1,572.0 L708.7,578.2 L709.1,584.4 L708.8,590.7 L708.1,596.9 L708.1,603.1 L708.9,609.4 L709.1,615.6 L708.3,621.8 L707.6,628.1 L707.4,634.3"/>
<path d="M714.4,484.7 L714.7,490.9 L715.1,497.2 L715.6,503.4 L715.9,509.6 L715.8,515.9 L715.4,522.1 L715.1,528.3 L715.2,534.6 L715.6,540.8 L715.9,547.0 L715.7,553.3 L715.2,559.5 L714.9,565.7 L715.0,572.0 L715.6,578.2 L715.9,584.4 L715.6,590.7 L715.0,596.9 L715.0,603.1 L715.7,609.4 L715.8,615.6 L715.1,621.8 L714.6,628.1 L714.4,634.3"/>
<ellipse cx="649.0" cy="511" rx="2.5" ry="3.9"/><ellipse cx="679.8" cy="511" rx="2.5" ry="3.9"/>
<ellipse cx="647.0" cy="511" rx="4.5" ry="7.0"/><ellipse cx="681.8" cy="511" rx="4.5" ry="7.0"/>
<ellipse cx="644.5" cy="511" rx="7" ry="10.8"/><ellipse cx="684.3" cy="511" rx="7" ry="10.8"/>
<ellipse cx="641.5" cy="511" rx="10" ry="15.5"/><ellipse cx="687.3" cy="511" rx="10" ry="15.5"/>
<ellipse cx="638.0" cy="511" rx="13.5" ry="18.0"/><ellipse cx="690.8" cy="511" rx="13.5" ry="18.0"/>
<path d="M662.0,497.7 Q659.6,493.7 651.8,492.6"/>
<path d="M662.0,524.3 Q659.6,528.3 651.8,529.4"/>
<path d="M662.8,497.7 Q661.2,493.7 656.0,491.3"/>
<path d="M662.8,524.3 Q661.2,528.3 656.0,530.7"/>
<path d="M663.6,497.7 Q662.8,493.7 660.2,490.0"/>
<path d="M663.6,524.3 Q662.8,528.3 660.2,532.0"/>
<path d="M664.4,497.7 Q664.4,493.7 664.4,488.7"/>
<path d="M664.4,524.3 Q664.4,528.3 664.4,533.3"/>
<path d="M665.2,497.7 Q666.0,493.7 668.6,490.0"/>
<path d="M665.2,524.3 Q666.0,528.3 668.6,532.0"/>
<path d="M666.0,497.7 Q667.6,493.7 672.8,491.3"/>
<path d="M666.0,524.3 Q667.6,528.3 672.8,530.7"/>
<path d="M666.8,497.7 Q669.2,493.7 677.0,492.6"/>
<path d="M666.8,524.3 Q669.2,528.3 677.0,529.4"/>
<ellipse cx="650.1" cy="548" rx="2.5" ry="3.9"/><ellipse cx="678.7" cy="548" rx="2.5" ry="3.9"/>
<ellipse cx="648.1" cy="548" rx="4.5" ry="7.0"/><ellipse cx="680.7" cy="548" rx="4.5" ry="7.0"/>
<ellipse cx="645.6" cy="548" rx="7" ry="10.8"/><ellipse cx="683.2" cy="548" rx="7" ry="10.8"/>
<ellipse cx="642.6" cy="548" rx="10" ry="15.5"/><ellipse cx="686.2" cy="548" rx="10" ry="15.5"/>
<ellipse cx="639.1" cy="548" rx="13.5" ry="16.5"/><ellipse cx="689.7" cy="548" rx="13.5" ry="16.5"/>
<path d="M662.0,535.8 Q659.6,531.8 651.8,530.7"/>
<path d="M662.0,560.2 Q659.6,564.2 651.8,565.3"/>
<path d="M662.8,535.8 Q661.2,531.8 656.0,529.4"/>
<path d="M662.8,560.2 Q661.2,564.2 656.0,566.6"/>
<path d="M663.6,535.8 Q662.8,531.8 660.2,528.1"/>
<path d="M663.6,560.2 Q662.8,564.2 660.2,567.9"/>
<path d="M664.4,535.8 Q664.4,531.8 664.4,526.8"/>
<path d="M664.4,560.2 Q664.4,564.2 664.4,569.2"/>
<path d="M665.2,535.8 Q666.0,531.8 668.6,528.1"/>
<path d="M665.2,560.2 Q666.0,564.2 668.6,567.9"/>
<path d="M666.0,535.8 Q667.6,531.8 672.8,529.4"/>
<path d="M666.0,560.2 Q667.6,564.2 672.8,566.6"/>
<path d="M666.8,535.8 Q669.2,531.8 677.0,530.7"/>
<path d="M666.8,560.2 Q669.2,564.2 677.0,565.3"/>
<ellipse cx="651.9" cy="584.7" rx="2.5" ry="3.9"/><ellipse cx="676.9" cy="584.7" rx="2.5" ry="3.9"/>
<ellipse cx="649.9" cy="584.7" rx="4.5" ry="7.0"/><ellipse cx="678.9" cy="584.7" rx="4.5" ry="7.0"/>
<ellipse cx="647.4" cy="584.7" rx="7" ry="10.8"/><ellipse cx="681.4" cy="584.7" rx="7" ry="10.8"/>
<ellipse cx="644.4" cy="584.7" rx="10" ry="13.9"/><ellipse cx="684.4" cy="584.7" rx="10" ry="13.9"/>
<ellipse cx="640.9" cy="584.7" rx="13.5" ry="13.9"/><ellipse cx="687.9" cy="584.7" rx="13.5" ry="13.9"/>
<path d="M662.0,574.4 Q659.6,570.4 651.8,569.3"/>
<path d="M662.0,595.0 Q659.6,599.0 651.8,600.1"/>
<path d="M662.8,574.4 Q661.2,570.4 656.0,568.0"/>
<path d="M662.8,595.0 Q661.2,599.0 656.0,601.4"/>
<path d="M663.6,574.4 Q662.8,570.4 660.2,566.7"/>
<path d="M663.6,595.0 Q662.8,599.0 660.2,602.7"/>
<path d="M664.4,574.4 Q664.4,570.4 664.4,565.4"/>
<path d="M664.4,595.0 Q664.4,599.0 664.4,604.0"/>
<path d="M665.2,574.4 Q666.0,570.4 668.6,566.7"/>
<path d="M665.2,595.0 Q666.0,599.0 668.6,602.7"/>
<path d="M666.0,574.4 Q667.6,570.4 672.8,568.0"/>
<path d="M666.0,595.0 Q667.6,599.0 672.8,601.4"/>
<path d="M666.8,574.4 Q669.2,570.4 677.0,569.3"/>
<path d="M666.8,595.0 Q669.2,599.0 677.0,600.1"/>
<ellipse cx="654.0" cy="613.6" rx="2.5" ry="3.9"/><ellipse cx="674.8" cy="613.6" rx="2.5" ry="3.9"/>
<ellipse cx="652.0" cy="613.6" rx="4.5" ry="7.0"/><ellipse cx="676.8" cy="613.6" rx="4.5" ry="7.0"/>
<ellipse cx="649.5" cy="613.6" rx="7" ry="10.8"/><ellipse cx="679.3" cy="613.6" rx="7" ry="10.8"/>
<ellipse cx="646.5" cy="613.6" rx="10" ry="10.9"/><ellipse cx="682.3" cy="613.6" rx="10" ry="10.9"/>
<ellipse cx="643.0" cy="613.6" rx="13.5" ry="10.9"/><ellipse cx="685.8" cy="613.6" rx="13.5" ry="10.9"/>
<path d="M662.0,605.5 Q659.6,601.5 651.8,600.4"/>
<path d="M662.0,621.7 Q659.6,625.7 651.8,626.8"/>
<path d="M662.8,605.5 Q661.2,601.5 656.0,599.1"/>
<path d="M662.8,621.7 Q661.2,625.7 656.0,628.1"/>
<path d="M663.6,605.5 Q662.8,601.5 660.2,597.8"/>
<path d="M663.6,621.7 Q662.8,625.7 660.2,629.4"/>
<path d="M664.4,605.5 Q664.4,601.5 664.4,596.5"/>
<path d="M664.4,621.7 Q664.4,625.7 664.4,630.7"/>
<path d="M665.2,605.5 Q666.0,601.5 668.6,597.8"/>
<path d="M665.2,621.7 Q666.0,625.7 668.6,629.4"/>
<path d="M666.0,605.5 Q667.6,601.5 672.8,599.1"/>
<path d="M666.0,621.7 Q667.6,625.7 672.8,628.1"/>
<path d="M666.8,605.5 Q669.2,601.5 677.0,600.4"/>
<path d="M666.8,621.7 Q669.2,625.7 677.0,626.8"/>
</g>
<radialGradient id="sp3" cx="0.65" cy="0.68" r="0.82"><stop offset="0" stop-color="#b4ffac"/><stop offset="0.12" stop-color="#64f05a"/><stop offset="0.32" stop-color="#2cc42c"/><stop offset="0.58" stop-color="#128a1a"/><stop offset="1" stop-color="#04540c"/></radialGradient>
<clipPath id="cl3511"><rect x="647.1" y="494.7" width="17.3" height="32.6"/></clipPath><clipPath id="cr3511"><rect x="664.4" y="494.7" width="17.3" height="32.6"/></clipPath>
<circle cx="664.4" cy="511" r="15.5" fill="#e8d810" opacity="0.9" clip-path="url(#cl3511)" filter="url(#b4)"/>
<circle cx="664.4" cy="511" r="15.5" fill="#10c8a0" opacity="0.9" clip-path="url(#cr3511)" filter="url(#b4)"/>
<circle cx="664.4" cy="511" r="13.3" fill="url(#sp3)"/>
<clipPath id="cs3511"><circle cx="664.4" cy="511" r="12.9"/></clipPath><g clip-path="url(#cs3511)" stroke="#04480c" stroke-width="1.1" opacity="0.28"><line x1="655.1" y1="497.7" x2="655.1" y2="513.0"/><line x1="657.8" y1="497.7" x2="657.8" y2="513.0"/><line x1="660.4" y1="497.7" x2="660.4" y2="513.0"/><line x1="663.1" y1="497.7" x2="663.1" y2="513.0"/><line x1="665.7" y1="497.7" x2="665.7" y2="513.0"/><line x1="668.4" y1="497.7" x2="668.4" y2="513.0"/></g>
<clipPath id="cl3548"><rect x="648.2" y="532.8" width="16.2" height="30.4"/></clipPath><clipPath id="cr3548"><rect x="664.4" y="532.8" width="16.2" height="30.4"/></clipPath>
<circle cx="664.4" cy="548" r="14.4" fill="#e8d810" opacity="0.9" clip-path="url(#cl3548)" filter="url(#b4)"/>
<circle cx="664.4" cy="548" r="14.4" fill="#10c8a0" opacity="0.9" clip-path="url(#cr3548)" filter="url(#b4)"/>
<circle cx="664.4" cy="548" r="12.2" fill="url(#sp3)"/>
<clipPath id="cs3548"><circle cx="664.4" cy="548" r="11.8"/></clipPath><g clip-path="url(#cs3548)" stroke="#04480c" stroke-width="1.1" opacity="0.28"><line x1="655.9" y1="535.8" x2="655.9" y2="549.8"/><line x1="658.3" y1="535.8" x2="658.3" y2="549.8"/><line x1="660.7" y1="535.8" x2="660.7" y2="549.8"/><line x1="663.2" y1="535.8" x2="663.2" y2="549.8"/><line x1="665.6" y1="535.8" x2="665.6" y2="549.8"/><line x1="668.1" y1="535.8" x2="668.1" y2="549.8"/></g>
<clipPath id="cl3584"><rect x="650.1" y="571.4" width="14.3" height="26.6"/></clipPath><clipPath id="cr3584"><rect x="664.4" y="571.4" width="14.3" height="26.6"/></clipPath>
<circle cx="664.4" cy="584.7" r="12.5" fill="#e8d810" opacity="0.9" clip-path="url(#cl3584)" filter="url(#b4)"/>
<circle cx="664.4" cy="584.7" r="12.5" fill="#10c8a0" opacity="0.9" clip-path="url(#cr3584)" filter="url(#b4)"/>
<circle cx="664.4" cy="584.7" r="10.3" fill="url(#sp3)"/>
<clipPath id="cs3584"><circle cx="664.4" cy="584.7" r="9.9"/></clipPath><g clip-path="url(#cs3584)" stroke="#04480c" stroke-width="1.1" opacity="0.28"><line x1="657.2" y1="574.4" x2="657.2" y2="586.2"/><line x1="659.2" y1="574.4" x2="659.2" y2="586.2"/><line x1="661.3" y1="574.4" x2="661.3" y2="586.2"/><line x1="663.4" y1="574.4" x2="663.4" y2="586.2"/><line x1="665.4" y1="574.4" x2="665.4" y2="586.2"/><line x1="667.5" y1="574.4" x2="667.5" y2="586.2"/></g>
<clipPath id="cl3613"><rect x="652.3" y="602.5" width="12.1" height="22.2"/></clipPath><clipPath id="cr3613"><rect x="664.4" y="602.5" width="12.1" height="22.2"/></clipPath>
<circle cx="664.4" cy="613.6" r="10.3" fill="#e8d810" opacity="0.9" clip-path="url(#cl3613)" filter="url(#b4)"/>
<circle cx="664.4" cy="613.6" r="10.3" fill="#10c8a0" opacity="0.9" clip-path="url(#cr3613)" filter="url(#b4)"/>
<circle cx="664.4" cy="613.6" r="8.1" fill="url(#sp3)"/>
<clipPath id="cs3613"><circle cx="664.4" cy="613.6" r="7.7"/></clipPath><g clip-path="url(#cs3613)" stroke="#04480c" stroke-width="1.1" opacity="0.28"><line x1="658.7" y1="605.5" x2="658.7" y2="614.8"/><line x1="660.3" y1="605.5" x2="660.3" y2="614.8"/><line x1="662.0" y1="605.5" x2="662.0" y2="614.8"/><line x1="663.6" y1="605.5" x2="663.6" y2="614.8"/><line x1="665.2" y1="605.5" x2="665.2" y2="614.8"/><line x1="666.8" y1="605.5" x2="666.8" y2="614.8"/></g>
<line x1="648.8" y1="482.7" x2="671" y2="482.7" stroke="#d01818" stroke-width="1"/><polygon points="673,482.7 668.5,481.0 668.5,484.4" fill="#d01818"/>
<rect x="573.6" y="505.4" width="9.3" height="121.0" fill="url(#rb)"/>
<text class="sa" x="569.9" y="495.7" font-size="4.5" fill="#444">contour-1</text>
<text class="sa" x="569.9" y="500.5" font-size="4.5" fill="#444">Static Pressure</text>
<text class="sa" x="587.3" y="507.7" font-size="4.6" fill="#333">3.00e+03</text>
<text class="sa" x="587.3" y="519.8" font-size="4.6" fill="#333">2.40e+03</text>
<text class="sa" x="587.3" y="531.9" font-size="4.6" fill="#333">1.80e+03</text>
<text class="sa" x="587.3" y="544.0" font-size="4.6" fill="#333">1.20e+03</text>
<text class="sa" x="587.3" y="556.1" font-size="4.6" fill="#333">6.00e+02</text>
<text class="sa" x="587.3" y="568.2" font-size="4.6" fill="#333">0.00e+00</text>
<text class="sa" x="586.0" y="580.3" font-size="4.6" fill="#333">-6.00e+02</text>
<text class="sa" x="586.0" y="592.4" font-size="4.6" fill="#333">-1.20e+03</text>
<text class="sa" x="586.0" y="604.5" font-size="4.6" fill="#333">-1.80e+03</text>
<text class="sa" x="586.0" y="616.6" font-size="4.6" fill="#333">-2.40e+03</text>
<text class="sa" x="586.0" y="628.7" font-size="4.6" fill="#333">-3.00e+03</text>
<text class="sa" x="569.9" y="634.0" font-size="4.6" fill="#333">( pascal )</text>
<rect x="565.1" y="647.4" width="35.9" height="10.7" fill="#fff" stroke="#c8c8c8" stroke-width="0.6"/>
<circle cx="568.9" cy="653" r="0.5" fill="#333"/><text class="sa" x="572.7" y="654" font-size="2.9" fill="#333">mixing</text>
<path d="M615.5,657.1 L615.5,724.4 L717,724.4" fill="none" stroke="#999" stroke-width="0.5"/>
<text class="sa" x="612.5" y="658.1" font-size="2.9" text-anchor="end" fill="#333">5.00e+03</text>
<line x1="614.0" y1="657.1" x2="615.5" y2="657.1" stroke="#999" stroke-width="0.4"/>
<text class="sa" x="612.5" y="664.8" font-size="2.9" text-anchor="end" fill="#333">4.00e+03</text>
<line x1="614.0" y1="663.8" x2="615.5" y2="663.8" stroke="#999" stroke-width="0.4"/>
<text class="sa" x="612.5" y="671.6" font-size="2.9" text-anchor="end" fill="#333">3.00e+03</text>
<line x1="614.0" y1="670.6" x2="615.5" y2="670.6" stroke="#999" stroke-width="0.4"/>
<text class="sa" x="612.5" y="678.3" font-size="2.9" text-anchor="end" fill="#333">2.00e+03</text>
<line x1="614.0" y1="677.3" x2="615.5" y2="677.3" stroke="#999" stroke-width="0.4"/>
<text class="sa" x="612.5" y="685.0" font-size="2.9" text-anchor="end" fill="#333">1.00e+03</text>
<line x1="614.0" y1="684.0" x2="615.5" y2="684.0" stroke="#999" stroke-width="0.4"/>
<text class="sa" x="612.5" y="691.8" font-size="2.9" text-anchor="end" fill="#333">0.00e+00</text>
<line x1="614.0" y1="690.8" x2="615.5" y2="690.8" stroke="#999" stroke-width="0.4"/>
<text class="sa" x="612.5" y="698.5" font-size="2.9" text-anchor="end" fill="#333">-1.00e+03</text>
<line x1="614.0" y1="697.5" x2="615.5" y2="697.5" stroke="#999" stroke-width="0.4"/>
<text class="sa" x="612.5" y="705.2" font-size="2.9" text-anchor="end" fill="#333">-2.00e+03</text>
<line x1="614.0" y1="704.2" x2="615.5" y2="704.2" stroke="#999" stroke-width="0.4"/>
<text class="sa" x="612.5" y="711.9" font-size="2.9" text-anchor="end" fill="#333">-3.00e+03</text>
<line x1="614.0" y1="710.9" x2="615.5" y2="710.9" stroke="#999" stroke-width="0.4"/>
<text class="sa" x="612.5" y="718.7" font-size="2.9" text-anchor="end" fill="#333">-4.00e+03</text>
<line x1="614.0" y1="717.7" x2="615.5" y2="717.7" stroke="#999" stroke-width="0.4"/>
<text class="sa" x="612.5" y="725.4" font-size="2.9" text-anchor="end" fill="#333">-5.00e+03</text>
<line x1="614.0" y1="724.4" x2="615.5" y2="724.4" stroke="#999" stroke-width="0.4"/>
<text class="sa" x="615.5" y="729.4" font-size="3" text-anchor="middle" fill="#333">0</text>
<text class="sa" x="632.4" y="729.4" font-size="3" text-anchor="middle" fill="#333">0.001</text>
<text class="sa" x="649.3" y="729.4" font-size="3" text-anchor="middle" fill="#333">0.002</text>
<text class="sa" x="666.2" y="729.4" font-size="3" text-anchor="middle" fill="#333">0.003</text>
<text class="sa" x="683.2" y="729.4" font-size="3" text-anchor="middle" fill="#333">0.004</text>
<text class="sa" x="700.1" y="729.4" font-size="3" text-anchor="middle" fill="#333">0.005</text>
<text class="sa" x="717.0" y="729.4" font-size="3" text-anchor="middle" fill="#333">0.006</text>
<text class="sa" x="666.2" y="735.6" font-size="4.4" text-anchor="middle" fill="#222">Position (m)</text>
<text class="sa" x="595.4" y="692.2" font-size="4.1" text-anchor="end" fill="#222">Static</text>
<text class="sa" x="595.4" y="696.0" font-size="4.1" text-anchor="end" fill="#222">Pressure</text>
<text class="sa" x="595.4" y="699.6" font-size="4.1" text-anchor="end" fill="#222">(pascal)</text>
<path d="M615.5,686.3 L616.8,682.7 L618.2,683.3 L619.5,684.4 L620.9,684.2 L622.2,683.9 L623.6,683.6 L624.9,683.2 L626.3,682.6 L627.6,682.1 L629.0,681.5 L630.3,681.1 L631.7,680.8 L633.0,680.7 L634.4,680.8 L635.7,681.1 L637.1,681.6 L638.4,682.2 L639.8,682.8 L641.1,683.3 L642.5,683.7 L643.8,684.0 L645.2,684.1 L646.5,684.0 L647.9,683.8 L649.2,683.5 L650.6,683.0 L651.9,682.5 L653.3,682.0 L654.6,681.7 L656.0,681.5 L657.3,681.6 L658.7,681.9 L660.0,682.3 L661.4,682.9 L662.7,683.4 L664.1,683.9 L665.4,684.3 L666.8,684.6 L668.1,684.8 L669.5,684.9 L670.8,684.8 L672.2,684.7 L673.5,684.4 L674.9,683.9 L676.2,683.4 L677.6,683.0 L678.9,682.7 L680.3,682.7 L681.6,682.9 L683.0,683.4 L684.3,683.9 L685.7,684.4 L687.0,684.7 L688.4,685.0 L689.7,685.1 L691.0,685.0 L692.4,684.8 L693.7,684.4 L695.1,684.0 L696.4,683.6 L697.8,683.2 L699.1,683.2 L700.5,683.3 L701.8,683.7 L703.2,684.2 L704.5,684.6 L705.9,685.0 L707.2,685.3 L708.6,685.4 L709.9,685.5 L711.3,685.6 L712.6,685.6 L712.6,693.2 L711.3,693.2 L709.9,693.3 L708.6,693.4 L707.2,693.5 L705.9,693.8 L704.5,694.1 L703.2,694.6 L701.8,695.0 L700.5,695.4 L699.1,695.5 L697.8,695.4 L696.4,695.1 L695.1,694.7 L693.7,694.3 L692.4,694.0 L691.0,693.8 L689.7,693.7 L688.4,693.8 L687.0,694.0 L685.7,694.4 L684.3,694.8 L683.0,695.3 L681.6,695.8 L680.3,696.0 L678.9,695.9 L677.6,695.7 L676.2,695.3 L674.9,694.8 L673.5,694.4 L672.2,694.1 L670.8,693.9 L669.5,693.9 L668.1,694.0 L666.8,694.1 L665.4,694.4 L664.1,694.8 L662.7,695.3 L661.4,695.8 L660.0,696.3 L658.7,696.7 L657.3,697.0 L656.0,697.1 L654.6,696.9 L653.3,696.6 L651.9,696.2 L650.6,695.7 L649.2,695.2 L647.9,694.9 L646.5,694.7 L645.2,694.6 L643.8,694.7 L642.5,695.0 L641.1,695.4 L639.8,695.9 L638.4,696.4 L637.1,697.0 L635.7,697.4 L634.4,697.8 L633.0,697.9 L631.7,697.8 L630.3,697.5 L629.0,697.1 L627.6,696.6 L626.3,696.0 L624.9,695.5 L623.6,695.1 L622.2,694.8 L620.9,694.5 L619.5,694.4 L618.2,693.2 L616.8,693.6 L615.5,691.4Z" fill="#000"/>
<ellipse cx="633" cy="689.8" rx="8.7" ry="25.0" fill="none" stroke="#000" stroke-width="1.15"/>
<ellipse cx="633" cy="689.8" rx="8.3" ry="19.0" fill="none" stroke="#000" stroke-width="1.0"/>
<ellipse cx="633" cy="689.8" rx="8.1" ry="15.7" fill="none" stroke="#000" stroke-width="1.0"/>
<ellipse cx="633" cy="689.8" rx="7.8" ry="12.0" fill="none" stroke="#000" stroke-width="1.0"/>
<ellipse cx="656.3" cy="689.5" rx="7.8" ry="24.9" fill="none" stroke="#000" stroke-width="1.15"/>
<ellipse cx="656.3" cy="689.5" rx="7.4" ry="18.9" fill="none" stroke="#000" stroke-width="1.0"/>
<ellipse cx="656.3" cy="689.5" rx="7.2" ry="15.7" fill="none" stroke="#000" stroke-width="1.0"/>
<ellipse cx="656.3" cy="689.5" rx="7.0" ry="12.0" fill="none" stroke="#000" stroke-width="1.0"/>
<line x1="656.3" y1="660.1" x2="656.3" y2="723.4" stroke="#000" stroke-width="0.7" stroke-dasharray="1 1"/>
<ellipse cx="679.8" cy="689.9" rx="5.8" ry="25.3" fill="none" stroke="#000" stroke-width="1.15"/>
<ellipse cx="679.8" cy="689.9" rx="5.5" ry="19.2" fill="none" stroke="#000" stroke-width="1.0"/>
<ellipse cx="679.8" cy="689.9" rx="5.4" ry="15.9" fill="none" stroke="#000" stroke-width="1.0"/>
<ellipse cx="679.8" cy="689.9" rx="5.2" ry="12.1" fill="none" stroke="#000" stroke-width="1.0"/>
<ellipse cx="699" cy="689.6" rx="5.6" ry="24.6" fill="none" stroke="#000" stroke-width="1.15"/>
<ellipse cx="699" cy="689.6" rx="5.3" ry="18.7" fill="none" stroke="#000" stroke-width="1.0"/>
<ellipse cx="699" cy="689.6" rx="5.2" ry="15.5" fill="none" stroke="#000" stroke-width="1.0"/>
<ellipse cx="699" cy="689.6" rx="5.0" ry="11.8" fill="none" stroke="#000" stroke-width="1.0"/>
</g>
</svg></body></html>
